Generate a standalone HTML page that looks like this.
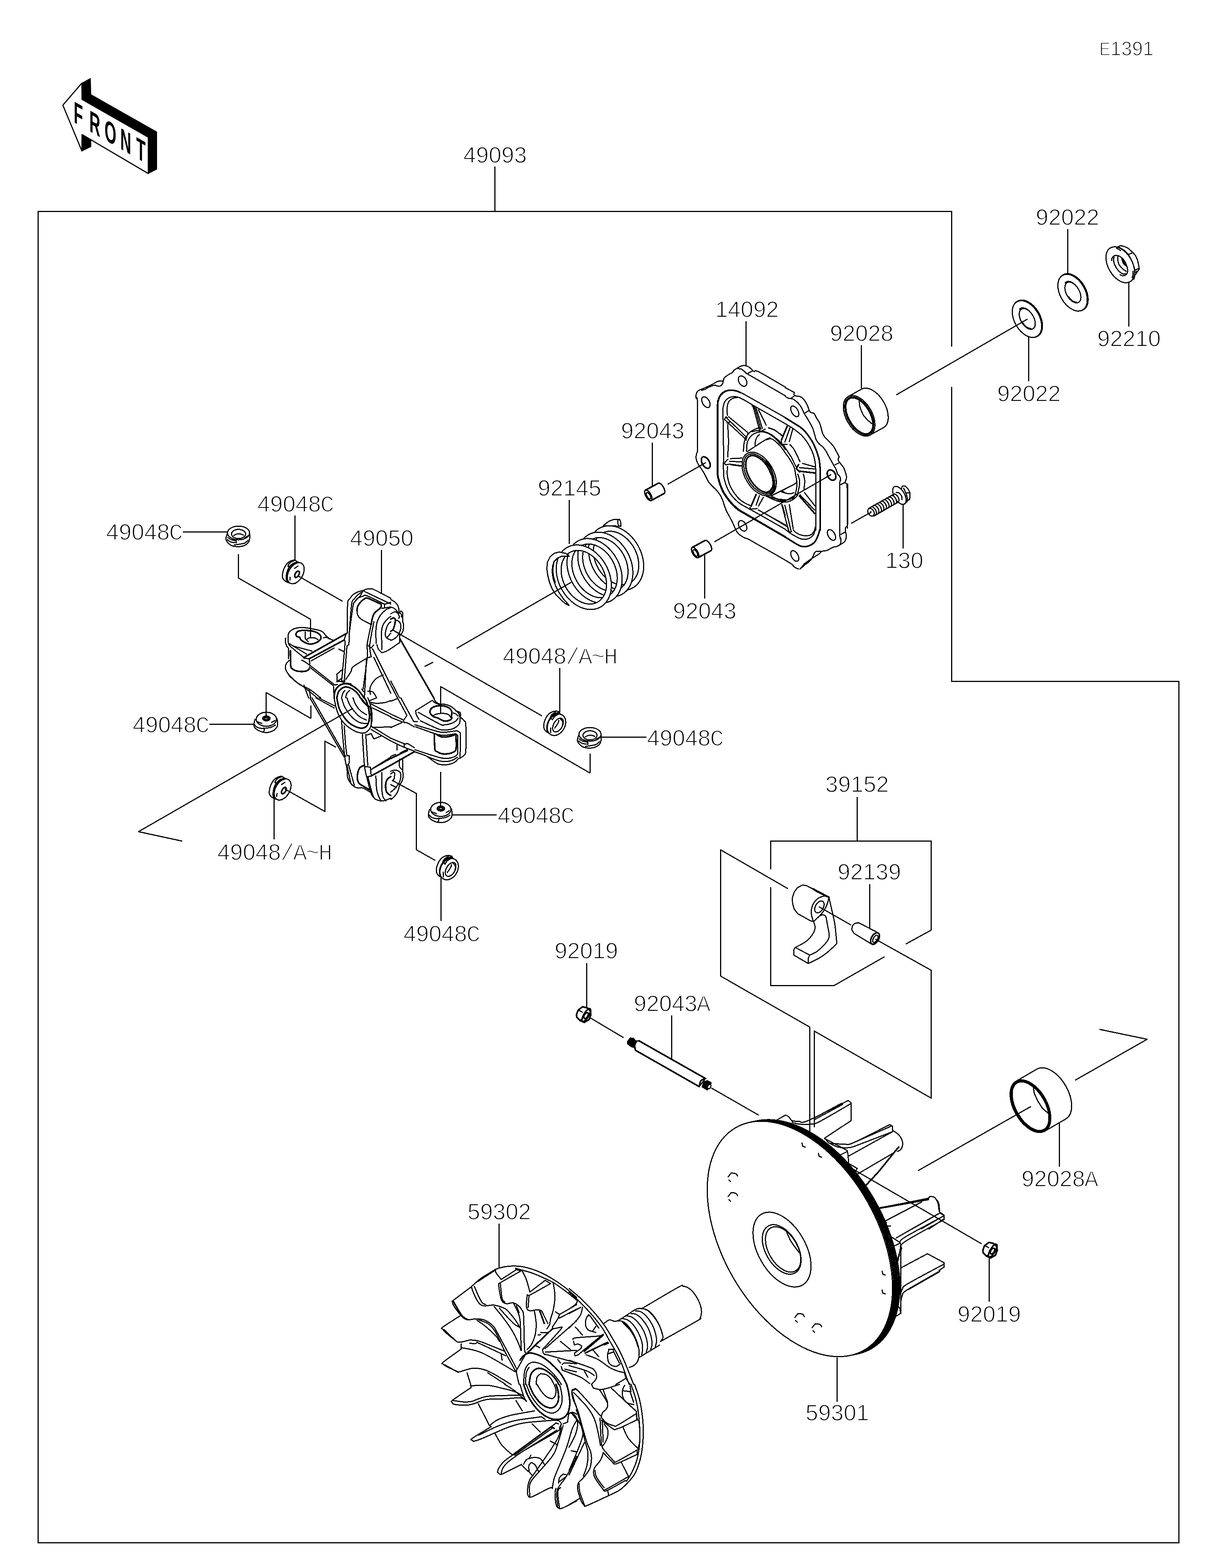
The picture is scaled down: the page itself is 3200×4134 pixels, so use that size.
<!DOCTYPE html>
<html lang="en">
<head>
<meta charset="utf-8">
<title>E1391 Drive Converter</title>
<style>
html,body{margin:0;padding:0;background:#fff;}
body{width:3200px;height:4134px;overflow:hidden;}
svg{display:block;shape-rendering:crispEdges;}
.L{fill:none;stroke:#000;stroke-width:3;stroke-linecap:butt;stroke-linejoin:round;}
.l{fill:none;stroke:#000;stroke-width:3;stroke-linecap:round;stroke-linejoin:round;}
.n{fill:none;stroke:#000;stroke-width:2.2;stroke-linecap:round;stroke-linejoin:round;}
.b{fill:none;stroke:#000;stroke-width:4.2;stroke-linecap:round;stroke-linejoin:round;}
.f{fill:#fff;stroke:#000;stroke-width:3;stroke-linejoin:round;}
.k{fill:#000;stroke:#000;stroke-width:1.5;stroke-linejoin:round;}
.w{fill:#fff;stroke:none;}

.t{font-family:"Liberation Sans",sans-serif;font-size:60px;fill:#000;stroke:#fff;stroke-width:2px;}
.m{font-family:"Liberation Mono",monospace;font-size:62px;stroke-width:2.6px;}
.fr{font-family:"Liberation Sans",sans-serif;font-weight:bold;font-size:80px;fill:#000;text-anchor:middle;}
</style>
</head>
<body>
<svg width="3200" height="4134" viewBox="0 0 3200 4134">
<rect x="0" y="0" width="3200" height="4134" fill="#fff"/>
<g id="frame" class="L">
<path d="M2508.5 914 V557.5 H100.5 V4067.5 H3107.5 V1796.5 H2508.5 V1020"/>
<path d="M1304.5 439 V557"/>
</g>
<g id="front" shape-rendering="geometricPrecision">
<path class="k" d="M215.9 219 L238.5 206.6 L239.7 249.2 L413.2 347.6 L413.2 446.1 L391 457.6 L391 361.8 L216.3 262 Z"/>
<path class="k" d="M216.3 354.7 L239.7 368 L239.7 386.7 L215.9 398.2 Z"/>
<path class="f" style="stroke-width:3" d="M165.7 277.2 L215.9 219 L216.3 262 L391 361.8 L391 457.6 L216.3 354.7 L215.9 398.2 Z"/>
<text class="fr" transform="matrix(0.5 0.2855 0 1 206.5 329)" x="0 87 169 250 330" y="0">FRONT</text>
</g>
<g id="washers">
<ellipse class="f" cx="2828.8" cy="770.7" rx="53.3" ry="33.5" transform="rotate(60 2828.8 770.7)"/>
<ellipse class="f" cx="2827.2" cy="771.6" rx="52.6" ry="32.8" transform="rotate(60 2827.2 771.6)"/>
<ellipse class="f" cx="2828" cy="771.1" rx="30.1" ry="17.1" transform="rotate(60 2828 771.1)"/>
<path class="l" d="M2807.7 745.4 A31.5 18.4 60 0 1 2835.6 752.7"/>
<path class="l" d="M2837.5 796.8 A30.1 17.1 60 0 1 2816.5 782.3"/>
<ellipse class="f" cx="2708.5" cy="840.3" rx="53.3" ry="33.5" transform="rotate(60 2708.5 840.3)"/>
<ellipse class="f" cx="2707" cy="841.2" rx="52.6" ry="32.8" transform="rotate(60 2707 841.2)"/>
<ellipse class="f" cx="2707.8" cy="840.8" rx="30.1" ry="17.1" transform="rotate(60 2707.8 840.8)"/>
<path class="l" d="M2687.5 815.1 A31.5 18.4 60 0 1 2715.3 822.4"/>
<path class="l" d="M2717.3 866.4 A30.1 17.1 60 0 1 2696.3 851.9"/>
<path class="L" d="M2362.4 1041.2 L2708.4 841.2"/>
</g>
<g id="nut">
<path class="f" d="M2947.1 650.7 L2953.7 647.6 L2963.7 649.9 L2973.6 654.4 L2986 665.6 L2992.7 673.1 L2998.5 685.5 L3001.4 698.7 L3002.6 707 L3003.4 708.7 L3000.1 713.6 L2991.8 725.2 L2989.3 735.1 L2981.1 740.5 L2973.6 744.3 L2952.9 698.1 Z"/>
<path class="l" d="M2950.4 652.4 L2964.5 660.6 L2972.8 669.7 L2977.8 676.4 L2981.1 684.6 L2986 694.6 L2989.3 704.5 L2991.4 712.8 L2990.2 721.1 L2987.7 731.8 L2981.1 739.3"/>
<path class="l" d="M2973.6 671.4 L2984.8 666.4"/>
<path class="l" d="M2991.4 712.4 L3000.9 708.2"/>
<path class="l" d="M2993.5 718.2 L2996.8 714.9"/>
<ellipse class="f" cx="2952.9" cy="698.1" rx="51.5" ry="31.7" transform="rotate(60 2952.9 698.1)"/>
<path class="l" d="M2943 654.4 L2948.8 656.9 L2953.7 660.6"/>
<path class="l" d="M2986.5 715.3 L2986.7 723.6 L2984.4 731.8"/>
<path class="l" d="M2930.6 686.7 L2931 681.3 L2933.9 676.4 L2938 673.9 L2943 673.5 L2948 674.3 L2952.9 676.4 L2960.4 683 L2967 692.9 L2971.1 704.5 L2972.8 712.8 L2971.5 719.4 L2968.7 723.6 L2964.5 726.5 L2958.7 727.3 L2952.5 724.4"/>
<path class="l" d="M2936.4 677.2 L2935.4 683 L2935.5 688 L2937.2 696.2 L2943 707 L2948 713.6 L2954.6 719.4 L2960.4 722.7 L2966.2 721.9"/>
<path class="l" d="M2946.3 676.4 L2946.1 683 L2946.7 688 L2949.6 697.9 L2955.4 705.3 L2962 711.1 L2968.7 715.3"/>
<path class="k" d="M2956.2 681.3 L2960.4 683.8 L2964.5 689.6 L2967.8 695.4 L2969.9 703.3 L2964.5 698.7 L2960.4 695.4 L2957.9 688 Z"/>
</g>
<g id="bushing92028">
<ellipse class="f" cx="2299.7" cy="1076.8" rx="58.4" ry="34.2" transform="rotate(60 2299.7 1076.8)"/>
<path class="w" d="M2235.5 1045.7 L2270.5 1026.2 L2328.8 1127.3 L2293.9 1146.8Z"/>
<path class="l" d="M2235.5 1045.7 L2270.5 1026.2"/>
<path class="l" d="M2293.9 1146.8 L2328.8 1127.3"/>
<ellipse class="f" cx="2264.7" cy="1096.3" rx="58.4" ry="34.2" transform="rotate(60 2264.7 1096.3)"/>
<ellipse class="l" cx="2264.9" cy="1096.3" rx="54.9" ry="30.7" transform="rotate(60 2264.9 1096.3)"/>
<ellipse class="f" cx="2265.1" cy="1096.3" rx="52" ry="27.9" transform="rotate(60 2265.1 1096.3)"/>
<path class="l" d="M2264.8 1058.3 L2265.5 1066.3 L2266.9 1073.4 L2270.8 1084 L2275.8 1094.7 L2286.4 1107.1 L2298 1116.8"/>
</g>
<g id="bushing92028A">
<ellipse class="f" cx="2771.2" cy="2884.5" rx="75.9" ry="43.6" transform="rotate(60 2771.2 2884.5)"/>
<path class="w" d="M2678.2 2850.7 L2733.2 2818.7 L2809.1 2950.3 L2754.1 2982.2Z"/>
<path class="l" d="M2678.2 2850.7 L2733.2 2818.7"/>
<path class="l" d="M2754.1 2982.2 L2809.1 2950.3"/>
<ellipse class="f" cx="2716.2" cy="2916.4" rx="75.9" ry="43.6" transform="rotate(60 2716.2 2916.4)"/>
<ellipse class="l" cx="2716.3" cy="2916.4" rx="73" ry="40.7" transform="rotate(60 2716.3 2916.4)"/>
<ellipse class="f" cx="2716.5" cy="2916.4" rx="70.6" ry="38.3" transform="rotate(60 2716.5 2916.4)"/>
<path class="l" d="M2723.8 2866.9 L2726.4 2882.9 L2735.3 2902.4 L2747.7 2921.9 L2761.9 2934.3"/>
</g>
<g class="th"><g id="coverA">
<path class="l" d="M1838.5 1190 C1838.5 1168.8 1839.1 1086.1 1838.5 1062.7 C1837.9 1039.3 1835.4 1053.1 1834.8 1049.4 C1834.2 1045.7 1834.4 1043 1834.8 1040.5 C1835.2 1038.1 1836 1036.4 1837 1034.6 C1838 1032.8 1837.9 1031.6 1840.7 1029.9 C1843.5 1028.2 1849.3 1026.3 1854 1024.3 C1858.7 1022.2 1864.1 1019.8 1868.8 1017.6 C1873.5 1015.4 1878.2 1013 1882.1 1011 C1886 1008.9 1888.4 1006.4 1892.4 1005.3 C1896.5 1004.3 1904.1 1004.9 1906.5 1004.8 C1906.9 1003.4 1907.3 999.1 1908.7 996.9 C1910.1 994.8 1912.2 993.6 1914.6 991.7 C1917.1 989.9 1920.8 987.4 1923.5 985.8 C1926.2 984.2 1929.2 983.6 1930.9 982.1 C1932.6 980.7 1931.9 978.8 1933.8 977 C1935.8 975.1 1939.5 973 1942.7 971 C1945.9 969.1 1950.1 966.4 1953.1 965.1 C1956 963.9 1958.2 963.8 1960.4 963.7 C1962.7 963.5 1964.1 963.8 1966.4 964.4 C1968.6 965 1971.5 966 1973.8 967.4 C1976 968.7 1977.9 970.9 1979.7 972.5 C1981.4 974.1 1982.6 975.7 1984.1 977 C1985.6 978.2 1986 979.4 1988.5 979.9 C1991.1 980.5 1986.1 973.4 1999.6 980.2 C2013.2 987 2058.3 1013.8 2070 1020.6"/>
<path class="l" d="M1849.6 1029.1 C1851 1028.7 1855.2 1027.9 1858.4 1026.5 C1861.6 1025.1 1864.6 1022.4 1868.8 1020.6 C1873 1018.7 1880.1 1015.9 1883.6 1015.4 C1887 1014.9 1887 1017.2 1889.5 1017.6 C1891.9 1018 1895.9 1018.5 1898.4 1017.6 C1900.8 1016.8 1902.9 1014.5 1904.3 1012.4 C1905.6 1010.3 1906.1 1006.3 1906.5 1005.1"/>
<path class="l" d="M1945.7 971.8 C1946.9 972 1950.6 971.8 1953.1 972.8 C1955.5 973.8 1958 975.8 1960.4 977.7 C1962.9 979.6 1965.4 982.5 1967.8 984.4 C1970.3 986.2 1958.2 978.9 1975.2 988.8 C1992.3 998.6 2054.2 1034.4 2070 1043.5"/>
<path class="l" d="M1972.3 983.6 L1982.6 978.7"/>
<ellipse class="l" cx="1957.3" cy="1004.7" rx="14.7" ry="9.9" transform="rotate(60 1957.3 1004.7)"/>
<ellipse class="l" cx="1860.7" cy="1060.3" rx="15.5" ry="9.1" transform="rotate(60 1860.7 1060.3)"/>
<path class="l" d="M1891 1190 C1891 1169.8 1890.8 1090.6 1891 1068.6 C1891.1 1046.7 1891.3 1061.7 1892 1058.3 C1892.7 1054.8 1893.7 1050.9 1895 1047.9 C1896.2 1045 1897.4 1042.9 1899.4 1040.5 C1901.4 1038.1 1903.8 1035.5 1906.8 1033.6 C1909.8 1031.7 1913.6 1030 1917.6 1029.1 C1921.6 1028.3 1926.7 1028.2 1930.9 1028.4 C1935.1 1028.7 1939 1029.5 1942.7 1030.6 C1946.4 1031.7 1948.9 1033 1953.1 1035.1 C1957.2 1037.2 1948.4 1032.2 1967.8 1043.2 C1987.3 1054.2 2053 1091.2 2070 1100.9"/>
<path class="l" d="M1892.4 1190 C1892.4 1169.8 1892.3 1090.5 1892.4 1068.6 C1892.6 1046.7 1892.8 1062 1893.5 1058.7 C1894.1 1055.4 1895.1 1051.5 1896.3 1048.7 C1897.5 1045.8 1898.8 1043.7 1900.7 1041.4 C1902.6 1039.1 1904.9 1036.8 1907.8 1034.9 C1910.7 1033.1 1914.2 1031.2 1918 1030.3 C1921.9 1029.4 1926.8 1029.3 1930.9 1029.6 C1934.9 1029.8 1938.8 1030.7 1942.4 1031.8 C1946 1032.9 1950.9 1035.5 1952.6 1036.2"/>
<path class="l" d="M1907.2 1190 C1907.1 1180.4 1906.7 1150.5 1906.5 1132.2 C1906.2 1113.9 1905.6 1091 1905.7 1080.4 C1905.9 1069.9 1906.5 1072.1 1907.2 1068.6 C1908 1065.2 1908.7 1062.5 1910.2 1059.8 C1911.7 1057 1913.6 1054.5 1916.1 1052.4 C1918.6 1050.3 1921.8 1048.3 1925 1047.2 C1928.2 1046.1 1931.9 1045.7 1935.3 1045.7 C1938.8 1045.7 1942.2 1046.2 1945.7 1047.2 C1949.1 1048.2 1952.3 1049.8 1956 1051.6 C1959.7 1053.5 1963.4 1055.7 1967.8 1058.3 C1972.3 1060.9 1978.7 1064.8 1982.6 1067.1 C1986.6 1069.5 1976.9 1064 1991.5 1072.3 C2006.1 1080.6 2056.9 1109.6 2070 1117.1"/>
<path class="l" d="M1917.6 1095.2 C1917.3 1092.8 1916.1 1084.9 1916.1 1080.4 C1916.1 1076 1916.8 1072.1 1917.6 1068.6 C1918.3 1065.2 1919.1 1062.3 1920.5 1059.8 C1922 1057.2 1924 1054.9 1926.4 1053.1 C1928.9 1051.3 1932.1 1050 1935.3 1049.1 C1938.5 1048.2 1943.9 1048.1 1945.7 1047.9"/>
<path class="l" d="M1918.3 1118.9 C1918.6 1126 1920.1 1149.9 1920.2 1161.8 C1920.4 1173.6 1919.3 1185.3 1919.1 1190"/>
<path class="l" d="M1920.8 1098.9 L1971.5 1140.8"/>
<path class="l" d="M1914.6 1101.1 L1965.6 1150.7"/>
<path class="l" d="M1909.4 1105.6 L1962.7 1155.1"/>
<path class="l" d="M1909.4 1105.6 L1913.9 1098.9 L1917.6 1101.9"/>
<path class="l" d="M1916.8 1115.2 L1923.5 1112.7"/>
<path class="l" d="M1982.6 1070.1 C1983.4 1071.6 1983.7 1067.9 1987.1 1079 C1990.4 1090.1 2000 1127 2002.6 1136.6"/>
<path class="l" d="M1990 1076 L2005.5 1132.2"/>
<path class="l" d="M1993.7 1077.5 L2009.2 1129.2"/>
<path class="l" d="M1999.6 1080.4 L2019.6 1121.1"/>
<path class="k" d="M1982.6 1070.1 L1992.2 1075.3 L1987.8 1078.2Z"/>
<path class="l" d="M2001.1 1131.5 L2004.8 1138.1 L2016.6 1131.5"/>
<path class="l" d="M1959.7 1190 C1959.8 1187.8 1960 1181.3 1960.4 1176.5 C1960.9 1171.8 1961.8 1165.5 1962.7 1161.8 C1963.5 1158.1 1964.5 1156.6 1965.6 1154.4 C1966.7 1152.2 1967.5 1150.9 1969.3 1148.5 C1971.2 1146 1974 1142.1 1976.7 1139.6 C1979.4 1137.1 1982.6 1135.3 1985.6 1133.7 C1988.5 1132.1 1991.7 1131 1994.5 1130 C1997.2 1129 2000.6 1128.1 2001.8 1127.8"/>
<path class="l" d="M2010.7 1136.6 C2013.4 1137.6 2021.8 1139.8 2027 1142.5 C2032.2 1145.3 2037.1 1149.2 2041.8 1152.9 C2046.4 1156.6 2051.4 1160.8 2055.1 1164.7 C2058.8 1168.7 2061.4 1173.1 2063.9 1176.5 C2066.4 1180 2069 1183.9 2070 1185.4"/>
<path class="l" d="M1967.8 1190 C1968.1 1186.5 1968.3 1174.6 1969.3 1169.2 C1970.3 1163.7 1971.5 1161 1973.8 1157.3 C1976 1153.6 1979.4 1149.7 1982.6 1147 C1985.8 1144.3 1989.3 1142.4 1993 1141.1 C1996.7 1139.7 2000.9 1139.1 2004.8 1138.8 C2008.7 1138.6 2012.4 1138.5 2016.6 1139.6 C2020.8 1140.7 2025.7 1143 2029.9 1145.5 C2034.1 1148 2038.1 1151.2 2041.8 1154.4 C2045.5 1157.6 2049.2 1161.5 2052.1 1164.7 C2055.1 1167.9 2058.3 1172.1 2059.5 1173.6"/>
<path class="l" d="M1982.6 1138.1 C1984.1 1137.7 1988.3 1136.4 1991.5 1135.9 C1994.7 1135.4 2000.1 1135.3 2001.8 1135.2"/>
<path class="l" d="M1990 1176.5 C1990.3 1174.1 1990.5 1166 1991.5 1161.8 C1992.5 1157.6 1994.2 1154.1 1995.9 1151.4 C1997.7 1148.7 2000.9 1146.5 2001.8 1145.5"/>
<path class="l" d="M1970.8 1190 C1978.4 1185 2006.8 1166.2 2016.6 1160.3 C2026.5 1154.3 2027.7 1155.4 2029.9 1154.4"/>
<path class="l" d="M2025.5 1127.8 C2028.2 1128.7 2037.1 1131.2 2041.8 1133.7 C2046.4 1136.1 2050.1 1139.8 2053.6 1142.5 C2057 1145.3 2061 1148.7 2062.5 1149.9"/>
<path class="n" d="M1962.7 1155.1 L1966.4 1161.8 L1971.5 1140.8"/>
</g>
<g id="coverB">
<path class="l" d="M2093.9 1034.7 L2092.4 1039.9 C2093.2 1040.5 2094.4 1042.8 2096.9 1043.6 C2099.3 1044.5 2104.3 1044.2 2107.2 1045.1 C2110.2 1046 2112.2 1046.7 2114.6 1048.8 C2117.1 1050.9 2119.8 1054.5 2122 1057.7 C2124.2 1060.9 2126.2 1064.3 2127.9 1068 C2129.6 1071.7 2130.9 1076.6 2132.4 1079.8 C2133.8 1083 2134.6 1085.5 2136.8 1087.2 C2139 1089 2143 1087.5 2145.7 1090.2 C2148.4 1092.9 2150.8 1099.8 2153.1 1103.5 C2155.3 1107.2 2157.2 1108.9 2159 1112.4 C2160.7 1115.8 2162.2 1120.2 2163.4 1124.2 C2164.6 1128.1 2165.4 1132.6 2166.4 1136 C2167.3 1139.5 2167.8 1141.9 2169.3 1144.9 C2170.8 1147.8 2172.3 1150.3 2175.2 1153.8 C2178.2 1157.2 2183.4 1161.6 2187.1 1165.6 C2190.8 1169.5 2194.5 1173.2 2197.4 1177.4 C2200.4 1181.6 2202.3 1186.2 2204.8 1190.7 C2207.3 1195.3 2211 1202.4 2212.2 1204.8 C2211.7 1205.6 2209.6 1208.3 2209.2 1209.9 C2208.9 1211.5 2209 1212.4 2210 1214.4 C2211 1216.3 2212.8 1218.6 2215.2 1221.8 C2217.5 1225 2221.6 1228.9 2224 1233.6 C2226.5 1238.3 2228.9 1247.3 2229.9 1250"/>
<path class="l" d="M2070 1022.2 L2093.9 1034.7"/>
<path class="l" d="M2070 1045.1 C2071.5 1046 2075.9 1049.2 2079.1 1050.3 C2082.4 1051.4 2086.3 1050.5 2089.5 1051.7 C2092.7 1053 2095.4 1055.2 2098.4 1057.7 C2101.3 1060.1 2104.5 1063.1 2107.2 1066.5 C2109.9 1070 2112.6 1074.7 2114.6 1078.4 C2116.6 1082.1 2117.1 1085 2119.1 1088.7 C2121 1092.4 2123.5 1095.6 2126.4 1100.5 C2129.4 1105.5 2134.1 1113.3 2136.8 1118.3 C2139.5 1123.2 2141 1125.7 2142.7 1130.1 C2144.4 1134.5 2145.7 1140 2147.1 1144.9 C2148.6 1149.8 2149.6 1155.5 2151.6 1159.7 C2153.6 1163.9 2156 1166.8 2159 1170 C2161.9 1173.2 2166.1 1175.4 2169.3 1178.9 C2172.5 1182.3 2176 1187.3 2178.2 1190.7 C2180.4 1194.2 2179.4 1193.7 2182.6 1199.6 C2185.8 1205.5 2194 1220 2197.4 1226.2 C2200.9 1232.4 2201.6 1232.6 2203.3 1236.5 C2205 1240.5 2207 1247.8 2207.8 1250"/>
<path class="l" d="M2085.8 1049.5 L2093.9 1044.1"/>
<path class="l" d="M2122 1088.7 L2131.6 1082.8"/>
<path class="l" d="M2201.1 1225.5 L2211.5 1220.3"/>
<ellipse class="l" cx="2095" cy="1084.5" rx="15.7" ry="8.4" transform="rotate(60 2095 1084.5)"/>
<path class="b" d="M2070 1101.4 C2074 1103.9 2087.5 1112.5 2093.9 1116.5 C2100.4 1120.5 2104.3 1122.4 2108.7 1125.7 C2113.1 1128.9 2116.6 1131.8 2120.5 1136 C2124.5 1140.2 2128.7 1145.6 2132.4 1150.8 C2136.1 1156 2139.8 1161.6 2142.7 1167.1 C2145.7 1172.5 2147.9 1177.9 2150.1 1183.3 C2152.3 1188.7 2154.4 1194.4 2156 1199.6 C2157.6 1204.8 2158.7 1208.2 2159.7 1214.4 C2160.7 1220.5 2161.6 1230.6 2161.9 1236.5 C2162.3 1242.5 2161.9 1247.8 2161.9 1250"/>
<path class="l" d="M2070 1117.1 C2071.5 1118 2075.6 1120.5 2079.1 1122.7 C2082.6 1124.9 2087 1127.4 2091 1130.1 C2094.9 1132.8 2098.8 1135.8 2102.8 1139 C2106.7 1142.2 2110.7 1145.1 2114.6 1149.3 C2118.6 1153.5 2122.7 1158.7 2126.4 1164.1 C2130.1 1169.5 2133.8 1175.9 2136.8 1181.8 C2139.8 1187.8 2142.2 1193.4 2144.2 1199.6 C2146.2 1205.7 2147.6 1212.6 2148.6 1218.8 C2149.6 1225 2149.7 1231.3 2150.1 1236.5 C2150.5 1241.7 2150.7 1247.8 2150.8 1250"/>
<path class="b" d="M2074.7 1124.2 L2059.9 1159.7"/>
<path class="l" d="M2082.1 1128.6 L2068.8 1165.6"/>
<path class="l" d="M2089.5 1131.6 L2080.6 1164.1"/>
<path class="l" d="M2059.2 1159.7 L2060.7 1171.5 L2074.7 1171.5"/>
<path class="l" d="M2025.2 1127.9 C2028 1129 2036.1 1131.2 2042.2 1134.5 C2048.2 1137.9 2058.2 1145.6 2061.4 1147.8"/>
<path class="l" d="M2020 1139.7 C2022 1140.6 2027.6 1142.3 2031.8 1144.9 C2036 1147.5 2041.2 1152 2045.1 1155.2 C2049.1 1158.4 2053.8 1162.6 2055.5 1164.1"/>
<path class="l" d="M2020 1159.7 C2021.5 1159.2 2026.2 1157 2028.9 1156.7 C2031.6 1156.5 2032.8 1156.2 2036.3 1158.2 C2039.7 1160.2 2045.4 1164.6 2049.6 1168.5 C2053.8 1172.5 2057.7 1177.2 2061.4 1181.8 C2065.1 1186.5 2068.8 1192.4 2071.7 1196.6 C2074.7 1200.8 2076.7 1203.3 2079.1 1207 C2081.6 1210.7 2084.1 1214.4 2086.5 1218.8 C2089 1223.2 2092.2 1228.4 2093.9 1233.6 C2095.6 1238.8 2096.4 1247.3 2096.9 1250"/>
<path class="l" d="M2065.8 1174.5 C2067.6 1177.2 2073 1185.8 2076.2 1190.7 C2079.4 1195.6 2082.3 1199.3 2085.1 1204 C2087.8 1208.7 2090.2 1214.4 2092.4 1218.8 C2094.7 1223.2 2097.4 1228.7 2098.4 1230.6"/>
<path class="l" d="M2082.1 1172.2 C2083.6 1173.8 2088 1177.5 2091 1181.8 C2093.9 1186.2 2096.9 1192.2 2099.8 1198.1 C2102.8 1204 2107.2 1214.1 2108.7 1217.3"/>
<path class="l" d="M2115.4 1221.8 L2147.1 1230.6"/>
<path class="l" d="M2107.2 1232.9 L2147.1 1236.5"/>
<path class="b" d="M2108.7 1242.5 L2147.1 1246.9"/>
<path class="b" d="M2105 1224.7 L2099.1 1235.1 L2107.2 1243.9"/>
<path class="l" d="M2020 1214.4 C2021.5 1216.6 2025.9 1221.7 2028.9 1227.7 C2031.8 1233.6 2036.3 1246.3 2037.7 1250"/>
<path class="l" d="M2020 1221.8 L2031.8 1250"/>
</g>
<g id="coverC">
<path class="l" d="M1838.5 1190 C1838 1191.5 1836.1 1195.9 1835.5 1198.9 C1834.9 1201.8 1834.5 1204.8 1834.8 1207.7 C1835 1210.7 1835.8 1213.4 1837 1216.6 C1838.2 1219.8 1840.1 1223.5 1842.2 1227 C1844.3 1230.4 1846.9 1233.1 1849.6 1237.3 C1852.3 1241.5 1855.5 1246.7 1858.4 1252.1 C1861.4 1257.5 1864.4 1265.2 1867.3 1269.8 C1870.3 1274.5 1872.5 1276.2 1876.2 1280.2 C1879.9 1284.1 1885.8 1289.3 1889.5 1293.5 C1893.2 1297.7 1895.9 1301.4 1898.4 1305.3 C1900.8 1309.3 1902.5 1313 1904.3 1317.1 C1906 1321.3 1907 1325.5 1908.7 1330.4 C1910.4 1335.4 1912.2 1341.3 1914.6 1346.7 C1917.1 1352.1 1920.5 1357.3 1923.5 1363 C1926.4 1368.6 1929.9 1375.5 1932.4 1380.7 C1934.8 1385.9 1936.5 1390.3 1938.3 1394 C1940 1397.7 1940.7 1400.2 1942.7 1402.9 C1944.7 1405.6 1946.9 1407.8 1950.1 1410.3 C1953.3 1412.7 1958 1415.7 1961.9 1417.7 C1965.9 1419.6 1966.6 1418.4 1973.8 1422.1 C1980.9 1425.8 1999.6 1437 2004.8 1440"/>
<ellipse class="b" cx="1860.4" cy="1219.6" rx="16.7" ry="9.6" transform="rotate(60 1860.4 1219.6)"/>
<ellipse class="l" cx="1957.5" cy="1386.4" rx="15" ry="9.4" transform="rotate(60 1957.5 1386.4)"/>
<path class="b" d="M1891.4 1190 C1891.4 1199.9 1891 1236.8 1891.4 1249.1 C1891.8 1261.5 1892.8 1259 1893.9 1263.9 C1895.1 1268.8 1896.4 1273.3 1898.4 1278.7 C1900.3 1284.1 1902.8 1290.8 1905.7 1296.4 C1908.7 1302.1 1912.2 1307.3 1916.1 1312.7 C1920 1318.1 1924.5 1323.8 1929.4 1329 C1934.3 1334.1 1939.3 1339.1 1945.7 1343.8 C1952.1 1348.4 1947.1 1345 1967.8 1357.1 C1988.6 1369.1 2053 1406.3 2070 1416.2"/>
<path class="l" d="M1892.7 1190 C1892.7 1199.9 1892.3 1236.9 1892.7 1249.1 C1893.2 1261.4 1894.1 1258.8 1895.3 1263.6 C1896.4 1268.5 1897.7 1272.8 1899.7 1278.1 C1901.7 1283.4 1904.1 1290 1907.1 1295.6 C1910 1301.2 1913.5 1306.3 1917.4 1311.7 C1921.3 1317 1925.7 1322.7 1930.6 1327.8 C1935.5 1332.9 1940.4 1337.8 1946.7 1342.4 C1953 1347.1 1948 1343.7 1968.6 1355.7 C1989.1 1367.8 2053.1 1404.8 2070 1414.6"/>
<path class="l" d="M1907.2 1190 C1907.2 1199.9 1906.7 1236.3 1907.2 1249.1 C1907.7 1261.9 1908.7 1261 1910.2 1266.9 C1911.7 1272.8 1913.9 1279.2 1916.1 1284.6 C1918.3 1290 1920.3 1294.5 1923.5 1299.4 C1926.7 1304.3 1930.9 1309.5 1935.3 1314.2 C1939.8 1318.9 1944.7 1323.6 1950.1 1327.5 C1955.5 1331.4 1960 1333.4 1967.8 1337.8 C1975.7 1342.3 1980.4 1344.5 1997.4 1354.1 C2014.4 1363.7 2057.9 1388.6 2070 1395.5"/>
<path class="l" d="M1917.6 1229.9 C1917.5 1233.1 1916.6 1243.5 1916.8 1249.1 C1917.1 1254.8 1917.9 1259 1919.1 1263.9 C1920.2 1268.8 1921.8 1274.3 1923.5 1278.7 C1925.2 1283.1 1926.9 1286.3 1929.4 1290.5 C1931.9 1294.7 1935.1 1299.6 1938.3 1303.8 C1941.5 1308 1944.9 1312.2 1948.6 1315.7 C1952.3 1319.1 1955.8 1321.7 1960.4 1324.5 C1965.1 1327.4 1974 1331.3 1976.7 1332.7"/>
<path class="l" d="M1998.9 1344.5 L2070 1383.7"/>
<path class="l" d="M1918.3 1190 L1918.3 1204.8"/>
<path class="l" d="M1925.7 1209.2 L1956 1207.7"/>
<path class="l" d="M1923.5 1216.6 L1954.5 1217.4"/>
<path class="b" d="M1926.4 1224.7 L1953.1 1228.4"/>
<path class="l" d="M1919.1 1210 L1908.7 1221.8 L1913.1 1225.5 L1925 1223.3"/>
<ellipse class="l" cx="2001.1" cy="1249.5" rx="62.5" ry="37.5" transform="rotate(60 2001.1 1249.5)"/>
<ellipse class="l" cx="2001.1" cy="1249.5" rx="58" ry="32.9" transform="rotate(60 2001.1 1249.5)"/>
<ellipse class="b" cx="2001.8" cy="1249.5" rx="53.5" ry="28.2" transform="rotate(60 2001.8 1249.5)"/>
<path class="b" d="M1993 1303.8 L1979.7 1334.9"/>
<path class="l" d="M2001.8 1306.8 L1993 1331.9"/>
<path class="l" d="M2012.2 1311.2 L1998.9 1334.9"/>
<path class="l" d="M1976.7 1337.8 L1979.7 1342.3 L1995.9 1340.8"/>
<path class="l" d="M2034.4 1306.8 L2070 1289.1"/>
<path class="l" d="M2024 1306.8 C2026.5 1308.5 2033.4 1314.7 2038.8 1317.1 C2044.2 1319.6 2051.3 1320.8 2056.5 1321.6 C2061.7 1322.3 2067.8 1321.6 2070 1321.6"/>
<path class="l" d="M2029.9 1305.3 C2033.1 1307 2042.5 1313.7 2049.2 1315.7 C2055.8 1317.6 2066.5 1316.9 2070 1317.1"/>
<path class="l" d="M2061 1293.5 L2070 1299.4"/>
<path class="l" d="M2062.5 1331.9 L2070 1360"/>
</g>
<g id="coverD">
<path class="l" d="M2229.9 1250 C2230.2 1251.5 2231.7 1255.7 2231.4 1258.9 C2231.2 1262.1 2229.2 1267 2228.5 1269.2 C2227.7 1271.4 2227.2 1271.7 2227 1272.2 L2232.9 1275.9 C2233.1 1293.7 2233.9 1364.5 2233.9 1383.1 C2233.9 1401.7 2233.7 1386.3 2232.9 1387.5 C2232.1 1388.7 2229.9 1388.2 2229.2 1390.4 C2228.5 1392.7 2228.2 1397.6 2228.5 1400.8 C2228.7 1404 2230.4 1406.5 2230.7 1409.7 C2230.9 1412.9 2230.8 1416.8 2229.9 1420 C2229.1 1423.2 2227.7 1426.4 2225.5 1428.9 C2223.3 1431.4 2219.8 1432.8 2216.6 1434.8 C2213.4 1436.8 2209.5 1439.5 2206.3 1440.7 C2203.1 1441.9 2200.4 1441.2 2197.4 1442.2 C2194.5 1443.2 2191.5 1445.2 2188.5 1446.6 C2185.6 1448.1 2183.4 1450 2179.7 1451.1 C2176 1452.2 2170.8 1452.9 2166.4 1453.3 C2161.9 1453.7 2156.3 1452.7 2153.1 1453.3 C2149.9 1453.9 2148.6 1455.1 2147.1 1457 C2145.7 1458.8 2145.7 1461.4 2144.2 1464.4 C2142.7 1467.3 2140.7 1471.5 2138.3 1474.7 C2135.8 1477.9 2132.4 1481.1 2129.4 1483.6 C2126.4 1486.1 2123 1487.5 2120.5 1489.5 C2118.1 1491.5 2116.6 1493.7 2114.6 1495.4 C2112.6 1497.2 2109.7 1499.2 2108.7 1500"/>
<path class="l" d="M2234.4 1276.6 L2234.4 1383.1"/>
<path class="l" d="M2207.8 1250 C2208.5 1250.7 2211 1252.7 2212.2 1254.4 C2213.4 1256.2 2214.5 1258.1 2215.2 1260.3 C2215.8 1262.6 2216.1 1264.5 2215.9 1267.7 C2215.6 1270.9 2214 1256.4 2213.7 1279.6 C2213.3 1302.7 2213.2 1383.3 2213.7 1406.7 C2214.2 1430.1 2216.3 1415.8 2216.6 1420 C2217 1424.2 2216.4 1429.1 2215.9 1431.8 C2215.4 1434.6 2214 1435.5 2213.7 1436.3"/>
<path class="l" d="M2216.6 1277.4 L2227 1272.2"/>
<path class="l" d="M2216.6 1408.9 L2228.5 1402.3"/>
<path class="l" d="M2004.8 1440 C2007.3 1441.3 2006.9 1440.6 2020 1448.1 C2033.1 1455.6 2071.7 1477.7 2083.6 1485.1 C2095.4 1492.5 2088.5 1490.4 2091 1492.5 C2093.4 1494.6 2096.1 1496.4 2098.4 1497.6 C2100.6 1498.9 2103.3 1499.6 2104.3 1500"/>
<path class="l" d="M2110.2 1499.1 C2111.9 1497 2116.8 1490.1 2120.5 1486.5 C2124.2 1483 2128.2 1480.6 2132.4 1477.7 C2136.5 1474.7 2141.5 1471.5 2145.7 1468.8 C2149.9 1466.1 2154.2 1463.9 2157.5 1461.4 C2160.8 1458.9 2164.3 1455.3 2165.6 1454"/>
<ellipse class="b" cx="2191.9" cy="1252.6" rx="14.7" ry="10.2" transform="rotate(60 2191.9 1252.6)"/>
<ellipse class="l" cx="2191.7" cy="1410.4" rx="15.4" ry="8.9" transform="rotate(60 2191.7 1410.4)"/>
<ellipse class="l" cx="2095" cy="1465.8" rx="15.4" ry="8.6" transform="rotate(60 2095 1465.8)"/>
<path class="b" d="M2161.9 1250 C2162 1272.2 2162.5 1358.4 2162.2 1383.1 C2162 1407.7 2161.5 1392.9 2160.4 1397.8 C2159.4 1402.8 2158 1407.7 2156 1412.6 C2154 1417.6 2151.6 1423.5 2148.6 1427.4 C2145.7 1431.4 2142 1434.1 2138.3 1436.3 C2134.6 1438.5 2130.4 1440 2126.4 1440.7 C2122.5 1441.5 2118.6 1441.5 2114.6 1440.7 C2110.7 1440 2110.2 1440.4 2102.8 1436.3 C2095.3 1432.2 2075.4 1419.5 2070 1416.2"/>
<path class="l" d="M2150.1 1250 C2150.2 1272.2 2151.1 1358.4 2150.8 1383.1 C2150.6 1407.7 2149.7 1393.4 2148.6 1397.8 C2147.5 1402.3 2146.2 1406.5 2144.2 1409.7 C2142.2 1412.9 2139.8 1415.1 2136.8 1417.1 C2133.8 1419 2130.1 1420.8 2126.4 1421.5 C2122.7 1422.2 2118.6 1422.2 2114.6 1421.5 C2110.7 1420.8 2108.2 1419.8 2102.8 1417.1 C2097.4 1414.4 2087.6 1408.8 2082.1 1405.2 C2076.6 1401.6 2072 1397.1 2070 1395.5"/>
<path class="l" d="M2091 1397.8 C2092.4 1399.1 2096.9 1403.3 2099.8 1405.2 C2102.8 1407.2 2105.7 1408.6 2108.7 1409.7 C2111.7 1410.8 2114.6 1411.4 2117.6 1411.9 C2120.5 1412.4 2123 1413 2126.4 1412.6 C2129.9 1412.3 2135.1 1411.6 2138.3 1409.7 C2141.5 1407.7 2143.8 1404.2 2145.7 1400.8 C2147.5 1397.3 2148.7 1390.9 2149.4 1389"/>
<path class="l" d="M2020 1355.7 L2073.2 1387.5"/>
<path class="l" d="M2060.7 1330.6 L2079.1 1400.8"/>
<path class="l" d="M2068.8 1332.1 L2085.1 1399.3"/>
<path class="l" d="M2080.6 1330.6 L2091 1394.9"/>
<path class="l" d="M2076.2 1389 L2080.6 1403 L2086.5 1401.5"/>
<path class="b" d="M2107.2 1307.7 L2147.1 1353.5"/>
<path class="l" d="M2108.7 1304.7 L2147.1 1344.6"/>
<path class="l" d="M2120.5 1298.8 L2148.6 1334.3"/>
<path class="l" d="M2020 1307.7 C2022.5 1308.9 2029.9 1312.8 2034.8 1315.1 C2039.7 1317.3 2044.6 1319.5 2049.6 1321 C2054.5 1322.4 2059.4 1323.7 2064.4 1323.9 C2069.3 1324.2 2074.7 1323.7 2079.1 1322.4 C2083.6 1321.2 2087.5 1318.7 2091 1316.5 C2094.4 1314.3 2097.6 1311.8 2099.8 1309.1 C2102.1 1306.4 2103.5 1301.7 2104.3 1300.3"/>
<path class="l" d="M2025.9 1309.1 C2029.9 1310.4 2043.2 1314.8 2049.6 1316.5 C2056 1318.3 2059.4 1319.4 2064.4 1319.5 C2069.3 1319.6 2074.9 1318.5 2079.1 1317.3 C2083.3 1316 2086.3 1314.4 2089.5 1312.1 C2092.7 1309.8 2096.9 1304.7 2098.4 1303.2"/>
<path class="l" d="M2058.4 1295.8 C2060.7 1296.6 2067.6 1299.3 2071.7 1300.3 C2075.9 1301.3 2080.1 1302 2083.6 1301.7 C2087 1301.5 2091 1299.3 2092.4 1298.8"/>
<path class="l" d="M2096.9 1250 C2097.4 1252.5 2099.2 1259.9 2099.8 1264.8 C2100.5 1269.7 2100.8 1274.6 2100.6 1279.6 C2100.3 1284.5 2099.5 1289.4 2098.4 1294.4 C2097.2 1299.3 2095.4 1305.7 2093.9 1309.1 C2092.4 1312.6 2090.2 1314.1 2089.5 1315.1"/>
<path class="l" d="M2102.8 1250 C2103.5 1252.5 2106.5 1259.9 2107.2 1264.8 C2108 1269.7 2107.7 1274.6 2107.2 1279.6 C2106.7 1284.5 2105 1290.9 2104.3 1294.4 C2103.5 1297.8 2103 1299.3 2102.8 1300.3"/>
<path class="l" d="M2117.6 1250 C2118.2 1253 2121 1261.1 2121.3 1267.7 C2121.5 1274.4 2119.4 1286.2 2119.1 1289.9"/>
<path class="l" d="M2034.8 1306.2 C2044.4 1301.4 2081.6 1283.5 2092.4 1277.4 C2103.3 1271.2 2098.6 1270.6 2099.8 1269.2"/>
<path class="b" d="M2020 1298.8 C2021.5 1298 2026.2 1296.8 2028.9 1294.4 C2031.6 1291.9 2034.5 1288.4 2036.3 1284 C2038 1279.6 2039.2 1273.4 2039.2 1267.7 C2039.2 1262.1 2036.8 1253 2036.3 1250"/>
<path class="l" d="M2042.2 1250 C2042.8 1252.5 2045.4 1259.9 2045.9 1264.8 C2046.4 1269.7 2046.2 1274.6 2045.1 1279.6 C2044 1284.5 2041.9 1290.2 2039.2 1294.4 C2036.5 1298.5 2032.1 1302.2 2028.9 1304.7 C2025.7 1307.2 2021.5 1308.4 2020 1309.1"/>
</g></g>
<g id="spring">
<path class="f" d="M1590.3 1386.1 L1597.4 1379.9 L1606.3 1373.7 L1618.7 1369.3 L1633.8 1369.3 L1636.4 1387.9 L1624 1387 L1611.6 1386.1 Z"/>
<ellipse class="f" cx="1632.4" cy="1378.7" rx="9.2" ry="3.9" transform="rotate(80 1632.4 1378.7)"/>
<path class="f" fill-rule="evenodd" d="M1667.7 1550.1 L1662.5 1552.6 L1657.0 1554.5 L1651.2 1555.7 L1645.2 1556.4 L1639.1 1556.3 L1632.8 1555.6 L1626.5 1554.3 L1620.2 1552.3 L1613.9 1549.8 L1607.7 1546.6 L1601.5 1542.8 L1595.6 1538.6 L1589.9 1533.7 L1584.4 1528.5 L1579.3 1522.8 L1574.5 1516.7 L1570.0 1510.2 L1566.0 1503.5 L1562.4 1496.5 L1559.3 1489.3 L1556.7 1482.0 L1554.5 1474.6 L1553.0 1467.1 L1551.9 1459.7 L1551.4 1452.4 L1551.5 1445.3 L1552.1 1438.3 L1553.2 1431.6 L1554.9 1425.2 L1557.2 1419.1 L1559.9 1413.4 L1563.1 1408.2 L1566.8 1403.5 L1570.9 1399.2 L1575.4 1395.6 L1580.3 1392.5 L1585.6 1390.0 L1591.1 1388.1 L1596.8 1386.8 L1602.8 1386.2 L1608.9 1386.2 L1615.2 1386.9 L1621.5 1388.3 L1627.9 1390.2 L1634.2 1392.8 L1640.4 1396.0 L1646.5 1399.7 L1652.4 1404.0 L1658.2 1408.8 L1663.6 1414.1 L1668.8 1419.8 L1673.6 1425.9 L1678.0 1432.4 L1682.1 1439.1 L1685.6 1446.1 L1688.8 1453.3 L1691.4 1460.6 L1693.5 1468.0 L1695.1 1475.4 L1696.1 1482.8 L1696.6 1490.1 L1696.6 1497.3 L1696.0 1504.3 L1694.8 1511.0 L1693.1 1517.4 L1690.9 1523.5 L1688.1 1529.1 L1684.9 1534.4 L1681.2 1539.1 L1677.1 1543.3 L1672.6 1547.0 L1667.7 1550.1Z M1660.4 1536.9 L1656.1 1539.0 L1651.6 1540.5 L1646.9 1541.5 L1642.0 1542.0 L1636.9 1541.9 L1631.8 1541.3 L1626.6 1540.1 L1621.4 1538.5 L1616.2 1536.3 L1611.0 1533.6 L1606.0 1530.5 L1601.1 1526.9 L1596.4 1522.9 L1591.8 1518.5 L1587.6 1513.7 L1583.6 1508.6 L1579.9 1503.2 L1576.5 1497.6 L1573.6 1491.8 L1570.9 1485.8 L1568.7 1479.7 L1567.0 1473.6 L1565.6 1467.4 L1564.7 1461.3 L1564.3 1455.2 L1564.3 1449.3 L1564.7 1443.5 L1565.6 1437.9 L1567.0 1432.6 L1568.8 1427.6 L1571.0 1422.9 L1573.6 1418.6 L1576.6 1414.7 L1579.9 1411.2 L1583.6 1408.2 L1587.6 1405.6 L1591.9 1403.6 L1596.4 1402.1 L1601.2 1401.1 L1606.1 1400.6 L1611.1 1400.7 L1616.3 1401.3 L1621.5 1402.4 L1626.7 1404.1 L1631.9 1406.3 L1637.0 1408.9 L1642.0 1412.1 L1646.9 1415.7 L1651.7 1419.7 L1656.2 1424.1 L1660.5 1428.9 L1664.5 1434.0 L1668.2 1439.3 L1671.5 1445.0 L1674.5 1450.8 L1677.1 1456.8 L1679.3 1462.8 L1681.1 1469.0 L1682.4 1475.2 L1683.3 1481.3 L1683.8 1487.4 L1683.8 1493.3 L1683.3 1499.1 L1682.4 1504.6 L1681.1 1510.0 L1679.3 1515.0 L1677.1 1519.6 L1674.4 1524.0 L1671.5 1527.9 L1668.1 1531.4 L1664.4 1534.4 L1660.4 1536.9Z"/>
<path class="f" fill-rule="evenodd" d="M1639.3 1567.0 L1634.1 1569.5 L1628.6 1571.3 L1622.8 1572.6 L1616.8 1573.2 L1610.7 1573.2 L1604.5 1572.5 L1598.1 1571.2 L1591.8 1569.2 L1585.5 1566.6 L1579.3 1563.4 L1573.2 1559.7 L1567.2 1555.4 L1561.5 1550.6 L1556.0 1545.3 L1550.9 1539.6 L1546.1 1533.5 L1541.6 1527.1 L1537.6 1520.3 L1534.0 1513.3 L1530.9 1506.1 L1528.3 1498.8 L1526.2 1491.4 L1524.6 1484.0 L1523.5 1476.6 L1523.0 1469.3 L1523.1 1462.1 L1523.7 1455.1 L1524.9 1448.4 L1526.6 1442.0 L1528.8 1436.0 L1531.5 1430.3 L1534.7 1425.1 L1538.4 1420.3 L1542.5 1416.1 L1547.1 1412.4 L1551.9 1409.3 L1557.2 1406.8 L1562.7 1404.9 L1568.5 1403.7 L1574.4 1403.1 L1580.6 1403.1 L1586.8 1403.8 L1593.1 1405.1 L1599.5 1407.1 L1605.8 1409.7 L1612.0 1412.8 L1618.1 1416.6 L1624.0 1420.9 L1629.8 1425.7 L1635.2 1430.9 L1640.4 1436.7 L1645.2 1442.8 L1649.6 1449.2 L1653.7 1456.0 L1657.3 1463.0 L1660.4 1470.1 L1663.0 1477.5 L1665.1 1484.9 L1666.7 1492.3 L1667.7 1499.7 L1668.2 1507.0 L1668.2 1514.2 L1667.6 1521.1 L1666.4 1527.8 L1664.7 1534.3 L1662.5 1540.3 L1659.8 1546.0 L1656.5 1551.2 L1652.9 1556.0 L1648.7 1560.2 L1644.2 1563.9 L1639.3 1567.0Z M1632.0 1553.8 L1627.7 1555.8 L1623.2 1557.3 L1618.5 1558.3 L1613.6 1558.8 L1608.5 1558.7 L1603.4 1558.1 L1598.2 1557.0 L1593.0 1555.3 L1587.8 1553.2 L1582.6 1550.5 L1577.6 1547.3 L1572.7 1543.7 L1568.0 1539.7 L1563.5 1535.3 L1559.2 1530.5 L1555.2 1525.5 L1551.5 1520.1 L1548.2 1514.5 L1545.2 1508.6 L1542.6 1502.7 L1540.4 1496.6 L1538.6 1490.4 L1537.2 1484.3 L1536.3 1478.1 L1535.9 1472.0 L1535.9 1466.1 L1536.3 1460.3 L1537.2 1454.8 L1538.6 1449.5 L1540.4 1444.5 L1542.6 1439.8 L1545.2 1435.5 L1548.2 1431.6 L1551.6 1428.1 L1555.3 1425.0 L1559.3 1422.5 L1563.5 1420.5 L1568.1 1418.9 L1572.8 1417.9 L1577.7 1417.5 L1582.7 1417.5 L1587.9 1418.1 L1593.1 1419.3 L1598.3 1420.9 L1603.5 1423.1 L1608.6 1425.8 L1613.7 1428.9 L1618.6 1432.5 L1623.3 1436.5 L1627.8 1441.0 L1632.1 1445.7 L1636.1 1450.8 L1639.8 1456.2 L1643.1 1461.8 L1646.1 1467.6 L1648.7 1473.6 L1650.9 1479.7 L1652.7 1485.9 L1654.0 1492.0 L1654.9 1498.2 L1655.4 1504.2 L1655.4 1510.2 L1654.9 1515.9 L1654.0 1521.5 L1652.7 1526.8 L1650.9 1531.8 L1648.7 1536.5 L1646.1 1540.8 L1643.1 1544.7 L1639.7 1548.2 L1636.0 1551.2 L1632.0 1553.8Z"/>
<path class="f" fill-rule="evenodd" d="M1610.9 1583.8 L1605.7 1586.3 L1600.2 1588.2 L1594.4 1589.5 L1588.5 1590.1 L1582.3 1590.0 L1576.1 1589.3 L1569.8 1588.0 L1563.4 1586.1 L1557.1 1583.5 L1550.9 1580.3 L1544.8 1576.6 L1538.8 1572.3 L1533.1 1567.5 L1527.7 1562.2 L1522.5 1556.5 L1517.7 1550.4 L1513.2 1543.9 L1509.2 1537.2 L1505.6 1530.2 L1502.5 1523.0 L1499.9 1515.7 L1497.8 1508.3 L1496.2 1500.8 L1495.1 1493.4 L1494.7 1486.1 L1494.7 1479.0 L1495.3 1472.0 L1496.5 1465.3 L1498.2 1458.9 L1500.4 1452.8 L1503.1 1447.1 L1506.3 1441.9 L1510.0 1437.2 L1514.1 1433.0 L1518.7 1429.3 L1523.6 1426.2 L1528.8 1423.7 L1534.3 1421.8 L1540.1 1420.5 L1546.0 1419.9 L1552.2 1420.0 L1558.4 1420.6 L1564.7 1422.0 L1571.1 1423.9 L1577.4 1426.5 L1583.6 1429.7 L1589.7 1433.4 L1595.7 1437.7 L1601.4 1442.5 L1606.8 1447.8 L1612.0 1453.5 L1616.8 1459.6 L1621.3 1466.1 L1625.3 1472.8 L1628.9 1479.8 L1632.0 1487.0 L1634.6 1494.3 L1636.7 1501.7 L1638.3 1509.1 L1639.4 1516.5 L1639.8 1523.9 L1639.8 1531.0 L1639.2 1538.0 L1638.0 1544.7 L1636.3 1551.1 L1634.1 1557.2 L1631.4 1562.8 L1628.2 1568.1 L1624.5 1572.8 L1620.4 1577.0 L1615.8 1580.7 L1610.9 1583.8Z M1603.6 1570.6 L1599.4 1572.7 L1594.8 1574.2 L1590.1 1575.2 L1585.2 1575.7 L1580.2 1575.6 L1575.0 1575.0 L1569.8 1573.9 L1564.6 1572.2 L1559.4 1570.0 L1554.3 1567.3 L1549.2 1564.2 L1544.3 1560.6 L1539.6 1556.6 L1535.1 1552.2 L1530.8 1547.4 L1526.8 1542.3 L1523.1 1536.9 L1519.8 1531.3 L1516.8 1525.5 L1514.2 1519.5 L1512.0 1513.4 L1510.2 1507.3 L1508.8 1501.1 L1507.9 1495.0 L1507.5 1488.9 L1507.5 1483.0 L1508.0 1477.2 L1508.9 1471.6 L1510.2 1466.3 L1512.0 1461.3 L1514.2 1456.6 L1516.8 1452.3 L1519.8 1448.4 L1523.2 1444.9 L1526.9 1441.9 L1530.9 1439.4 L1535.1 1437.3 L1539.7 1435.8 L1544.4 1434.8 L1549.3 1434.3 L1554.3 1434.4 L1559.5 1435.0 L1564.7 1436.1 L1569.9 1437.8 L1575.1 1440.0 L1580.2 1442.6 L1585.3 1445.8 L1590.2 1449.4 L1594.9 1453.4 L1599.4 1457.8 L1603.7 1462.6 L1607.7 1467.7 L1611.4 1473.1 L1614.7 1478.7 L1617.7 1484.5 L1620.3 1490.5 L1622.5 1496.6 L1624.3 1502.7 L1625.7 1508.9 L1626.6 1515.0 L1627.0 1521.1 L1627.0 1527.0 L1626.6 1532.8 L1625.6 1538.4 L1624.3 1543.7 L1622.5 1548.7 L1620.3 1553.4 L1617.7 1557.7 L1614.7 1561.6 L1611.3 1565.1 L1607.6 1568.1 L1603.6 1570.6Z"/>
<path class="f" fill-rule="evenodd" d="M1582.6 1600.7 L1577.3 1603.2 L1571.8 1605.1 L1566.0 1606.3 L1560.1 1606.9 L1553.9 1606.9 L1547.7 1606.2 L1541.4 1604.9 L1535.0 1602.9 L1528.7 1600.3 L1522.5 1597.2 L1516.4 1593.4 L1510.5 1589.1 L1504.7 1584.3 L1499.3 1579.0 L1494.1 1573.3 L1489.3 1567.2 L1484.9 1560.8 L1480.8 1554.0 L1477.2 1547.0 L1474.1 1539.8 L1471.5 1532.5 L1469.4 1525.1 L1467.8 1517.7 L1466.8 1510.3 L1466.3 1503.0 L1466.3 1495.8 L1466.9 1488.9 L1468.1 1482.1 L1469.8 1475.7 L1472.0 1469.7 L1474.7 1464.0 L1478.0 1458.8 L1481.6 1454.0 L1485.8 1449.8 L1490.3 1446.1 L1495.2 1443.0 L1500.4 1440.5 L1505.9 1438.6 L1511.7 1437.4 L1517.7 1436.8 L1523.8 1436.8 L1530.0 1437.5 L1536.4 1438.8 L1542.7 1440.8 L1549.0 1443.4 L1555.2 1446.5 L1561.3 1450.3 L1567.3 1454.6 L1573.0 1459.4 L1578.5 1464.7 L1583.6 1470.4 L1588.4 1476.5 L1592.9 1482.9 L1596.9 1489.7 L1600.5 1496.7 L1603.6 1503.9 L1606.2 1511.2 L1608.3 1518.6 L1609.9 1526.0 L1611.0 1533.4 L1611.5 1540.7 L1611.4 1547.9 L1610.8 1554.8 L1609.6 1561.6 L1607.9 1568.0 L1605.7 1574.0 L1603.0 1579.7 L1599.8 1584.9 L1596.1 1589.7 L1592.0 1593.9 L1587.4 1597.6 L1582.6 1600.7Z M1575.2 1587.5 L1571.0 1589.5 L1566.4 1591.1 L1561.7 1592.1 L1556.8 1592.5 L1551.8 1592.5 L1546.6 1591.8 L1541.4 1590.7 L1536.2 1589.0 L1531.0 1586.9 L1525.9 1584.2 L1520.8 1581.1 L1515.9 1577.5 L1511.2 1573.4 L1506.7 1569.0 L1502.4 1564.3 L1498.4 1559.2 L1494.7 1553.8 L1491.4 1548.2 L1488.4 1542.3 L1485.8 1536.4 L1483.6 1530.3 L1481.8 1524.1 L1480.5 1518.0 L1479.6 1511.8 L1479.1 1505.8 L1479.1 1499.8 L1479.6 1494.0 L1480.5 1488.5 L1481.8 1483.2 L1483.6 1478.2 L1485.8 1473.5 L1488.4 1469.2 L1491.4 1465.3 L1494.8 1461.8 L1498.5 1458.8 L1502.5 1456.2 L1506.8 1454.2 L1511.3 1452.6 L1516.0 1451.6 L1520.9 1451.2 L1526.0 1451.2 L1531.1 1451.8 L1536.3 1453.0 L1541.5 1454.6 L1546.7 1456.8 L1551.9 1459.5 L1556.9 1462.6 L1561.8 1466.2 L1566.5 1470.3 L1571.0 1474.7 L1575.3 1479.4 L1579.3 1484.5 L1583.0 1489.9 L1586.3 1495.5 L1589.3 1501.3 L1591.9 1507.3 L1594.1 1513.4 L1595.9 1519.6 L1597.3 1525.7 L1598.2 1531.9 L1598.6 1537.9 L1598.6 1543.9 L1598.2 1549.6 L1597.3 1555.2 L1595.9 1560.5 L1594.1 1565.5 L1591.9 1570.2 L1589.3 1574.5 L1586.3 1578.4 L1582.9 1581.9 L1579.2 1584.9 L1575.2 1587.5Z"/>
<path class="f" d="M1500.7 1466.8 L1491 1458.9 L1473.2 1455.3 L1460.8 1458.9 L1450.2 1467.7 L1443.1 1481.9 L1441.3 1499.7 L1444 1517.4 L1448.4 1535.2 L1455.5 1552.9 L1466.1 1568.9 L1480.3 1583.1 L1491 1591.9 L1499.8 1596.4 L1499.8 1595.5 L1485.6 1579.5 L1473.2 1561.8 L1464.4 1544 L1458.1 1526.3 L1455.5 1508.5 L1456.4 1492.6 L1460.8 1480.2 L1469.7 1471.3 L1480.3 1466.8 L1498.1 1466.8Z"/>
<path class="l" d="M1459.9 1481.9 C1459.5 1484.9 1457.8 1493.8 1457.6 1499.7 C1457.4 1505.6 1457.7 1511.5 1458.7 1517.4 C1459.7 1523.3 1462.7 1532.2 1463.5 1535.2"/>
</g>
<g class="hv"><g id="spS1">
<path class="l" d="M759.3 1690.8 C759.3 1688.4 758.8 1680.4 759.3 1676.6 C759.7 1672.8 760 1670.5 761.9 1667.7 C763.9 1664.9 766.7 1661.9 770.8 1659.8 C774.9 1657.6 781.2 1655.8 786.8 1655 C792.4 1654.2 798 1654.4 804.5 1655 C811 1655.6 819.3 1657.3 825.8 1658.5 C832.3 1659.8 839.1 1660.9 843.5 1662.4 C848 1664 849.8 1665.4 852.4 1667.7 C855.1 1670.1 856.3 1673.6 859.5 1676.6 C862.8 1679.6 868.7 1683.6 871.9 1685.5 C875.2 1687.4 877.8 1687.7 879 1688.1"/>
<path class="l" d="M759.3 1690.8 C759.7 1692.3 759.7 1696.4 761.9 1699.7 C764.2 1702.9 766.1 1704.7 772.6 1710.3 C779.1 1715.9 796.2 1729.5 801 1733.4"/>
<path class="l" d="M772.6 1703.2 L822.3 1716.5"/>
<path class="l" d="M761 1696.1 L808.1 1724.5"/>
<path class="b" d="M801 1733.4 L912.7 1670.4"/>
<path class="b" d="M815.2 1736.9 L907.4 1687.3"/>
<path class="l" d="M820.5 1742.2 L880.8 1708.5"/>
<path class="l" d="M852.4 1681.9 C853.6 1681.6 856.8 1679.7 859.5 1680.2 C862.2 1680.6 866.9 1683.8 868.4 1684.6"/>
<path class="b" d="M779.7 1673.1 C780.3 1671.9 780.9 1667.7 783.2 1666 C785.6 1664.2 789.4 1663 793.9 1662.4 C798.3 1661.8 804.5 1662.1 809.8 1662.4 C815.2 1662.7 821.1 1663 825.8 1664.2 C830.5 1665.4 835 1667.4 838.2 1669.5 C841.5 1671.6 844 1674.2 845.3 1676.6 C846.6 1679 846.1 1682.5 846.2 1683.7 C845.2 1684.9 842.8 1688.7 840 1690.8 C837.2 1692.9 833.5 1694.9 829.3 1696.1 C825.2 1697.3 819.9 1698.5 815.2 1697.9 C810.4 1697.3 804.8 1694.6 801 1692.6 C797.1 1690.5 793.9 1687.5 792.1 1685.5 C790.3 1683.4 790.6 1681 790.3 1680.2 C789.1 1679.9 785 1679.6 783.2 1678.4 C781.4 1677.2 780.3 1673.9 779.7 1673.1"/>
<path class="l" d="M804.5 1666 C804.5 1668.6 803.9 1678.4 804.5 1681.9 C805.1 1685.5 806.7 1685.6 808.1 1687.3 C809.4 1688.9 811.8 1690.9 812.5 1691.7"/>
<path class="l" d="M808.1 1686.4 C809.2 1685.6 811.6 1682.7 815.2 1681.9 C818.7 1681.2 825.5 1681.2 829.3 1681.9 C833.2 1682.7 836.7 1685.6 838.2 1686.4"/>
<path class="l" d="M753.1 1681.9 C752.9 1683.7 751.6 1688.7 752.2 1692.6 C752.8 1696.4 755.3 1702 756.6 1705 C757.9 1707.9 759.6 1705 760.2 1710.3 C760.8 1715.6 760.2 1732.5 760.2 1736.9"/>
<path class="b" d="M765.5 1715.6 C765.6 1722.1 765.5 1746.7 766.4 1754.7 C767.3 1762.6 768.3 1761.2 770.8 1763.5 C773.3 1765.9 777.3 1767.7 781.4 1768.9 C785.6 1770 791.2 1770.6 795.6 1770.6 C800.1 1770.6 804.8 1770 808.1 1768.9 C811.3 1767.7 814 1764.4 815.2 1763.5"/>
<path class="l" d="M763.7 1740.5 C762.2 1742 756.8 1746.1 754.8 1749.3 C752.9 1752.6 752.2 1756.7 752.2 1760 C752.2 1763.2 753.2 1765.6 754.8 1768.9 C756.5 1772.1 758.7 1775.7 761.9 1779.5 C765.2 1783.3 769.3 1787.5 774.4 1791.9 C779.4 1796.4 785.3 1802 792.1 1806.1 C798.9 1810.3 806.3 1811.1 815.2 1816.8 C824 1822.4 840.3 1836.1 845.3 1840"/>
<path class="l" d="M761.9 1781.3 C764.9 1783.9 773.2 1792.2 779.7 1797.2 C786.2 1802.3 791.5 1804.3 801 1811.4 C810.4 1818.6 830.5 1835.2 836.4 1840"/>
<path class="l" d="M795.6 1740.5 C798.9 1742.5 800.7 1742 815.2 1752.9 C829.6 1763.8 871.3 1797.2 882.6 1806.1"/>
<path class="l" d="M801 1735.2 L815.2 1736.9 L816.9 1752.9"/>
<path class="l" d="M815.2 1758.2 L879 1807.9"/>
<path class="l" d="M801 1806.1 L813.4 1840"/>
<path class="l" d="M815.2 1816.8 L818.7 1840"/>
<path class="l" d="M915.4 1669.5 C915.5 1656.8 915.2 1608.3 916.3 1593.2 C917.3 1578.1 918.9 1583.5 921.6 1579 C924.3 1574.6 928.1 1569.9 932.2 1566.6 C936.4 1563.4 942.3 1561.1 946.4 1559.5 C950.6 1557.9 953.8 1557.9 957.1 1556.9 C960.3 1555.8 962.4 1554 966 1553.3 C969.5 1552.6 974.8 1552.1 978.4 1552.4 C981.9 1552.7 978.6 1550.9 987.2 1555.1 C995.8 1559.2 1022.9 1573.6 1030 1577.3"/>
<path class="l" d="M920.7 1669.5 C921.8 1656.8 924.7 1608.3 926.9 1593.2 C929.1 1578.1 931.4 1583.2 934 1579 C936.7 1574.9 939.3 1571.5 942.9 1568.4 C946.4 1565.3 953.2 1561.7 955.3 1560.4"/>
<path class="l" d="M957.1 1557.7 L1030 1592.3"/>
<path class="l" d="M935.8 1586.1 C937 1584.6 939.3 1579.6 942.9 1577.3 C946.4 1574.9 952.9 1573 957.1 1571.9 C961.2 1570.9 958.3 1567.5 967.7 1571 C977.2 1574.6 1006.2 1589.5 1013.9 1593.2 L1013.9 1600.3"/>
<path class="l" d="M955.3 1560.4 C954.4 1562 953.2 1565.9 950 1570.2 C946.7 1574.4 939 1581.4 935.8 1586.1 C932.5 1590.9 933 1584.6 930.5 1598.5 C928 1612.4 922.3 1657.7 920.7 1669.5"/>
<path class="b" d="M941.1 1611 C941.4 1608.9 941.1 1602.7 942.9 1598.5 C944.7 1594.4 948.8 1589.4 951.8 1586.1 C954.7 1582.9 957.7 1580.5 960.6 1579 C963.6 1577.6 962.1 1574.9 969.5 1577.3 C976.9 1579.6 999.1 1590.6 1005 1593.2 C1004.7 1594.7 1006.2 1598.2 1003.2 1602.1 C1000.3 1605.9 990.8 1611.9 987.2 1616.3 C983.7 1620.7 983.4 1623.7 981.9 1628.7 C980.4 1633.7 979 1643.5 978.4 1646.4"/>
<path class="l" d="M941.1 1611 C941.4 1612.7 941.1 1618.1 942.9 1621.6 C944.7 1625.2 945.8 1628.1 951.8 1632.3 C957.7 1636.4 973.9 1644.1 978.4 1646.4"/>
<path class="l" d="M1013.9 1593.2 L1030 1587.9"/>
<path class="l" d="M1006.8 1603.9 L1030 1600.3"/>
<path class="l" d="M1030 1602.1 C1027.9 1603 1021.9 1604.2 1017.4 1607.4 C1012.9 1610.7 1007.1 1616.3 1003.2 1621.6 C999.4 1626.9 996.4 1632.3 994.3 1639.3 C992.3 1646.4 991.2 1654.7 990.8 1664.2 C990.3 1673.6 991.5 1690.8 991.7 1696.1"/>
<path class="l" d="M1030 1625.2 C1028.5 1626.3 1024.2 1628.7 1021 1632.3 C1017.7 1635.8 1012.8 1641.1 1010.3 1646.4 C1007.8 1651.8 1006.5 1653.2 1005.9 1664.2 C1005.3 1675.1 1006.6 1704.1 1006.8 1712.1"/>
<path class="l" d="M1030 1639.3 C1028.8 1640.5 1024.8 1642.9 1022.7 1646.4 C1020.6 1650 1018.6 1656.2 1017.4 1660.6 C1016.2 1665.1 1015.3 1669.5 1015.6 1673.1 C1015.9 1676.6 1016.8 1679.6 1019.2 1681.9 C1021.6 1684.3 1028.2 1686.4 1030 1687.3"/>
<path class="l" d="M993.5 1699.7 C994.2 1701.7 995.7 1708.5 997.9 1712.1 C1000.1 1715.6 1005.3 1719.5 1006.8 1721 C1008.5 1720.4 1013.5 1719.2 1017.4 1717.4 C1021.3 1715.6 1027.9 1711.5 1030 1710.3"/>
<path class="l" d="M1019.2 1681.9 L1030 1669.5"/>
<path class="l" d="M912.7 1670.4 C911.8 1673.2 908 1682.4 907.4 1687.3 C906.8 1692.1 910.4 1681.3 909.2 1699.7 C908 1718 901.8 1781 900.3 1797.2"/>
<path class="l" d="M920.7 1669.5 L919.8 1699.7 L914.5 1703.2 L907.4 1797.2"/>
<path class="l" d="M978.4 1646.4 C976.6 1655.3 969.4 1686.1 967.7 1699.7 C966.1 1713.3 970.4 1708.5 968.6 1728.1 C966.8 1747.6 959 1802 957.1 1816.8"/>
<path class="l" d="M985.5 1639.3 C983.7 1649.4 976 1684.3 974.8 1699.7 C973.6 1715 977.8 1726.3 978.4 1731.6 L966 1735.2 L960.6 1840"/>
<path class="l" d="M969.5 1701.4 L978.4 1708.5 L984.6 1700.6"/>
<path class="l" d="M893.2 1711.2 L905.6 1717.4"/>
<path class="l" d="M981.9 1710.3 L1030 1806.1"/>
<path class="l" d="M985.5 1733.4 L1030 1827.4"/>
<path class="l" d="M964.2 1736.9 C958.6 1740.5 937 1752.6 930.5 1758.2 C924 1763.8 928.4 1765 925.2 1770.6 C921.9 1776.3 913.3 1788.4 911 1791.9"/>
<path class="l" d="M902.1 1765.3 L887.9 1777.7 L888.8 1797.2 L900.3 1788.4"/>
<path class="l" d="M887.9 1797.2 L909.2 1795.5"/>
<path class="l" d="M900.3 1797.2 C901.8 1797.8 905 1799.9 909.2 1800.8 C913.3 1801.7 922.5 1802.3 925.2 1802.6"/>
<path class="l" d="M1010.3 1779.5 C1007.4 1781 997.9 1783.9 992.6 1788.4 C987.2 1792.8 981.3 1800.8 978.4 1806.1 C975.4 1811.4 975.1 1816.2 974.8 1820.3 C974.5 1824.4 976.3 1829.2 976.6 1831"/>
<path class="l" d="M953.5 1816.8 L958.9 1823.9"/>
<path class="l" d="M969.5 1822.1 C971.6 1822.4 978.7 1822.1 981.9 1823.9 C985.2 1825.6 987.2 1830 989 1832.7 C990.8 1835.4 992 1838.8 992.6 1840"/>
<path class="b" d="M880.8 1840 C881.1 1837.3 881.1 1828.6 882.6 1823.9 C884.1 1819.1 886.7 1814.7 889.7 1811.4 C892.6 1808.2 896.2 1805.8 900.3 1804.3 C904.5 1802.9 909.8 1802 914.5 1802.6 C919.2 1803.2 924 1805.2 928.7 1807.9 C933.4 1810.5 938.8 1814.7 942.9 1818.5 C947 1822.4 950.9 1827.4 953.5 1831 C956.2 1834.5 958 1838.5 958.9 1840"/>
<path class="b" d="M887.9 1840 C888.5 1837.6 889.7 1829.5 891.4 1825.6 C893.2 1821.8 895.6 1819.1 898.5 1816.8 C901.5 1814.4 905.3 1812 909.2 1811.4 C913 1810.8 917.5 1811.7 921.6 1813.2 C925.7 1814.7 930.2 1817.4 934 1820.3 C937.9 1823.3 942 1827.7 944.7 1831 C947.3 1834.2 949.1 1838.5 950 1840"/>
<path class="l" d="M900.3 1840 C900.9 1837.9 902.4 1830.7 903.9 1827.4 C905.3 1824.1 908.3 1821.5 909.2 1820.3"/>
<path class="l" d="M911 1840 C911.5 1837.9 912.7 1830.7 914.5 1827.4 C916.3 1824.1 920.4 1821.5 921.6 1820.3"/>
<path class="l" d="M879 1809.7 L880.8 1840"/>
<path class="l" d="M884.3 1806.1 L889.7 1804.3"/>
</g>
<g id="spS2">
<path class="l" d="M1030 1580.8 C1031.8 1581.8 1037.7 1584.6 1040.6 1587 C1043.6 1589.4 1046 1591.9 1047.7 1595 C1049.5 1598.1 1050.5 1602.1 1051.3 1605.6 C1052 1609.2 1052 1614.5 1052.2 1616.3 L1056.6 1611 C1057.4 1611.9 1060.7 1611.6 1061.6 1616.3 C1062.5 1621 1061.6 1634.3 1061.9 1639.3 C1062.3 1644.4 1063.7 1642.3 1063.7 1646.4 C1063.7 1650.6 1063.4 1659.5 1061.9 1664.2 C1060.5 1668.9 1056 1673.1 1054.8 1674.8"/>
<path class="l" d="M1030 1600.3 C1031.5 1600.9 1036.2 1602.1 1038.9 1603.9 C1041.5 1605.6 1043.9 1608.6 1046 1611 C1048 1613.3 1050.4 1616.9 1051.3 1618.1"/>
<path class="l" d="M1030 1618.1 L1040.6 1612.7 C1041.8 1613.3 1045.7 1614.2 1047.7 1616.3 C1049.8 1618.4 1052.2 1623.7 1053.1 1625.2 L1051.3 1630.5"/>
<path class="l" d="M1054 1614.5 C1054.7 1615.7 1057.6 1619.5 1058.4 1621.6 C1059.1 1623.7 1058.4 1626 1058.4 1626.9"/>
<path class="b" d="M1030 1632.3 L1037.1 1628.7 L1042.4 1632.3 C1042.1 1634.6 1041.8 1641.7 1040.6 1646.4 C1039.5 1651.2 1037.1 1657.7 1035.3 1660.6 C1033.5 1663.6 1030.9 1663.6 1030 1664.2"/>
<path class="l" d="M1042.4 1635.8 C1043.6 1635.9 1047.3 1635.2 1049.5 1636.7 C1051.7 1638.2 1054.5 1641.6 1055.7 1644.7 C1056.9 1647.8 1057.1 1651.5 1056.6 1655.3 C1056.2 1659.2 1054.8 1663.9 1053.1 1667.7 C1051.3 1671.6 1048.6 1675.4 1046 1678.4 C1043.3 1681.3 1039.8 1683.8 1037.1 1685.5 C1034.4 1687.1 1031.2 1687.7 1030 1688.1"/>
<path class="l" d="M1035.3 1660.6 L1053.1 1671.3"/>
<path class="l" d="M1053.1 1674.8 L1053.1 1694.3 L1030 1710.3"/>
<path class="b" d="M1054.8 1685.5 L1143.5 1840"/>
<path class="l" d="M1030 1795.5 L1053.1 1840"/>
<path class="l" d="M1030 1806.1 L1047.7 1840"/>
</g>
<g id="spS3">
<path class="l" d="M816.9 1840 L907.4 1996.1"/>
<path class="l" d="M822.3 1840 L911 1994.3"/>
<path class="l" d="M832.9 1840 L880.8 1866.6"/>
<path class="l" d="M840 1840 L882.6 1861.3"/>
<path class="l" d="M900.3 1900.3 C900.9 1908 902.4 1929.9 903.9 1946.4 C905.3 1963 907.4 1986.4 909.2 1999.7 C911 2013 913.3 2018 914.5 2026.3 C915.7 2034.6 914.8 2043.1 916.3 2049.3 C917.8 2055.6 920.4 2059.4 923.4 2063.5 C926.3 2067.7 930.5 2071.8 934 2074.2 C937.6 2076.5 940.8 2077.1 944.7 2077.7 C948.5 2078.3 950.9 2075.4 957.1 2077.7 C963.3 2080.1 977.8 2089.6 981.9 2091.9"/>
<path class="l" d="M907.4 1914.5 C908 1922.8 909.8 1951.2 911 1964.2 C912.1 1977.2 913.9 1987.8 914.5 1992.6 L920.7 1992.6 C920.7 1995.5 921.5 2006.2 920.7 2010.3 C920 2014.5 917 2016.2 916.3 2017.4"/>
<path class="l" d="M914.5 2017.4 L925.2 2067.1"/>
<path class="l" d="M918.1 2013.9 L934 2070.6"/>
<path class="l" d="M880.8 1840 C881.7 1844.4 883.8 1858.3 886.1 1866.6 C888.5 1874.9 891.4 1882.9 895 1889.7 C898.5 1896.5 902.4 1902.1 907.4 1907.4 C912.4 1912.7 919.2 1917.8 925.2 1921.6 C931.1 1925.5 937 1928.7 942.9 1930.5 C948.8 1932.3 955.6 1933.4 960.6 1932.3 C965.7 1931.1 970.1 1926.9 973.1 1923.4 C976 1919.8 977 1916 978.4 1911 C979.7 1905.9 981 1900.6 981 1893.2 C981 1885.8 979.7 1874 978.4 1866.6 C977 1859.2 974.5 1853.3 973.1 1848.9 C971.6 1844.4 970.1 1841.5 969.5 1840"/>
<path class="b" d="M887.9 1840 C888.8 1844.1 890.6 1857.1 893.2 1864.8 C895.9 1872.5 899.7 1879.6 903.9 1886.1 C908 1892.6 913 1899.1 918.1 1903.9 C923.1 1908.6 928.4 1911.9 934 1914.5 C939.6 1917.2 946.7 1919.5 951.8 1919.8 C956.8 1920.1 960.9 1918.7 964.2 1916.3 C967.4 1913.9 969.7 1910.1 971.3 1905.6 C972.9 1901.2 973.9 1896.2 973.9 1889.7 C973.9 1883.2 972.6 1873.4 971.3 1866.6 C969.9 1859.8 967.7 1853.3 966 1848.9 C964.2 1844.4 961.5 1841.5 960.6 1840"/>
<path class="l" d="M900.3 1840 C901.5 1843.5 904.5 1854.8 907.4 1861.3 C910.4 1867.8 913.9 1873.4 918.1 1879 C922.2 1884.6 926.9 1890.6 932.2 1895 C937.6 1899.4 944.1 1903.6 950 1905.6 C955.9 1907.7 964.8 1907.1 967.7 1907.4"/>
<path class="l" d="M914.5 1840 C915.7 1843 918.4 1851.8 921.6 1857.7 C924.9 1863.7 929.6 1870.2 934 1875.5 C938.5 1880.8 942.9 1885.8 948.2 1889.7 C953.5 1893.5 963 1897.1 966 1898.5"/>
<path class="l" d="M930.5 1840 C931.7 1843 934.3 1852.1 937.6 1857.7 C940.8 1863.4 945.3 1869.3 950 1873.7 C954.7 1878.1 963.3 1882.6 966 1884.4"/>
<path class="l" d="M950 1840 C951.2 1841.8 953.8 1846.8 957.1 1850.6 C960.3 1854.5 967.4 1861 969.5 1863.1"/>
<path class="l" d="M955.3 1935.8 C956.2 1949.4 958.6 1997.9 960.6 2017.4 C962.7 2036.9 964.8 2040.5 967.7 2052.9 C970.7 2065.3 975.4 2083.6 978.4 2091.9 C981.3 2100.2 984.3 2100.8 985.5 2102.6"/>
<path class="l" d="M964.2 1935.8 L969.5 2017.4"/>
<path class="b" d="M960.6 2017.4 C958.6 2018.6 951.2 2021 948.2 2024.5 C945.3 2028.1 943.9 2034 942.9 2038.7 C941.9 2043.4 941.4 2048.5 942 2052.9 C942.6 2057.3 943.9 2062.1 946.4 2065.3 C949 2068.6 951.8 2069.2 957.1 2072.4 C962.4 2075.7 974.8 2082.8 978.4 2084.8"/>
<path class="l" d="M962.4 2021 L976.6 2022.7 L978.4 2045.8 L969.5 2047.6"/>
<path class="l" d="M976.6 2029.8 L1030 1999.7"/>
<path class="l" d="M981.9 2026.3 L1030 1996.1"/>
<path class="b" d="M978.4 2045.8 L1030 2017.4"/>
<path class="l" d="M969.5 2047.6 C971.9 2056.1 979.3 2088.7 983.7 2099 C988.1 2109.4 991.7 2107.6 996.1 2109.7 C1000.5 2111.7 1004.7 2112.3 1010.3 2111.4 C1016 2110.5 1026.7 2105.5 1030 2104.3"/>
<path class="l" d="M990.8 2045.8 C991.1 2051.4 991.4 2070.6 992.6 2079.5 C993.7 2088.4 996.1 2094 997.9 2099 C999.7 2104 1002.3 2107.9 1003.2 2109.7"/>
<path class="l" d="M1006.8 2036.9 C1006.8 2044.9 1006.2 2073.9 1006.8 2084.8 C1007.4 2095.8 1008.5 2098.1 1010.3 2102.6 C1012.1 2107 1016.2 2110 1017.4 2111.4"/>
<path class="b" d="M1030 2047.6 C1028.5 2048.8 1023.2 2051.1 1021 2054.7 C1018.7 2058.2 1016.8 2063.2 1016.5 2068.9 C1016.2 2074.5 1016.9 2083.6 1019.2 2088.4 C1021.4 2093.1 1028.2 2095.8 1030 2097.2"/>
<path class="l" d="M978.4 1856 L1030 1882.6"/>
<path class="l" d="M981.9 1866.6 L1030 1889.7"/>
<path class="l" d="M978.4 1914.5 L1030 1946.4"/>
<path class="l" d="M978.4 1923.4 L1030 1953.5"/>
<path class="l" d="M981.9 1918.1 L1030 1916.3"/>
<path class="l" d="M967.7 1937.6 L978.4 1934 L985.5 1948.2 L1003.2 1941.1"/>
<path class="l" d="M973.1 1850.6 C976 1851.2 984 1853.9 990.8 1854.2 C997.6 1854.5 1007.3 1853.6 1013.9 1852.4 C1020.4 1851.2 1027.3 1848 1030 1847.1"/>
<path class="l" d="M974.8 1847.1 L992.6 1840"/>
<path class="l" d="M951.8 1840 C954.1 1843 961.8 1853 966 1857.7 C970.1 1862.5 974.5 1858.9 976.6 1868.4 C978.7 1877.8 978.1 1906.8 978.4 1914.5"/>
</g>
<g id="spS4">
<path class="l" d="M1104.5 1896.8 C1103.3 1894.7 1098.9 1888.2 1097.4 1884.4 C1095.9 1880.5 1095.9 1875.5 1095.6 1873.7 L1140 1846.2 C1140.6 1846.9 1141.2 1849 1143.5 1850.6 C1145.9 1852.3 1149.5 1854.9 1154.2 1856 C1158.9 1857 1166.6 1856 1171.9 1856.9 C1177.3 1857.7 1181.7 1859.1 1186.1 1861.3 C1190.6 1863.5 1194.7 1866.9 1198.5 1870.2 C1202.4 1873.4 1206.8 1877.6 1209.2 1880.8 C1211.5 1884.1 1210.4 1886.4 1212.7 1889.7 C1215.1 1892.9 1220.9 1896.8 1223.4 1900.3 C1225.9 1903.9 1227.1 1898 1227.8 1911 C1228.6 1924 1228.6 1965.1 1227.8 1978.4 C1227.1 1991.7 1225.6 1987.5 1223.4 1990.8 C1221.2 1994.1 1217.2 1996.3 1214.5 1997.9 C1211.8 1999.5 1208.6 2000.1 1207.4 2000.6"/>
<path class="l" d="M1102.7 1878.1 C1112.2 1883.3 1148 1903.7 1159.5 1909.2 C1171 1914.7 1166.9 1911.3 1171.9 1911 C1177 1910.7 1184.6 1909.2 1189.7 1907.4 C1194.7 1905.6 1199.1 1902.7 1202.1 1900.3 C1205 1898 1206.5 1894.4 1207.4 1893.2"/>
<path class="l" d="M1108.1 1900.3 C1115.7 1903.9 1144.1 1917.6 1154.2 1921.6 C1164.2 1925.6 1163.1 1924 1168.4 1924.3 C1173.7 1924.6 1180.8 1924.4 1186.1 1923.4 C1191.4 1922.3 1196.2 1920.7 1200.3 1918.1 C1204.5 1915.4 1208.9 1911.6 1211 1907.4 C1213 1903.3 1212.4 1895.6 1212.7 1893.2"/>
<path class="b" d="M1132.9 1877.3 C1133.5 1875.8 1134.1 1870.9 1136.4 1868.4 C1138.8 1865.9 1142.7 1863.5 1147.1 1862.2 C1151.5 1860.8 1157.7 1860.1 1163.1 1860.4 C1168.4 1860.7 1174.9 1862.3 1179 1864 C1183.2 1865.6 1185.8 1867.6 1187.9 1870.2 C1190 1872.7 1191.1 1876.1 1191.4 1879 C1191.7 1882 1189.7 1885.5 1189.7 1887.9 C1189.7 1890.3 1191.1 1892.3 1191.4 1893.2 C1190.6 1894.1 1189.4 1897.2 1186.1 1898.5 C1182.9 1899.9 1176.1 1901.5 1171.9 1901.2 C1167.8 1900.9 1164.2 1898.1 1161.3 1896.8 C1158.3 1895.4 1157.1 1894.4 1154.2 1893.2 C1151.2 1892 1146.5 1891.2 1143.5 1889.7 C1140.6 1888.2 1138.2 1886.4 1136.4 1884.4 C1134.7 1882.3 1133.5 1878.4 1132.9 1877.3"/>
<path class="l" d="M1140 1887.9 C1141.8 1887 1145.9 1883.8 1150.6 1882.6 C1155.4 1881.4 1163.1 1880.5 1168.4 1880.8 C1173.7 1881.1 1179.3 1882.6 1182.6 1884.4 C1185.8 1886.1 1187 1890.3 1187.9 1891.4"/>
<path class="l" d="M1195 1879.9 C1196.2 1880.4 1200 1881.2 1202.1 1882.6 C1204.2 1883.9 1206.5 1887 1207.4 1887.9"/>
<path class="l" d="M1200.3 1873.7 L1212.7 1878.1 L1214.5 1886.1 L1211 1889.7"/>
<path class="l" d="M1093.9 1911 C1103.9 1913.9 1141.2 1925.5 1154.2 1928.7 C1167.2 1932 1166 1930.5 1171.9 1930.5 C1177.8 1930.5 1184.3 1929.3 1189.7 1928.7 C1195 1928.1 1200.3 1926.6 1203.9 1926.9 C1207.4 1927.2 1209.3 1928.4 1211 1930.5 C1212.6 1932.5 1213.3 1928.4 1213.6 1939.3 C1213.9 1950.3 1212.9 1986.7 1212.7 1996.1"/>
<path class="l" d="M1095.6 1916.3 C1103.9 1919.2 1133.8 1930.3 1145.3 1934 C1156.8 1937.7 1158.6 1937.9 1164.8 1938.5 C1171 1939.1 1176.7 1938.2 1182.6 1937.6 C1188.5 1937 1196.3 1934.6 1200.3 1934.9 C1204.3 1935.2 1205.5 1938.6 1206.5 1939.3 C1206.5 1946.4 1207 1973.4 1206.5 1981.9 C1206.1 1990.5 1205.8 1988.4 1203.9 1990.8 C1201.9 1993.2 1199.1 1994.6 1195 1996.1 C1190.9 1997.6 1184.6 1999.4 1179 1999.7 C1173.4 2000 1170.2 2000 1161.3 1997.9 C1152.4 1995.8 1137 1990.8 1125.8 1987.3 C1114.6 1983.7 1099.2 1978.4 1093.9 1976.6"/>
<path class="b" d="M1145.3 1935.8 C1145.5 1942.3 1145 1967.1 1146.2 1974.8 C1147.4 1982.5 1149.3 1979.9 1152.4 1981.9 C1155.5 1984 1160.1 1986.4 1164.8 1987.3 C1169.6 1988.1 1176.1 1987.8 1180.8 1987.3 C1185.5 1986.7 1189.7 1985.8 1193.2 1983.7 C1196.8 1981.6 1200.6 1982.2 1202.1 1974.8 C1203.6 1967.4 1202.1 1945.3 1202.1 1939.3"/>
<path class="b" d="M1152.4 1937.6 C1154.5 1938.5 1159.8 1942.2 1164.8 1942.9 C1169.9 1943.6 1177 1942.9 1182.6 1942 C1188.2 1941.1 1195.9 1938.3 1198.5 1937.6"/>
<path class="l" d="M1092.1 1981.9 C1097.1 1983.7 1114.3 1988.7 1122.3 1992.6 C1130.2 1996.4 1134.7 2001.4 1140 2005 C1145.3 2008.5 1149.5 2011.9 1154.2 2013.9 C1158.9 2015.8 1163.1 2016.4 1168.4 2016.5 C1173.7 2016.7 1180.8 2016.1 1186.1 2014.7 C1191.4 2013.4 1196.8 2010.9 1200.3 2008.5 C1203.9 2006.2 1206.2 2001.9 1207.4 2000.6"/>
<path class="l" d="M1125.8 1994.3 C1128.8 1995.5 1137.6 1999.4 1143.5 2001.4 C1149.5 2003.5 1155.4 2005.7 1161.3 2006.8 C1167.2 2007.8 1173.4 2008.2 1179 2007.7 C1184.6 2007.1 1190.6 2005.1 1195 2003.2 C1199.4 2001.3 1203.9 1997.3 1205.6 1996.1"/>
<path class="l" d="M1030 1882.6 L1063.7 1898.5 L1065.5 1905.6 C1066.7 1905.6 1068.1 1903.9 1072.6 1905.6 C1077 1907.4 1088.8 1914.5 1092.1 1916.3"/>
<path class="l" d="M1030 1891.4 L1061.9 1903.9"/>
<path class="l" d="M1047.7 1840 L1072.6 1886.1 L1065.5 1896.8"/>
<path class="l" d="M1056.6 1840 L1090.3 1902.1 L1101 1902.1"/>
<path class="l" d="M1030 1848.9 L1047.7 1841.8"/>
<path class="l" d="M1030 1918.1 L1058.4 1905.6"/>
<path class="l" d="M1030 1946.4 C1035.9 1948.8 1058.1 1958.3 1065.5 1960.6 C1072.9 1963 1069.9 1958.9 1074.4 1960.6 C1078.8 1962.4 1089.1 1969.5 1092.1 1971.3"/>
<path class="l" d="M1030 1953.5 C1035.6 1956.2 1053.4 1965.1 1063.7 1969.5 C1074.1 1973.9 1087.4 1978.4 1092.1 1980.2"/>
<path class="l" d="M1065.5 1960.6 L1065.5 1969.5"/>
<path class="l" d="M1046 1964.2 L1046 1977.5"/>
<path class="b" d="M1030 1999.7 L1074.4 1978.4"/>
<path class="b" d="M1030 2017.4 L1092.1 1981.9"/>
<path class="l" d="M1054.8 1985.5 L1072.6 1976.6"/>
<path class="l" d="M1030 1994.3 L1042.4 1989"/>
<path class="l" d="M1053.1 2001.4 C1053.1 2004.7 1052.2 2016.5 1053.1 2021 C1054 2025.4 1057.5 2026.9 1058.4 2028.1"/>
<path class="l" d="M1061 2001.4 C1061.2 2007.1 1061.6 2027.8 1061.9 2035.2 C1062.2 2042.5 1063.1 2042 1062.8 2045.8 C1062.5 2049.6 1061.8 2054.1 1060.2 2058.2 C1058.5 2062.4 1054.2 2068.6 1053.1 2070.6"/>
<path class="l" d="M1030 2033.4 C1031.5 2032.9 1035.9 2031 1038.9 2030.7 C1041.8 2030.4 1045.1 2030.6 1047.7 2031.6 C1050.4 2032.6 1053.4 2034.3 1054.8 2036.9 C1056.3 2039.6 1056.9 2043.4 1056.6 2047.6 C1056.3 2051.7 1054.5 2057.9 1053.1 2061.8 C1051.6 2065.6 1049.8 2067.7 1047.7 2070.6 C1045.7 2073.6 1043.6 2076.5 1040.6 2079.5 C1037.7 2082.5 1031.8 2086.9 1030 2088.4"/>
<path class="l" d="M1030 2040.5 L1037.1 2035.2 L1040.6 2038.7 C1040.3 2041.1 1039.8 2049.6 1038.9 2052.9 C1038 2056.1 1035.9 2057.3 1035.3 2058.2"/>
<path class="l" d="M1030 2068.9 L1044.2 2076"/>
<path class="l" d="M1053.1 2070.6 C1052.2 2073.6 1050.4 2083.1 1047.7 2088.4 C1045.1 2093.7 1040.1 2099.3 1037.1 2102.6 C1034.1 2105.8 1031.2 2107 1030 2107.9"/>
<path class="l" d="M1143.5 1840 C1144.1 1841.5 1145.3 1846.5 1147.1 1848.9 C1148.9 1851.2 1151.8 1852.9 1154.2 1854.2 C1156.6 1855.5 1160.1 1856.4 1161.3 1856.9"/>
</g></g>
<g id="R1">
<path class="f" d="M599.2 1406.6 C598.7 1408.1 596.8 1412.5 596.3 1415.5 C595.8 1418.4 594.6 1420.9 596.3 1424.3 C598 1427.8 602.9 1433.5 606.6 1436.2 C610.3 1438.9 613.5 1439.9 618.5 1440.6 C623.4 1441.4 631.3 1441.4 636.2 1440.6 C641.1 1439.9 644.8 1438.1 648 1436.2 C651.2 1434.2 653.7 1431.7 655.4 1428.8 C657.1 1425.8 657.9 1422.1 658.4 1418.4 C658.9 1414.7 658.4 1408.6 658.4 1406.6"/>
<ellipse class="f" cx="628.8" cy="1405.1" rx="29.1" ry="18" transform="rotate(0 628.8 1405.1)"/>
<ellipse class="l" cx="628.8" cy="1407.8" rx="18.5" ry="12.1" transform="rotate(0 628.8 1407.8)"/>
<path class="l" d="M616.2 1411.8 C617.3 1411.2 620.8 1409.1 622.9 1408.4 C625 1407.6 626.7 1407.4 628.8 1407.3 C630.9 1407.3 633.4 1407.5 635.5 1408.1 C637.5 1408.7 640.4 1410.3 641.4 1410.7"/>
<path class="l" d="M600 1417 C601.6 1417.9 605.8 1421.4 609.6 1422.9 C613.4 1424.3 620.7 1425.3 622.9 1425.8 L622.9 1431.7"/>
<path class="l" d="M599.2 1422.9 C600.7 1423.9 604.7 1427.4 608.1 1428.8 C611.6 1430.1 618 1430.6 619.9 1431"/>
<path class="l" d="M617 1436.9 C619.4 1436.5 627.1 1435.6 631.8 1434.7 C636.4 1433.8 641.4 1433.5 645.1 1431.7 C648.8 1430 652.5 1425.6 653.9 1424.3"/>
<path class="l" d="M645.1 1418.4 L653.9 1412.5"/>
</g>
<g id="R6">
<path class="f" d="M1525.6 1937.6 C1525.1 1939.1 1523.2 1943.5 1522.7 1946.5 C1522.2 1949.4 1521 1951.9 1522.7 1955.3 C1524.4 1958.8 1529.3 1964.5 1533 1967.2 C1536.7 1969.9 1539.9 1970.9 1544.9 1971.6 C1549.8 1972.4 1557.7 1972.4 1562.6 1971.6 C1567.5 1970.9 1571.2 1969.1 1574.4 1967.2 C1577.6 1965.2 1580.1 1962.7 1581.8 1959.8 C1583.5 1956.8 1584.3 1953.1 1584.8 1949.4 C1585.3 1945.7 1584.8 1939.6 1584.8 1937.6"/>
<ellipse class="f" cx="1555.2" cy="1936.1" rx="29.1" ry="18" transform="rotate(0 1555.2 1936.1)"/>
<ellipse class="l" cx="1555.2" cy="1938.8" rx="18.5" ry="12.1" transform="rotate(0 1555.2 1938.8)"/>
<path class="l" d="M1542.6 1942.8 C1543.7 1942.2 1547.2 1940.1 1549.3 1939.4 C1551.4 1938.6 1553.1 1938.4 1555.2 1938.3 C1557.3 1938.3 1559.8 1938.5 1561.9 1939.1 C1563.9 1939.7 1566.8 1941.3 1567.8 1941.7"/>
<path class="l" d="M1526.4 1948 C1528 1948.9 1532.2 1952.4 1536 1953.9 C1539.8 1955.3 1547.1 1956.3 1549.3 1956.8 L1549.3 1962.7"/>
<path class="l" d="M1525.6 1953.9 C1527.1 1954.9 1531.1 1958.4 1534.5 1959.8 C1538 1961.1 1544.4 1961.6 1546.3 1962"/>
<path class="l" d="M1543.4 1967.9 C1545.8 1967.5 1553.5 1966.6 1558.2 1965.7 C1562.8 1964.8 1567.8 1964.5 1571.5 1962.7 C1575.2 1961 1578.9 1956.6 1580.3 1955.3"/>
<path class="l" d="M1571.5 1949.4 L1580.3 1943.5"/>
</g>
<g id="R3">
<path class="f" d="M672.5 1895.5 C672 1897.7 669.8 1905.1 669.6 1908.8 C669.3 1912.5 669.3 1915 671 1917.7 C672.8 1920.4 676.2 1923 679.9 1925.1 C683.6 1927.2 688.8 1929.3 693.2 1930.3 C697.6 1931.3 702.1 1931.6 706.5 1931 C710.9 1930.4 716.1 1928.5 719.8 1926.6 C723.5 1924.6 726.7 1921.6 728.7 1919.2 C730.7 1916.7 731.3 1915.2 731.6 1911.8 C732 1908.3 731.4 1901.6 730.9 1898.5 C730.4 1895.4 729.1 1894.2 728.7 1893.3"/>
<ellipse class="f" cx="702.1" cy="1896.3" rx="26.6" ry="18.5" transform="rotate(0 702.1 1896.3)"/>
<ellipse class="b" cx="702.1" cy="1894.1" rx="9.2" ry="5.9" transform="rotate(0 702.1 1894.1)"/>
<ellipse class="l" cx="702.1" cy="1894.6" rx="5.3" ry="2.5" transform="rotate(0 702.1 1894.6)"/>
<path class="l" d="M670.3 1910.3 C671.6 1911.5 674.9 1916 678.4 1917.7 C682 1919.4 688.8 1920.4 691.7 1920.7 C694.7 1920.9 695.4 1919.4 696.2 1919.2 C696.2 1920.4 696.7 1924.9 696.2 1926.6 C695.7 1928.3 693.7 1929 693.2 1929.5"/>
<path class="l" d="M678.4 1902.9 L690.3 1907.4"/>
<path class="l" d="M716.1 1904.4 L724.3 1900"/>
<path class="l" d="M699.1 1919.9 C701.6 1919.6 709.5 1919.1 713.9 1917.7 C718.3 1916.4 723.8 1912.8 725.7 1911.8"/>
</g>
<g id="R7">
<path class="f" d="M1132.4 2133.2 C1131.9 2135.4 1129.7 2142.8 1129.5 2146.5 C1129.2 2150.2 1129.2 2152.7 1130.9 2155.4 C1132.7 2158.1 1136.1 2160.7 1139.8 2162.8 C1143.5 2164.9 1148.7 2167 1153.1 2168 C1157.5 2169 1162 2169.3 1166.4 2168.7 C1170.8 2168.1 1176 2166.2 1179.7 2164.3 C1183.4 2162.3 1186.6 2159.3 1188.6 2156.9 C1190.6 2154.4 1191.2 2152.9 1191.5 2149.5 C1191.9 2146 1191.3 2139.3 1190.8 2136.2 C1190.3 2133.1 1189 2131.9 1188.6 2131"/>
<ellipse class="f" cx="1162" cy="2134" rx="26.6" ry="18.5" transform="rotate(0 1162 2134)"/>
<ellipse class="b" cx="1162" cy="2131.8" rx="9.2" ry="5.9" transform="rotate(0 1162 2131.8)"/>
<ellipse class="l" cx="1162" cy="2132.3" rx="5.3" ry="2.5" transform="rotate(0 1162 2132.3)"/>
<path class="l" d="M1130.2 2148 C1131.5 2149.2 1134.8 2153.7 1138.3 2155.4 C1141.9 2157.1 1148.7 2158.1 1151.6 2158.4 C1154.6 2158.6 1155.3 2157.1 1156.1 2156.9 C1156.1 2158.1 1156.6 2162.6 1156.1 2164.3 C1155.6 2166 1153.6 2166.7 1153.1 2167.2"/>
<path class="l" d="M1138.3 2140.6 L1150.2 2145.1"/>
<path class="l" d="M1176 2142.1 L1184.2 2137.7"/>
<path class="l" d="M1159 2157.6 C1161.5 2157.3 1169.4 2156.8 1173.8 2155.4 C1178.2 2154.1 1183.7 2150.5 1185.6 2149.5"/>
</g>
<g id="R2">
<path class="f" d="M785.5 1482 L776.7 1476.1 C774.4 1476.8 767.3 1478 763.4 1480.5 C759.4 1483 755.8 1486.7 753 1490.9 C750.2 1495 747.7 1500.2 746.3 1505.6 C745 1511.1 743.5 1518.7 744.9 1523.4 C746.2 1528.1 750.9 1531.4 754.5 1533.7 C758.1 1536.1 762.1 1536.7 766.3 1537.4 C770.5 1538.2 777.4 1538 779.6 1538.2"/>
<ellipse class="f" cx="779.6" cy="1511.3" rx="30.2" ry="18.8" transform="rotate(120 779.6 1511.3)"/>
<path class="b" d="M785.5 1482 C783.3 1482.7 776.2 1484 772.2 1486.4 C768.3 1488.9 764.6 1492.3 761.9 1496.8 C759.2 1501.2 757.1 1507.9 756 1513 C754.9 1518.2 754.7 1524.1 755.2 1527.8 C755.7 1531.5 758.3 1534 758.9 1535.2"/>
<path class="l" d="M776.7 1477.6 C774.7 1478.5 767.8 1481 764.8 1483.5 C761.9 1485.9 759.9 1490.9 758.9 1492.3 L763.4 1495.3 C764.8 1494.1 768.5 1489.9 772.2 1487.9 C775.9 1485.9 783.3 1484.2 785.5 1483.5"/>
<ellipse class="b" cx="782.9" cy="1514.2" rx="9.2" ry="4.9" transform="rotate(120 782.9 1514.2)"/>
<path class="l" d="M776.7 1498.3 L785.5 1492.3"/>
<path class="l" d="M764.8 1521.9 L764.1 1529.3"/>
</g>
<g id="R4">
<path class="f" d="M750.9 2052.2 L742.1 2046.3 C739.8 2047 732.7 2048.2 728.8 2050.7 C724.8 2053.2 721.2 2056.9 718.4 2061.1 C715.6 2065.2 713.1 2070.4 711.7 2075.8 C710.4 2081.3 708.9 2088.9 710.3 2093.6 C711.6 2098.3 716.3 2101.6 719.9 2103.9 C723.5 2106.3 727.5 2106.9 731.7 2107.6 C735.9 2108.4 742.8 2108.2 745 2108.4"/>
<ellipse class="f" cx="745" cy="2081.5" rx="30.2" ry="18.8" transform="rotate(120 745 2081.5)"/>
<path class="b" d="M750.9 2052.2 C748.7 2052.9 741.6 2054.2 737.6 2056.6 C733.7 2059.1 730 2062.5 727.3 2067 C724.6 2071.4 722.5 2078.1 721.4 2083.2 C720.3 2088.4 720.1 2094.3 720.6 2098 C721.1 2101.7 723.7 2104.2 724.3 2105.4"/>
<path class="l" d="M742.1 2047.8 C740.1 2048.7 733.2 2051.2 730.2 2053.7 C727.3 2056.1 725.3 2061.1 724.3 2062.5 L728.8 2065.5 C730.2 2064.3 733.9 2060.1 737.6 2058.1 C741.3 2056.1 748.7 2054.4 750.9 2053.7"/>
<ellipse class="b" cx="748.3" cy="2084.4" rx="9.2" ry="4.9" transform="rotate(120 748.3 2084.4)"/>
<path class="l" d="M742.1 2068.5 L750.9 2062.5"/>
<path class="l" d="M730.2 2092.1 L729.5 2099.5"/>
</g>
<g id="R5">
<path class="f" d="M1476.8 1882.8 L1473.9 1876.9 C1472.4 1876.6 1468.8 1874.3 1465 1874.7 C1461.2 1875.1 1454.9 1876.8 1451 1879.1 C1447 1881.5 1444.1 1884.7 1441.4 1888.8 C1438.7 1892.8 1436.1 1898.9 1434.7 1903.5 C1433.4 1908.2 1432.9 1913.2 1433.2 1916.8 C1433.6 1920.5 1435.1 1923.3 1436.9 1925.7 C1438.8 1928.2 1441.1 1929.7 1444.3 1931.6 C1447.5 1933.6 1452.1 1936.4 1456.1 1937.5 C1460.2 1938.7 1466.6 1938.2 1468.7 1938.3"/>
<ellipse class="f" cx="1466.8" cy="1910.9" rx="30" ry="22.2" transform="rotate(120 1466.8 1910.9)"/>
<path class="b" d="M1473.9 1878.4 C1471.4 1879.4 1463.3 1881.4 1459.1 1884.3 C1454.9 1887.3 1451.5 1891.7 1448.8 1896.2 C1446 1900.6 1444 1906.5 1442.8 1910.9 C1441.7 1915.4 1441.9 1919.6 1442.1 1922.8 C1442.3 1926 1444 1928.9 1444.3 1930.2"/>
<path class="l" d="M1465 1876.9 C1463.3 1878.2 1457.1 1881.9 1454.7 1884.3 C1452.2 1886.8 1451 1890.5 1450.2 1891.7 L1456.1 1897.6 C1457.1 1896.2 1458.9 1891.5 1462.1 1888.8 C1465.3 1886 1473.1 1882.6 1475.4 1881.4"/>
<ellipse class="l" cx="1470.9" cy="1911.7" rx="20" ry="11.5" transform="rotate(120 1470.9 1911.7)"/>
<path class="l" d="M1476.8 1894.7 C1477.8 1895.9 1481.8 1899.1 1482.8 1902.1 C1483.7 1905 1482.8 1910.7 1482.8 1912.4"/>
<path class="l" d="M1473.1 1899.1 C1472.8 1900.3 1472.8 1903.1 1470.9 1906.5 C1469.1 1909.9 1463.5 1917.6 1462.1 1919.8"/>
<path class="l" d="M1451 1919.1 L1451.7 1931.6"/>
</g>
<g id="R8">
<path class="f" d="M1193.8 2263.3 L1190.9 2257.4 C1189.4 2257.1 1185.8 2254.8 1182 2255.2 C1178.2 2255.6 1171.9 2257.3 1168 2259.6 C1164 2262 1161.1 2265.2 1158.4 2269.3 C1155.7 2273.3 1153.1 2279.4 1151.7 2284 C1150.4 2288.7 1149.9 2293.7 1150.2 2297.3 C1150.6 2301 1152.1 2303.8 1153.9 2306.2 C1155.8 2308.7 1158.1 2310.2 1161.3 2312.1 C1164.5 2314.1 1169.1 2316.9 1173.1 2318 C1177.2 2319.2 1183.6 2318.7 1185.7 2318.8"/>
<ellipse class="f" cx="1183.8" cy="2291.4" rx="30" ry="22.2" transform="rotate(120 1183.8 2291.4)"/>
<path class="b" d="M1190.9 2258.9 C1188.4 2259.9 1180.3 2261.9 1176.1 2264.8 C1171.9 2267.8 1168.5 2272.2 1165.8 2276.7 C1163 2281.1 1161 2287 1159.8 2291.4 C1158.7 2295.9 1158.9 2300.1 1159.1 2303.3 C1159.3 2306.5 1161 2309.4 1161.3 2310.7"/>
<path class="l" d="M1182 2257.4 C1180.3 2258.7 1174.1 2262.4 1171.7 2264.8 C1169.2 2267.3 1168 2271 1167.2 2272.2 L1173.1 2278.1 C1174.1 2276.7 1175.9 2272 1179.1 2269.3 C1182.3 2266.5 1190.1 2263.1 1192.4 2261.9"/>
<ellipse class="l" cx="1187.9" cy="2292.2" rx="20" ry="11.5" transform="rotate(120 1187.9 2292.2)"/>
<path class="l" d="M1193.8 2275.2 C1194.8 2276.4 1198.8 2279.6 1199.8 2282.6 C1200.7 2285.5 1199.8 2291.2 1199.8 2292.9"/>
<path class="l" d="M1190.1 2279.6 C1189.8 2280.8 1189.8 2283.6 1187.9 2287 C1186.1 2290.4 1180.5 2298.1 1179.1 2300.3"/>
<path class="l" d="M1168 2299.6 L1168.7 2312.1"/>
</g>
<g id="pinU">
<ellipse class="f" style="stroke-width:3.6" cx="1742.7" cy="1287.6" rx="15.6" ry="6.8" transform="rotate(60 1742.7 1287.6)"/>
<path class="w" d="M1701.2 1292.5 L1734.9 1274.1 L1750.5 1301.1 L1716.8 1319.4Z"/>
<path class="b" d="M1701.2 1292.5 L1734.9 1274.1"/>
<path class="b" d="M1716.8 1319.4 L1750.5 1301.1"/>
<ellipse class="f" style="stroke-width:3.6" cx="1709" cy="1305.9" rx="15.6" ry="6.8" transform="rotate(60 1709 1305.9)"/>
<ellipse class="l" cx="1709.4" cy="1307" rx="9.7" ry="4.2" transform="rotate(60 1709.4 1307)"/>
</g>
<g id="pinL">
<ellipse class="f" style="stroke-width:3.6" cx="1866.1" cy="1438.4" rx="15.6" ry="6.8" transform="rotate(60 1866.1 1438.4)"/>
<path class="w" d="M1824.6 1443.3 L1858.4 1424.9 L1873.9 1451.9 L1840.2 1470.2Z"/>
<path class="b" d="M1824.6 1443.3 L1858.4 1424.9"/>
<path class="b" d="M1840.2 1470.2 L1873.9 1451.9"/>
<ellipse class="f" style="stroke-width:3.6" cx="1832.4" cy="1456.7" rx="15.6" ry="6.8" transform="rotate(60 1832.4 1456.7)"/>
<ellipse class="l" cx="1832.9" cy="1457.8" rx="9.7" ry="4.2" transform="rotate(60 1832.9 1457.8)"/>
</g>
<g id="bolt130">
<path class="f" d="M2378.4 1281.9 L2385.5 1281.3 L2393.8 1289.6 L2398.5 1299 L2397.9 1316.8 L2391.4 1320.3 L2390.2 1323.9 L2381.9 1329.2 L2370.1 1306.1Z"/>
<path class="l" d="M2381.9 1287.2 C2382.9 1289.4 2386.4 1296.5 2387.8 1300.2 C2389.3 1304 2390.2 1306.3 2390.8 1309.7 C2391.4 1313 2391.3 1318.5 2391.4 1320.3"/>
<path class="l" d="M2387.8 1300.2 L2398.2 1299"/>
<ellipse class="f" cx="2370.7" cy="1306.1" rx="26.4" ry="13.7" transform="rotate(60 2370.7 1306.1)"/>
<path class="w" d="M2289.7 1340.4 L2353.5 1304.4 L2366.6 1324.5 L2303.9 1360.5Z"/>
<path class="l" d="M2289.7 1340.4 L2353.5 1304.4"/>
<path class="l" d="M2303.9 1360.5 L2366.6 1324.5"/>
<ellipse class="f" cx="2295.9" cy="1350.6" rx="10.9" ry="7.7" transform="rotate(60 2295.9 1350.6)"/>
<path class="l" d="M2296.7 1336.7 C2296.8 1336.7 2297.4 1336.4 2297.8 1336.3 C2298.2 1336.3 2298.6 1336.3 2299.1 1336.3 C2299.5 1336.4 2300 1336.6 2300.5 1336.8 C2301 1337 2301.5 1337.2 2302 1337.6 C2302.5 1337.9 2303 1338.3 2303.5 1338.7 C2304 1339.2 2304.5 1339.7 2305 1340.2 C2305.4 1340.7 2305.9 1341.3 2306.3 1341.9 C2306.8 1342.5 2307.2 1343.1 2307.6 1343.8 C2307.9 1344.4 2308.3 1345.1 2308.6 1345.8 C2308.9 1346.5 2309.2 1347.2 2309.4 1347.9 C2309.6 1348.5 2309.8 1349.2 2309.9 1349.9 C2310.1 1350.5 2310.1 1351.2 2310.2 1351.8 C2310.2 1352.4 2310.2 1352.9 2310.1 1353.5 C2310 1354 2309.9 1354.5 2309.8 1354.9 C2309.6 1355.3 2309.4 1355.7 2309.1 1356 C2308.9 1356.3 2308.4 1356.7 2308.2 1356.8"/>
<path class="l" d="M2303.3 1333 C2303.5 1332.9 2304 1332.7 2304.4 1332.6 C2304.8 1332.5 2305.2 1332.6 2305.7 1332.6 C2306.1 1332.7 2306.6 1332.8 2307.1 1333 C2307.6 1333.2 2308.1 1333.5 2308.6 1333.8 C2309.1 1334.2 2309.6 1334.6 2310.1 1335 C2310.6 1335.4 2311.1 1335.9 2311.6 1336.5 C2312.1 1337 2312.5 1337.6 2313 1338.2 C2313.4 1338.8 2313.8 1339.4 2314.2 1340.1 C2314.6 1340.7 2314.9 1341.4 2315.2 1342.1 C2315.5 1342.8 2315.8 1343.5 2316 1344.1 C2316.2 1344.8 2316.4 1345.5 2316.5 1346.1 C2316.7 1346.8 2316.8 1347.4 2316.8 1348 C2316.8 1348.6 2316.8 1349.2 2316.7 1349.7 C2316.7 1350.3 2316.5 1350.7 2316.4 1351.2 C2316.2 1351.6 2316 1352 2315.8 1352.3 C2315.5 1352.6 2315 1352.9 2314.9 1353.1"/>
<path class="l" d="M2309.9 1329.3 C2310.1 1329.2 2310.6 1328.9 2311 1328.9 C2311.4 1328.8 2311.8 1328.8 2312.3 1328.9 C2312.8 1329 2313.2 1329.1 2313.7 1329.3 C2314.2 1329.5 2314.7 1329.8 2315.2 1330.1 C2315.7 1330.4 2316.2 1330.8 2316.7 1331.3 C2317.2 1331.7 2317.7 1332.2 2318.2 1332.7 C2318.7 1333.3 2319.2 1333.8 2319.6 1334.4 C2320 1335 2320.4 1335.7 2320.8 1336.3 C2321.2 1337 2321.5 1337.7 2321.8 1338.4 C2322.2 1339 2322.4 1339.7 2322.6 1340.4 C2322.9 1341.1 2323 1341.8 2323.2 1342.4 C2323.3 1343.1 2323.4 1343.7 2323.4 1344.3 C2323.4 1344.9 2323.4 1345.5 2323.4 1346 C2323.3 1346.5 2323.2 1347 2323 1347.4 C2322.8 1347.9 2322.6 1348.3 2322.4 1348.6 C2322.1 1348.9 2321.6 1349.2 2321.5 1349.3"/>
<path class="l" d="M2316.5 1325.5 C2316.7 1325.5 2317.2 1325.2 2317.6 1325.2 C2318 1325.1 2318.5 1325.1 2318.9 1325.2 C2319.4 1325.2 2319.9 1325.4 2320.3 1325.6 C2320.8 1325.8 2321.3 1326.1 2321.8 1326.4 C2322.3 1326.7 2322.9 1327.1 2323.4 1327.5 C2323.9 1328 2324.4 1328.5 2324.8 1329 C2325.3 1329.5 2325.8 1330.1 2326.2 1330.7 C2326.6 1331.3 2327.1 1332 2327.4 1332.6 C2327.8 1333.3 2328.2 1334 2328.5 1334.6 C2328.8 1335.3 2329 1336 2329.3 1336.7 C2329.5 1337.4 2329.7 1338 2329.8 1338.7 C2329.9 1339.3 2330 1340 2330 1340.6 C2330.1 1341.2 2330 1341.8 2330 1342.3 C2329.9 1342.8 2329.8 1343.3 2329.6 1343.7 C2329.5 1344.1 2329.3 1344.5 2329 1344.8 C2328.7 1345.2 2328.3 1345.5 2328.1 1345.6"/>
<path class="l" d="M2323.1 1321.8 C2323.3 1321.7 2323.9 1321.5 2324.3 1321.4 C2324.7 1321.4 2325.1 1321.4 2325.5 1321.4 C2326 1321.5 2326.5 1321.7 2327 1321.9 C2327.5 1322.1 2328 1322.3 2328.5 1322.7 C2329 1323 2329.5 1323.4 2330 1323.8 C2330.5 1324.3 2331 1324.7 2331.5 1325.3 C2331.9 1325.8 2332.4 1326.4 2332.8 1327 C2333.3 1327.6 2333.7 1328.2 2334.1 1328.9 C2334.4 1329.5 2334.8 1330.2 2335.1 1330.9 C2335.4 1331.6 2335.7 1332.3 2335.9 1333 C2336.1 1333.6 2336.3 1334.3 2336.4 1335 C2336.5 1335.6 2336.6 1336.3 2336.7 1336.9 C2336.7 1337.5 2336.7 1338 2336.6 1338.6 C2336.5 1339.1 2336.4 1339.6 2336.3 1340 C2336.1 1340.4 2335.9 1340.8 2335.6 1341.1 C2335.4 1341.4 2334.9 1341.8 2334.7 1341.9"/>
<path class="l" d="M2329.8 1318.1 C2330 1318 2330.5 1317.8 2330.9 1317.7 C2331.3 1317.6 2331.7 1317.6 2332.2 1317.7 C2332.6 1317.8 2333.1 1317.9 2333.6 1318.1 C2334.1 1318.3 2334.6 1318.6 2335.1 1318.9 C2335.6 1319.3 2336.1 1319.7 2336.6 1320.1 C2337.1 1320.5 2337.6 1321 2338.1 1321.6 C2338.6 1322.1 2339 1322.7 2339.5 1323.3 C2339.9 1323.9 2340.3 1324.5 2340.7 1325.2 C2341.1 1325.8 2341.4 1326.5 2341.7 1327.2 C2342 1327.9 2342.3 1328.6 2342.5 1329.2 C2342.7 1329.9 2342.9 1330.6 2343 1331.2 C2343.2 1331.9 2343.3 1332.5 2343.3 1333.1 C2343.3 1333.7 2343.3 1334.3 2343.2 1334.8 C2343.2 1335.4 2343 1335.8 2342.9 1336.3 C2342.7 1336.7 2342.5 1337.1 2342.2 1337.4 C2342 1337.7 2341.5 1338 2341.4 1338.2"/>
<path class="l" d="M2336.4 1314.4 C2336.6 1314.3 2337.1 1314 2337.5 1314 C2337.9 1313.9 2338.3 1313.9 2338.8 1314 C2339.2 1314.1 2339.7 1314.2 2340.2 1314.4 C2340.7 1314.6 2341.2 1314.9 2341.7 1315.2 C2342.2 1315.5 2342.7 1315.9 2343.2 1316.4 C2343.7 1316.8 2344.2 1317.3 2344.7 1317.8 C2345.2 1318.4 2345.6 1318.9 2346.1 1319.5 C2346.5 1320.1 2346.9 1320.8 2347.3 1321.4 C2347.7 1322.1 2348 1322.8 2348.3 1323.5 C2348.6 1324.1 2348.9 1324.8 2349.1 1325.5 C2349.4 1326.2 2349.5 1326.9 2349.7 1327.5 C2349.8 1328.2 2349.9 1328.8 2349.9 1329.4 C2349.9 1330 2349.9 1330.6 2349.9 1331.1 C2349.8 1331.6 2349.7 1332.1 2349.5 1332.5 C2349.3 1333 2349.1 1333.4 2348.9 1333.7 C2348.6 1334 2348.1 1334.3 2348 1334.4"/>
<path class="l" d="M2343 1310.6 C2343.2 1310.6 2343.7 1310.3 2344.1 1310.3 C2344.5 1310.2 2345 1310.2 2345.4 1310.3 C2345.9 1310.3 2346.4 1310.5 2346.8 1310.7 C2347.3 1310.9 2347.8 1311.2 2348.3 1311.5 C2348.8 1311.8 2349.4 1312.2 2349.8 1312.6 C2350.3 1313.1 2350.8 1313.6 2351.3 1314.1 C2351.8 1314.6 2352.3 1315.2 2352.7 1315.8 C2353.1 1316.4 2353.6 1317.1 2353.9 1317.7 C2354.3 1318.4 2354.7 1319.1 2355 1319.7 C2355.3 1320.4 2355.5 1321.1 2355.8 1321.8 C2356 1322.5 2356.2 1323.1 2356.3 1323.8 C2356.4 1324.4 2356.5 1325.1 2356.5 1325.7 C2356.6 1326.3 2356.5 1326.9 2356.5 1327.4 C2356.4 1327.9 2356.3 1328.4 2356.1 1328.8 C2356 1329.2 2355.7 1329.6 2355.5 1329.9 C2355.2 1330.3 2354.8 1330.6 2354.6 1330.7"/>
<path class="l" d="M2349.6 1306.9 C2349.8 1306.8 2350.3 1306.6 2350.7 1306.5 C2351.1 1306.5 2351.6 1306.5 2352 1306.5 C2352.5 1306.6 2353 1306.8 2353.5 1307 C2353.9 1307.2 2354.5 1307.4 2355 1307.8 C2355.5 1308.1 2356 1308.5 2356.5 1308.9 C2357 1309.3 2357.5 1309.8 2357.9 1310.4 C2358.4 1310.9 2358.9 1311.5 2359.3 1312.1 C2359.8 1312.7 2360.2 1313.3 2360.6 1314 C2360.9 1314.6 2361.3 1315.3 2361.6 1316 C2361.9 1316.7 2362.2 1317.4 2362.4 1318.1 C2362.6 1318.7 2362.8 1319.4 2362.9 1320.1 C2363 1320.7 2363.1 1321.4 2363.2 1322 C2363.2 1322.6 2363.2 1323.1 2363.1 1323.7 C2363 1324.2 2362.9 1324.7 2362.7 1325.1 C2362.6 1325.5 2362.4 1325.9 2362.1 1326.2 C2361.9 1326.5 2361.4 1326.9 2361.2 1327"/>
<path class="l" d="M2356.3 1303.2 C2356.4 1303.1 2357 1302.9 2357.4 1302.8 C2357.8 1302.7 2358.2 1302.7 2358.7 1302.8 C2359.1 1302.9 2359.6 1303 2360.1 1303.2 C2360.6 1303.4 2361.1 1303.7 2361.6 1304 C2362.1 1304.4 2362.6 1304.8 2363.1 1305.2 C2363.6 1305.6 2364.1 1306.1 2364.6 1306.6 C2365 1307.2 2365.5 1307.8 2366 1308.4 C2366.4 1309 2366.8 1309.6 2367.2 1310.3 C2367.6 1310.9 2367.9 1311.6 2368.2 1312.3 C2368.5 1313 2368.8 1313.7 2369 1314.3 C2369.2 1315 2369.4 1315.7 2369.5 1316.3 C2369.7 1317 2369.7 1317.6 2369.8 1318.2 C2369.8 1318.8 2369.8 1319.4 2369.7 1319.9 C2369.7 1320.4 2369.5 1320.9 2369.4 1321.4 C2369.2 1321.8 2369 1322.2 2368.7 1322.5 C2368.5 1322.8 2368 1323.1 2367.9 1323.3"/>
<path class="l" d="M2362.7 1298.9 A12.4 7.3 60 0 1 2377.5 1317.2"/>
<path class="l" d="M2292 1353.4 L2295.6 1351.1 L2295 1348.1"/>
</g>
<g id="lever">
<path class="f" d="M2184.8 2365.3 L2124.4 2334.2 L2114.4 2333.8 L2102.3 2340.2 L2093.3 2352.3 L2088.3 2368.4 L2089.3 2382.4 L2093.3 2396.5 L2102.3 2408.6 L2136.5 2427.7 L2144.6 2429.7 L2160.6 2414.6 L2170.7 2402.5 L2178.7 2388.5 L2182.8 2376.4Z"/>
<path class="b" d="M2142.5 2343.2 L2184.8 2365.3"/>
<path class="b" d="M2146.6 2346.6 L2180.7 2364.3"/>
<path class="l" d="M2184.8 2365.3 C2183.8 2364.8 2181.4 2362.7 2178.7 2362.3 C2176.1 2362 2172.4 2362.3 2168.7 2363.3 C2165 2364.3 2160.3 2365.8 2156.6 2368.4 C2152.9 2370.9 2149.2 2374.7 2146.6 2378.4 C2143.9 2382.1 2141.9 2386.1 2140.5 2390.5 C2139.2 2394.8 2138.5 2399.9 2138.5 2404.6 C2138.5 2409.2 2139.5 2414.4 2140.5 2418.6 C2141.5 2422.8 2143.9 2427.8 2144.6 2429.7"/>
<ellipse class="l" cx="2159.9" cy="2391" rx="17" ry="10.4" transform="rotate(120 2159.9 2391)"/>
<path class="l" d="M2144.6 2429.7 C2145.2 2432.2 2148.6 2439.9 2148.6 2444.8 C2148.6 2449.6 2146.9 2454.1 2144.6 2458.8 C2142.2 2463.5 2138.5 2468.6 2134.5 2472.9 C2130.5 2477.3 2126.8 2480.8 2120.4 2485 C2114.1 2489.2 2100.3 2495.9 2096.3 2498"/>
<path class="l" d="M2160.6 2414.6 L2168.7 2411.6 C2170 2412.4 2174.7 2412.4 2176.7 2416.6 C2178.7 2420.8 2179.2 2428.3 2180.7 2436.7 C2182.3 2445.1 2185.8 2459.5 2185.8 2466.9 C2185.8 2474.3 2183.6 2476.3 2180.7 2481 C2177.9 2485.6 2173.4 2490.3 2168.7 2495 C2164 2499.7 2158.3 2505.3 2152.6 2509.1 C2146.9 2513 2137.5 2516.6 2134.5 2518.2"/>
<path class="l" d="M2184.8 2365.3 C2186.4 2372.6 2192.1 2396.3 2194.8 2408.6 C2197.5 2420.8 2199 2425.5 2200.9 2438.7 C2202.7 2452 2205 2479.8 2205.9 2488 C2201.7 2491.8 2188.3 2504.9 2180.7 2511.1 C2173.2 2517.3 2169 2520.3 2160.6 2525.2 C2152.3 2530.1 2135.5 2537.8 2130.5 2540.3"/>
<path class="l" d="M2096.3 2498 C2095.6 2499.2 2092.9 2501.7 2092.3 2505.1 C2091.7 2508.4 2092.6 2516 2092.7 2518.2 L2130.5 2540.3 C2130.5 2538.1 2129.8 2530.9 2130.5 2527.2 C2131.1 2523.5 2133.8 2519.7 2134.5 2518.2 L2096.3 2498"/>
<path class="f" d="M2267.2 2434.7 L2315.5 2459.8 L2297.4 2489 L2251.1 2460.9 L2245.1 2450.8 L2247.1 2440.7 L2253.1 2434.7 L2263.2 2432.7Z"/>
<ellipse class="f" cx="2306.4" cy="2474.4" rx="17.1" ry="9.8" transform="rotate(120 2306.4 2474.4)"/>
<ellipse class="b" cx="2306.4" cy="2474.4" rx="16.7" ry="9.4" transform="rotate(120 2306.4 2474.4)"/>
<ellipse class="l" cx="2307.4" cy="2475.4" rx="10.6" ry="5.4" transform="rotate(120 2307.4 2475.4)"/>
</g>
<g id="nutU">
<path class="f" d="M1518.9 2675.6 L1523.7 2662.6 L1535.5 2653.8 L1547.3 2656.7 L1556.8 2664.9 L1558 2675.6 L1553.2 2688.6 L1540.2 2696.2 L1528.4 2691 L1520.1 2682.7Z"/>
<path class="b" d="M1519.4 2675.6 L1523.9 2663.1 L1535.5 2654.5 L1547.3 2657.1 L1556.3 2665.2 L1557.5 2675.6 L1552.7 2688.1 L1540.2 2695.5 L1528.6 2690.5 L1520.6 2682.4Z"/>
<ellipse class="b" cx="1545.5" cy="2676.2" rx="19.4" ry="6.5" transform="rotate(120 1545.5 2676.2)"/>
<ellipse class="b" cx="1544.9" cy="2677.4" rx="8.4" ry="4.8" transform="rotate(120 1544.9 2677.4)"/>
<path class="l" d="M1523.7 2662.6 L1535 2668.5"/>
<path class="l" d="M1528.4 2691 L1535.5 2685.1"/>
</g>
<g id="nutL">
<path class="f" d="M2590.1 3296.7 L2594.9 3283.7 L2606.7 3274.9 L2618.5 3277.8 L2628 3286 L2629.2 3296.7 L2624.4 3309.7 L2611.4 3317.3 L2599.6 3312.1 L2591.3 3303.8Z"/>
<path class="b" d="M2590.6 3296.7 L2595.1 3284.2 L2606.7 3275.6 L2618.5 3278.2 L2627.5 3286.3 L2628.7 3296.7 L2623.9 3309.2 L2611.4 3316.6 L2599.8 3311.6 L2591.8 3303.5Z"/>
<ellipse class="b" cx="2616.7" cy="3297.3" rx="19.4" ry="6.5" transform="rotate(120 2616.7 3297.3)"/>
<ellipse class="b" cx="2616.1" cy="3298.5" rx="8.4" ry="4.8" transform="rotate(120 2616.1 3298.5)"/>
<path class="l" d="M2594.9 3283.7 L2606.2 3289.6"/>
<path class="l" d="M2599.6 3312.1 L2606.7 3306.2"/>
</g>
<g id="stud">
<path class="f" d="M1684.5 2744.2 L1859.6 2843.5 L1843 2864.8 L1675 2769 L1670.3 2757.2 L1676.2 2744.2Z"/>
<path class="b" d="M1684.5 2744.2 L1859.6 2843.5"/>
<path class="b" d="M1675 2769 L1843 2864.8"/>
<path class="k" d="M1653.8 2745.4 L1660.9 2735.9 L1670.3 2737.1 L1676.2 2744.2 L1670.3 2752.5 L1669.1 2761.9 L1663.2 2759.6 L1653.8 2752.5Z"/>
<path class="l" d="M1679.8 2744.2 C1678.8 2746 1674.7 2750.9 1673.9 2754.8 C1673.1 2758.8 1674.8 2765.7 1675 2767.8"/>
<path class="b" d="M1843 2864.8 C1843.8 2862.3 1845 2853 1847.7 2849.5 C1850.5 2845.9 1857.6 2844.5 1859.6 2843.5"/>
<path class="k" d="M1850.1 2866 L1854.8 2851.8 L1864.3 2848.3 L1874.9 2854.2 L1873.7 2866 L1864.3 2874.3Z"/>
<ellipse class="f" cx="1869.5" cy="2864.8" rx="6.2" ry="4" transform="rotate(120 1869.5 2864.8)"/>
</g>
<g class="th"><g id="shT1">
<path class="l" d="M2020 2959.1 C2023 2958.9 2029.4 2960.9 2037.7 2957.7 C2046.1 2954.5 2064.8 2942.9 2070.3 2939.9 C2071.7 2940.7 2076.2 2941.9 2079.1 2944.4 C2082.1 2946.8 2083.6 2952.7 2088 2954.7 C2092.4 2956.7 2098.8 2956.2 2105.7 2956.2 C2112.6 2956.2 2107.7 2963.8 2129.4 2954.7 C2151.1 2945.6 2218.1 2910.3 2235.8 2901.5 L2243.2 2907.4 L2243.2 2954.7 L2173.8 3000.5"/>
<path class="l" d="M2089.5 2954.7 L2088 2959.1 C2091 2959.9 2097.4 2962.8 2105.7 2963.6 C2114.1 2964.3 2128.9 2964.8 2138.3 2963.6 C2147.6 2962.3 2144.7 2965.1 2161.9 2956.2 C2179.2 2947.3 2228.5 2918 2241.8 2910.3"/>
<path class="l" d="M2144.2 2948.8 L2218.1 2908.9"/>
<path class="l" d="M2147.1 2951.7 L2221.1 2911.8"/>
<path class="l" d="M2111.7 3019.8 L2123.5 3016.8"/>
<path class="l" d="M2156 3044.9 L2164.9 3046.4"/>
<path class="l" d="M2176.7 3003.5 C2178.2 3005.2 2181.1 3011.9 2185.6 3013.8 C2190 3015.8 2196.4 3014.8 2203.3 3015.3 C2210.2 3015.8 2219.1 3017.3 2227 3016.8 C2234.9 3016.3 2230.9 3021 2250.6 3012.4 C2270.3 3003.7 2329.5 2972.9 2345.3 2965.1 L2352.6 2969.5 L2352.6 2979.8 C2355.4 2981.8 2364.7 2987.2 2368.9 2991.7 C2373.1 2996.1 2376.1 3002 2377.8 3006.4 C2379.5 3010.9 2379.7 3014.3 2379.3 3018.3 C2378.8 3022.2 2377 3027.1 2374.8 3030.1 C2372.6 3033.1 2367.4 3035 2365.9 3036"/>
<path class="l" d="M2185.6 3013.8 C2189.5 3015.6 2200.4 3022.2 2209.2 3024.2 C2218.1 3026.2 2229.9 3026.7 2238.8 3025.7 C2247.7 3024.7 2243.7 3025.2 2262.5 3018.3 C2281.2 3011.4 2336.4 2989.9 2351.2 2984.3"/>
<path class="l" d="M2250.6 3012.4 L2348.2 2969.5"/>
<path class="l" d="M2173.8 3002 C2182.6 3006.7 2216.9 3023.9 2227 3030.1 C2237.1 3036.3 2232.6 3031.6 2234.4 3039 C2236.1 3046.4 2236.8 3068.5 2237.3 3074.5"/>
<path class="l" d="M2203.3 3050.8 L2232.9 3036"/>
<path class="l" d="M2237.3 3047.8 L2354.1 2982.8"/>
<path class="l" d="M2212.2 3056.7 L2221.1 3053.8 L2225.5 3061.1 L2224 3068.5 L2215.2 3061.1Z"/>
<path class="l" d="M2238.8 3068.5 L2259.5 3080.4 L2250.6 3095.2"/>
<path class="l" d="M2250.6 3101.1 L2354.1 3040.4"/>
<path class="b" d="M2368.9 3024.2 C2366.4 3027.1 2363 3031.1 2354.1 3041.9 C2345.3 3052.8 2327.5 3075.4 2315.7 3089.2 C2303.9 3103 2289.3 3116.8 2283.2 3124.7 C2277 3132.6 2279.2 3132.1 2278.7 3136.5 C2278.2 3141 2280 3148.9 2280.2 3151.3"/>
<path class="b" d="M2295 3175 C2296.5 3176.2 2300.4 3180.7 2303.9 3182.4 C2307.3 3184.1 2292 3189 2315.7 3185.3 C2339.3 3181.6 2424.1 3164.4 2445.8 3160.2"/>
<path class="l" d="M2445.8 3160.2 L2451.7 3154.3 C2453.7 3154.8 2460.1 3154.3 2463.5 3157.2 C2467 3160.2 2470.2 3165.6 2472.4 3172 C2474.6 3178.4 2474.1 3190.3 2476.8 3195.7 C2479.5 3201.1 2486.7 3203.1 2488.7 3204.6 L2488.7 3213.4 L2448.7 3240"/>
<path class="l" d="M2321.6 3225.3 L2429.5 3169.1"/>
<path class="l" d="M2404.4 3240 L2476.8 3198.6"/>
<path class="l" d="M2428 3240 L2484.2 3207.5"/>
<path class="l" d="M2321.6 3223.8 L2336.4 3223.8"/>
<path class="l" d="M2324.6 3234.1 L2345.3 3232.6"/>
</g>
<g id="shT2">
<path class="b" d="M2295.7 3171.8 C2298.1 3173.8 2305.6 3181.5 2309.9 3183.7 C2314.2 3185.8 2298.8 3188.4 2321.7 3184.8 C2344.6 3181.3 2426.2 3166.1 2447.1 3162.4"/>
<path class="l" d="M2466 3160 C2467.4 3162 2472.5 3165.9 2474.3 3171.8 C2476.1 3177.7 2476.3 3191.5 2476.7 3195.5 L2488.5 3203.8 L2488.5 3215.6 C2471.3 3225.2 2404.3 3260.7 2385.6 3273.5 C2366.9 3286.4 2378.1 3286.2 2376.1 3292.5 C2374.1 3298.8 2374.1 3308.2 2373.8 3311.4"/>
<path class="l" d="M2321.7 3225.1 L2428.2 3169.5"/>
<path class="l" d="M2321.7 3223.9 L2335.9 3222.7"/>
<path class="l" d="M2324.1 3233.3 L2347.7 3232.1"/>
<path class="l" d="M2361.9 3264.1 L2473.1 3200.2"/>
<path class="l" d="M2371.4 3278.3 C2373.8 3275.5 2366.3 3273.7 2385.6 3261.7 C2404.9 3249.7 2470.3 3215.4 2487.3 3206.1"/>
<path class="l" d="M2333.5 3251.1 C2335.1 3252.1 2336.7 3252.8 2343 3257 C2349.3 3261.1 2366.3 3271.2 2371.4 3275.9 C2376.5 3280.6 2373.8 3281 2373.8 3285.4 C2373.8 3289.7 2372.6 3295.2 2371.4 3301.9 C2370.2 3308.6 2367.4 3321.6 2366.7 3325.6"/>
<path class="l" d="M2340.6 3292.5 L2371.4 3278.3"/>
<path class="l" d="M2335.9 3271.2 L2345.4 3268.8 L2350.1 3275.9 L2345.4 3280.6 L2338.3 3278.3Z"/>
<path class="l" d="M2373.8 3343.3 L2444.7 3305.5 L2488.5 3329.1 L2488.5 3341 C2486.3 3342.3 2478.4 3346.7 2475.5 3349.2 C2472.5 3351.8 2484.9 3347.7 2470.7 3356.3 C2456.5 3365 2405.7 3391.4 2390.3 3401.3 C2374.9 3411.1 2381 3410.7 2378.5 3415.5 C2375.9 3420.2 2375.5 3427.3 2374.9 3429.7"/>
<path class="l" d="M2488.5 3332.7 C2472.5 3341.4 2411 3373.7 2392.7 3384.7 C2374.3 3395.8 2381.6 3394.6 2378.5 3398.9 C2375.3 3403.2 2374.5 3408.8 2373.8 3410.7"/>
<path class="b" d="M2395 3398.9 L2473.1 3354"/>
<path class="l" d="M2371.4 3301.9 C2370.2 3306.5 2364.9 3322.8 2364.3 3329.1 C2363.7 3335.4 2366.7 3332.5 2367.8 3339.8 C2369 3347.1 2371.2 3359.5 2371.4 3372.9 C2371.6 3386.3 2370.2 3408.8 2369 3420.2 C2367.8 3431.6 2365.1 3437.9 2364.3 3441.5 C2365.5 3442.7 2369.8 3445 2371.4 3448.6 C2373 3452.1 2373.4 3460.4 2373.8 3462.8 L2343 3481.7"/>
<path class="l" d="M2374.9 3299.6 L2374.9 3462.8"/>
</g>
<g id="sheave">
<ellipse class="f" style="stroke-width:3.2" cx="2127.4" cy="3262.4" rx="338.6" ry="203.3" transform="rotate(60 2127.4 3262.4)"/>
<ellipse class="f" style="stroke-width:3.2" cx="2124.3" cy="3263" rx="338.6" ry="203.3" transform="rotate(60 2124.3 3263)"/>
<ellipse class="f" style="stroke-width:3.2" cx="2121.1" cy="3263.7" rx="338.6" ry="203.3" transform="rotate(60 2121.1 3263.7)"/>
<ellipse class="f" style="stroke-width:3.2" cx="2118" cy="3264.4" rx="338.6" ry="203.3" transform="rotate(60 2118 3264.4)"/>
<ellipse class="f" style="stroke-width:3.2" cx="2114.8" cy="3265" rx="338.6" ry="203.3" transform="rotate(60 2114.8 3265)"/>
<ellipse class="f" style="stroke-width:3.2" cx="2111.7" cy="3265.7" rx="338.6" ry="203.3" transform="rotate(60 2111.7 3265.7)"/>
<ellipse class="f" cx="2108.5" cy="3266.4" rx="338.6" ry="203.3" transform="rotate(60 2108.5 3266.4)"/>
<ellipse class="l" cx="2061.3" cy="3294.5" rx="108" ry="62.5" transform="rotate(60 2061.3 3294.5)"/>
<ellipse class="l" cx="2060.5" cy="3294.1" rx="71.2" ry="42.2" transform="rotate(60 2060.5 3294.1)"/>
<ellipse class="l" cx="2064.2" cy="3294.1" rx="65.4" ry="38.1" transform="rotate(60 2064.2 3294.1)"/>
<path class="l" d="M2072.5 3245.7 C2074.6 3250.1 2079.4 3263.2 2084.9 3272.6 C2090.5 3281.9 2102.2 3296.7 2105.6 3301.5"/>
<path class="l" d="M1919.3 3102.8 L1927.6 3092.5 C1929.7 3092.8 1937.3 3093.2 1940 3094.6 C1942.8 3095.9 1943.5 3099.7 1944.2 3100.8"/>
<path class="l" d="M1921.4 3111.1 L1925.6 3115.3"/>
<path class="l" d="M1919.3 3154.6 L1927.6 3144.2 C1929.7 3144.6 1937.3 3144.9 1940 3146.3 C1942.8 3147.7 1943.5 3151.5 1944.2 3152.5"/>
<path class="l" d="M1921.4 3162.9 L1925.6 3167"/>
<path class="l" d="M2095.3 3473.3 L2103.6 3463 C2105.6 3463.3 2113.2 3463.7 2116 3465.1 C2118.7 3466.4 2119.4 3470.2 2120.1 3471.3"/>
<path class="l" d="M2097.4 3481.6 L2101.5 3485.7"/>
<path class="l" d="M2140.8 3500.2 L2149.1 3489.9 C2151.2 3490.2 2158.8 3490.6 2161.5 3492 C2164.3 3493.3 2165 3497.1 2165.7 3498.2"/>
<path class="l" d="M2142.9 3508.5 L2147 3512.7"/>
<path class="l" d="M2325 3351.2 L2327.1 3359.5 L2333.3 3361.6"/>
<path class="l" d="M2325 3400.9 L2327.1 3409.2 L2333.3 3411.2"/>
<path class="l" d="M2113.9 3013.8 L2116 3022.1 L2122.2 3024.2"/>
<path class="l" d="M2157.4 3040.7 L2159.4 3049 L2165.7 3051.1"/>
</g></g>
<g class="hv2"><g id="fanF1">
<path class="l" d="M1306.9 3346.1 C1310.4 3345.1 1320.7 3341.6 1328.2 3340.2 C1335.7 3338.8 1343.1 3337.8 1351.8 3337.8 C1360.5 3337.8 1369.6 3338 1380.2 3340.2 C1390.8 3342.4 1403.9 3346.1 1415.7 3350.9 C1427.5 3355.6 1439.3 3361.7 1451.2 3368.6 C1463 3375.5 1475.2 3383.6 1486.6 3392.3 C1498.1 3400.9 1514.4 3415.9 1520 3420.6"/>
<path class="l" d="M1358.9 3343.8 C1361.7 3344.5 1368 3346.3 1375.5 3348.5 C1383 3350.7 1393.6 3353 1403.9 3356.8 C1414.1 3360.5 1427.5 3366.6 1437 3371 C1446.4 3375.3 1451.2 3376.9 1460.6 3382.8 C1470.1 3388.7 1483.8 3399 1493.7 3406.4 C1503.6 3413.9 1515.6 3424.2 1520 3427.7"/>
<path class="l" d="M1306.9 3346.1 C1303.3 3348.3 1292.3 3355 1285.6 3359.1 C1278.9 3363.3 1273 3366.2 1266.7 3371 C1260.4 3375.7 1251.7 3384.2 1247.7 3387.5 C1243.8 3390.9 1243.8 3390.5 1243 3391.1 C1243.4 3392.8 1243 3395.6 1245.4 3401.7 C1247.7 3407.8 1253.6 3421.4 1257.2 3427.7 C1260.7 3434 1263.1 3437 1266.7 3439.6 C1270.2 3442.1 1273 3442.9 1278.5 3443.1 C1284 3443.3 1293.5 3440.5 1299.8 3440.7 C1306.1 3440.9 1310.8 3442.5 1316.3 3444.3 C1321.9 3446.1 1327.8 3447.8 1332.9 3451.4 C1338 3454.9 1342.4 3460.1 1347.1 3465.6 C1351.8 3471.1 1357.3 3478.6 1361.3 3484.5 C1365.2 3490.4 1369.2 3498.3 1370.7 3501.1"/>
<path class="l" d="M1250.1 3391.1 C1252.1 3395.6 1258.4 3411 1261.9 3418.3 C1265.5 3425.6 1268.2 3431.3 1271.4 3434.8 C1274.5 3438.4 1279.3 3438.8 1280.9 3439.6"/>
<path class="l" d="M1306.9 3346.1 C1306.9 3347.5 1304.5 3349.9 1306.9 3354.4 C1309.2 3358.9 1318.7 3370.2 1321.1 3373.3"/>
<path class="b" d="M1259.6 3378.1 L1304.5 3348.5"/>
<path class="l" d="M1321.1 3373.3 L1361.3 3347.3 L1373.1 3350.9 C1364.4 3355.8 1330.9 3374.7 1321.1 3380.4 C1311.2 3386.1 1315.2 3384.4 1314 3385.2 C1314.4 3387.9 1315.2 3395 1316.3 3401.7 C1317.5 3408.4 1319.1 3419.9 1321.1 3425.4 C1323 3430.9 1325.4 3432.9 1328.2 3434.8 C1330.9 3436.8 1333.7 3437.2 1337.6 3437.2 C1341.6 3437.2 1347.1 3434 1351.8 3434.8 C1356.5 3435.6 1362.1 3438.8 1366 3441.9 C1370 3445.1 1373.1 3449 1375.5 3453.8 C1377.8 3458.5 1379 3453.4 1380.2 3470.3 C1381.4 3487.3 1381.4 3539.3 1382.6 3555.5 C1383.7 3571.6 1386.5 3565.3 1387.3 3567.3"/>
<path class="l" d="M1318.7 3381.6 C1319.5 3388.5 1321.5 3414.5 1323.4 3423 C1325.4 3431.5 1329.3 3430.9 1330.5 3432.5"/>
<path class="l" d="M1361.3 3347.3 L1358.9 3343.8"/>
<path class="l" d="M1376.7 3350.9 C1378.4 3354.6 1383.9 3364.1 1387.3 3373.3 C1390.6 3382.6 1395.2 3400.9 1396.8 3406.4"/>
<path class="l" d="M1354.2 3437.2 C1355.8 3440.4 1360.9 3449 1363.6 3456.1 C1366.4 3463.2 1369.2 3466.4 1370.7 3479.8 C1372.3 3493.2 1372.5 3523.1 1373.1 3536.5 C1373.7 3550 1374.1 3556.3 1374.3 3560.2"/>
<path class="l" d="M1361.3 3441.9 L1368.4 3460.9"/>
<path class="l" d="M1396.8 3406.4 L1437 3375.7 L1451.2 3384 L1394.4 3415.9 L1389.7 3413.5 C1389.3 3418.3 1387.1 3435.2 1387.3 3441.9 C1387.5 3448.6 1390.3 3451.8 1390.8 3453.8 C1392.2 3454.1 1395.8 3456.1 1399.1 3456.1 C1402.5 3456.1 1407.4 3454.1 1411 3453.8 C1414.5 3453.4 1417.7 3453.4 1420.4 3453.8 C1423.2 3454.1 1425.1 3453.4 1427.5 3456.1 C1429.9 3458.9 1431.8 3464.8 1434.6 3470.3 C1437.4 3475.8 1442.5 3486.1 1444.1 3489.2"/>
<path class="l" d="M1394.4 3415.9 L1392 3446.7"/>
<path class="l" d="M1458.3 3382.8 C1459 3388.7 1463 3406.4 1463 3418.3 C1463 3430.1 1460.2 3443.9 1458.3 3453.8 C1456.3 3463.6 1452.7 3471.1 1451.2 3477.4 C1449.6 3483.7 1450.4 3487.3 1448.8 3491.6 C1447.2 3495.9 1442.9 3501.5 1441.7 3503.4"/>
<path class="b" d="M1422.8 3456.1 L1434.6 3489.2"/>
<path class="l" d="M1408.6 3456.1 C1409.4 3461.6 1412.9 3479 1413.3 3489.2 C1413.7 3499.5 1412.9 3508.6 1411 3517.6 C1409 3526.7 1405 3536.9 1401.5 3543.6 C1397.9 3550.3 1391.6 3555.5 1389.7 3557.8"/>
<path class="l" d="M1520 3439.6 L1474.8 3465.6 L1464.2 3458.5"/>
<path class="l" d="M1474.8 3475 L1520 3451.4"/>
<path class="l" d="M1474.8 3465.6 C1474 3467.6 1473.2 3471.9 1470.1 3477.4 C1466.9 3482.9 1458.3 3495.2 1455.9 3498.7 L1458.3 3503.4 L1480.7 3498.7 C1480.1 3499.9 1484.5 3497.1 1477.2 3505.8 C1469.9 3514.5 1444.9 3542.1 1437 3550.7 C1429.1 3559.4 1431.1 3556.7 1429.9 3557.8 C1430.3 3559.4 1431.1 3564.9 1432.2 3567.3 C1433.4 3569.7 1436.2 3571.2 1437 3572"/>
<path class="l" d="M1520 3482.1 L1437 3555.5"/>
<path class="l" d="M1418 3520 L1425.1 3518.8"/>
<path class="l" d="M1425.1 3512.9 L1444.1 3514.1"/>
<path class="l" d="M1413.3 3548.4 L1422.8 3553.1"/>
<path class="b" d="M1455.9 3503.4 L1392 3564.9"/>
<path class="l" d="M1477.2 3536.5 L1503.2 3557.8"/>
<path class="l" d="M1437 3564.9 C1443.3 3564.5 1461 3563.4 1474.8 3562.6 C1488.7 3561.8 1512.5 3560.6 1520 3560.2"/>
<path class="l" d="M1434.6 3569.7 L1520 3593.3"/>
<path class="l" d="M1470.1 3583.9 L1477.2 3593.3"/>
<path class="l" d="M1243 3392.3 C1235.1 3398.2 1204 3421 1195.7 3427.7 C1187.4 3434.4 1193.3 3430.1 1193.3 3432.5 C1193.3 3434.8 1192.1 3436 1195.7 3441.9 C1199.2 3447.8 1209.9 3462.2 1214.6 3467.9 C1219.3 3473.7 1220.9 3474.3 1224.1 3476.2 C1227.2 3478.2 1228.8 3479.6 1233.5 3479.8 C1238.3 3480 1246.2 3477.6 1252.5 3477.4 C1258.8 3477.2 1265.9 3477.4 1271.4 3478.6 C1276.9 3479.8 1280.9 3481.5 1285.6 3484.5 C1290.3 3487.5 1295.8 3492 1299.8 3496.3 C1303.7 3500.7 1299 3492 1309.2 3510.5 C1319.5 3529.1 1352.6 3591.3 1361.3 3607.5"/>
<path class="b" d="M1195.7 3432.5 C1199.2 3438.4 1211.1 3460.3 1217 3467.9 C1222.9 3475.6 1228.8 3476.8 1231.2 3478.6"/>
<path class="l" d="M1257.2 3481 C1260.4 3483.1 1269.8 3489 1276.1 3494 C1282.4 3498.9 1289.5 3505.4 1295 3510.5 C1300.6 3515.7 1305.7 3520.4 1309.2 3524.7 C1312.8 3529.1 1315.2 3534.6 1316.3 3536.5"/>
<path class="l" d="M1261.9 3479.8 C1265.9 3481.4 1278.9 3484.9 1285.6 3489.2 C1292.3 3493.6 1297.4 3499.5 1302.1 3505.8 C1306.9 3512.1 1308.8 3516.8 1314 3527.1 C1319.1 3537.3 1325.4 3552.7 1332.9 3567.3 C1340.4 3581.9 1354.6 3606.7 1358.9 3614.6"/>
<path class="l" d="M1302.1 3444.3 C1305.7 3448.6 1316.7 3461.6 1323.4 3470.3 C1330.1 3479 1336.8 3488.1 1342.4 3496.3 C1347.9 3504.6 1352.2 3511.7 1356.5 3520 C1360.9 3528.3 1365.6 3539.3 1368.4 3546 C1371.1 3552.7 1372.3 3557.8 1373.1 3560.2"/>
<path class="l" d="M1316.3 3449 C1319.9 3453 1330.9 3465.6 1337.6 3472.7 C1344.3 3479.8 1351.4 3487.3 1356.5 3491.6 C1361.7 3495.9 1366.4 3497.5 1368.4 3498.7"/>
<path class="l" d="M1214.6 3467.9 C1206.7 3473.1 1175.4 3492.8 1167.3 3498.7 C1159.2 3504.6 1166.3 3502.6 1166.1 3503.4 C1167.5 3505 1168.7 3507.8 1174.4 3512.9 C1180.1 3518 1194.5 3529.8 1200.4 3534.2 C1206.3 3538.5 1205.9 3538.5 1209.9 3538.9 C1213.8 3539.3 1219.3 3537.5 1224.1 3536.5 C1228.8 3535.6 1233.1 3533.4 1238.3 3533 C1243.4 3532.6 1249.3 3533.2 1254.8 3534.2 C1260.4 3535.2 1258.8 3534.2 1271.4 3538.9 C1284 3543.6 1320.7 3558.6 1330.5 3562.6"/>
<path class="l" d="M1170.9 3505.8 L1202.8 3536.5"/>
<path class="l" d="M1238.3 3541.3 C1240.6 3541.5 1249.3 3542.9 1252.5 3542.5 C1255.6 3542.1 1256.4 3539.5 1257.2 3538.9"/>
<path class="l" d="M1257.2 3538.9 L1332.9 3574.4"/>
<path class="l" d="M1321.1 3569.7 L1323.4 3586.2"/>
<path class="l" d="M1215.8 3543.6 L1215.8 3556.7 C1207.9 3562.4 1176.6 3584.4 1168.5 3591 C1160.4 3597.5 1167.5 3594.9 1167.3 3595.7 C1168.9 3596.9 1170.9 3599.6 1176.8 3602.8 C1182.7 3605.9 1197.3 3612.2 1202.8 3614.6 C1208.3 3617 1205.9 3617.4 1209.9 3617 C1213.8 3616.6 1220.5 3613.8 1226.4 3612.2 C1232.4 3610.7 1238.7 3608.1 1245.4 3607.5 C1252.1 3606.9 1260 3607.5 1266.7 3608.7 C1273.4 3609.9 1279.3 3612 1285.6 3614.6 C1291.9 3617.2 1294.3 3618.2 1304.5 3624.1 C1314.8 3630 1340 3645.8 1347.1 3650.1"/>
<path class="l" d="M1217 3553.1 C1226.1 3555.5 1247.7 3556.7 1271.4 3567.3 C1295 3577.9 1344.3 3608.7 1358.9 3617"/>
<path class="l" d="M1172 3598 L1207.5 3618.2"/>
<path class="l" d="M1231.2 3619.3 L1240.6 3650.1"/>
<path class="l" d="M1285.6 3619.3 L1332.9 3650.1"/>
<path class="b" d="M1370.7 3586.2 C1372.3 3584.2 1376.3 3577.5 1380.2 3574.4 C1384.1 3571.2 1389.3 3568.1 1394.4 3567.3 C1399.5 3566.5 1404.6 3567.7 1411 3569.7 C1417.3 3571.6 1424.8 3574.4 1432.2 3579.1 C1439.7 3583.9 1448 3590.6 1455.9 3598 C1463.8 3605.5 1473.2 3615.4 1479.6 3624.1 C1485.9 3632.7 1491.4 3645.8 1493.7 3650.1"/>
<path class="l" d="M1387.3 3567.3 C1383.7 3573.6 1370.3 3596.9 1366 3605.1 C1361.7 3613.4 1360.9 3609.5 1361.3 3617 C1361.7 3624.5 1367.2 3644.6 1368.4 3650.1"/>
<path class="l" d="M1380.2 3650.1 C1380.6 3644.6 1381 3625.3 1382.6 3617 C1384.1 3608.7 1386.5 3604.6 1389.7 3600.4 C1392.8 3596.3 1396.8 3593.3 1401.5 3592.1 C1406.2 3591 1412.1 3591.5 1418 3593.3 C1424 3595.1 1430.7 3598.4 1437 3602.8 C1443.3 3607.1 1450.4 3613.8 1455.9 3619.3 C1461.4 3624.9 1466.1 3630.8 1470.1 3635.9 C1474 3641 1478 3647.7 1479.6 3650.1"/>
<path class="l" d="M1384.9 3650.1 C1385.3 3645 1385.7 3626.8 1387.3 3619.3 C1388.9 3611.8 1393.2 3607.5 1394.4 3605.1"/>
<path class="b" d="M1394.4 3650.1 C1395.2 3645.8 1396.8 3630.4 1399.1 3624.1 C1401.5 3617.8 1405 3615 1408.6 3612.2 C1412.1 3609.5 1415.7 3607.5 1420.4 3607.5 C1425.1 3607.5 1431.1 3609.1 1437 3612.2 C1442.9 3615.4 1450.8 3621.7 1455.9 3626.4 C1461 3631.2 1465 3636.7 1467.7 3640.6 C1470.5 3644.6 1471.7 3648.5 1472.5 3650.1"/>
<path class="l" d="M1413.3 3650.1 C1413.7 3646.9 1413.7 3635.9 1415.7 3631.2 C1417.7 3626.4 1423.6 3623.3 1425.1 3621.7 C1427.5 3622.1 1435 3622.1 1439.3 3624.1 C1443.7 3626 1447.6 3629.2 1451.2 3633.5 C1454.7 3637.9 1459 3647.3 1460.6 3650.1"/>
<path class="l" d="M1481.9 3598 C1483.1 3597.3 1482.7 3593.7 1489 3593.3 C1495.4 3592.9 1514.8 3595.3 1520 3595.7"/>
<path class="l" d="M1479.6 3602.8 L1481.9 3612.2 L1520 3626.4"/>
<path class="l" d="M1489 3609.9 L1520 3617"/>
</g>
<g id="fanF2">
<path class="l" d="M1691.6 3450.2 C1707.8 3440.7 1770.5 3403.3 1788.6 3393.4 C1806.7 3383.6 1796.1 3390.7 1800.4 3391.1 C1804.8 3391.5 1809.9 3392.8 1814.6 3395.8 C1819.3 3398.8 1824.5 3403.5 1828.8 3408.8 C1833.1 3414.1 1837.5 3421.4 1840.6 3427.7 C1843.8 3434 1846.3 3440.7 1847.7 3446.7 C1849.1 3452.6 1849.3 3458.5 1848.9 3463.2 C1848.5 3467.9 1847.1 3471.9 1845.4 3475 C1843.6 3478.2 1855.6 3471.9 1838.3 3482.1 C1820.9 3492.4 1757.4 3527.5 1741.3 3536.5"/>
<path class="l" d="M1592.3 3489.2 C1594.6 3487.7 1600.5 3481 1606.4 3479.8 C1612.4 3478.6 1616.3 3486.7 1627.7 3482.1 C1639.2 3477.6 1664.4 3457.9 1675 3452.6 C1685.7 3447.3 1688.8 3450.6 1691.6 3450.2"/>
<path class="l" d="M1627.7 3482.1 C1630.1 3482.5 1637.2 3482.1 1641.9 3484.5 C1646.7 3486.9 1651.4 3490.8 1656.1 3496.3 C1660.9 3501.9 1666.4 3510.1 1670.3 3517.6 C1674.3 3525.1 1677.4 3534.2 1679.8 3541.3 C1682.1 3548.4 1683.7 3554.3 1684.5 3560.2 C1685.3 3566.1 1684.5 3574 1684.5 3576.8"/>
<path class="l" d="M1639.6 3476.2 C1641.9 3476.8 1649 3477.2 1653.8 3479.8 C1658.5 3482.3 1663.2 3486.1 1667.9 3491.6 C1672.7 3497.1 1678.2 3505.4 1682.1 3512.9 C1686.1 3520.4 1689.6 3529.5 1691.6 3536.5 C1693.6 3543.6 1694 3549.6 1694 3555.5 C1694 3561.4 1692 3569.3 1691.6 3572"/>
<path class="l" d="M1651.4 3469.1 C1653.8 3469.7 1660.5 3469.7 1665.6 3472.7 C1670.7 3475.6 1677 3481 1682.1 3486.9 C1687.3 3492.8 1692.6 3500.7 1696.3 3508.2 C1700.1 3515.7 1702.8 3524.7 1704.6 3531.8 C1706.4 3538.9 1707.2 3545.2 1707 3550.7 C1706.8 3556.3 1704 3562.6 1703.4 3564.9"/>
<path class="l" d="M1663.2 3463.2 C1665.6 3463.6 1672.3 3462.8 1677.4 3465.6 C1682.5 3468.3 1688.8 3473.9 1694 3479.8 C1699.1 3485.7 1704.4 3493.6 1708.2 3501.1 C1711.9 3508.6 1714.7 3517.6 1716.4 3524.7 C1718.2 3531.8 1719 3538.1 1718.8 3543.6 C1718.6 3549.2 1715.8 3555.5 1715.3 3557.8"/>
<path class="l" d="M1675 3456.1 C1677.4 3456.5 1684.1 3455.7 1689.2 3458.5 C1694.4 3461.2 1700.7 3466.8 1705.8 3472.7 C1710.9 3478.6 1716.2 3486.5 1720 3494 C1723.7 3501.5 1726.5 3510.5 1728.3 3517.6 C1730 3524.7 1730.8 3531 1730.6 3536.5 C1730.4 3542.1 1727.7 3548.4 1727.1 3550.7"/>
<path class="l" d="M1691.6 3450.2 C1694 3450.8 1700.7 3450.4 1705.8 3453.8 C1710.9 3457.1 1717.2 3464 1722.4 3470.3 C1727.5 3476.6 1732.8 3484.5 1736.5 3491.6 C1740.3 3498.7 1743.1 3507 1744.8 3512.9 C1746.6 3518.8 1747.8 3523.1 1747.2 3527.1 C1746.6 3531 1742.3 3535 1741.3 3536.5"/>
<path class="l" d="M1698.7 3451.4 C1701.1 3452.6 1708.2 3454.5 1712.9 3458.5 C1717.6 3462.4 1722.7 3468.7 1727.1 3475 C1731.4 3481.4 1735.8 3489.2 1738.9 3496.3 C1742.1 3503.4 1744.8 3514.1 1746 3517.6"/>
<path class="b" d="M1641.9 3486.9 C1645.1 3490 1655.3 3498.7 1660.9 3505.8 C1666.4 3512.9 1671.5 3522 1675 3529.5 C1678.6 3536.9 1681 3547.2 1682.1 3550.7"/>
<path class="l" d="M1684.5 3579.1 L1738.9 3546"/>
<path class="l" d="M1684.5 3576.8 C1683.7 3579.1 1682.1 3587 1679.8 3591 C1677.4 3594.9 1673.9 3598 1670.3 3600.4 C1666.8 3602.8 1660.5 3604.4 1658.5 3605.1"/>
<path class="l" d="M1500 3397 C1505.9 3402.1 1523.7 3416.3 1535.5 3427.7 C1547.3 3439.2 1561.1 3454.1 1571 3465.6 C1580.8 3477 1587.5 3486.1 1594.6 3496.3 C1601.7 3506.6 1607.2 3516.4 1613.5 3527.1 C1619.9 3537.7 1626.9 3549.6 1632.5 3560.2 C1638 3570.8 1641.9 3579.9 1646.7 3591 C1651.4 3602 1656.9 3616.6 1660.9 3626.4 C1664.8 3636.3 1668.7 3646.1 1670.3 3650.1"/>
<path class="l" d="M1500 3406.4 C1504.7 3410.8 1518.1 3422.2 1528.4 3432.5 C1538.6 3442.7 1551.6 3456.5 1561.5 3467.9 C1571.4 3479.4 1580 3490 1587.5 3501.1 C1595 3512.1 1600.1 3523.1 1606.4 3534.2 C1612.8 3545.2 1619.9 3556.7 1625.4 3567.3 C1630.9 3577.9 1635.2 3587.4 1639.6 3598 C1643.9 3608.7 1648.2 3622.5 1651.4 3631.2 C1654.5 3639.8 1657.3 3646.9 1658.5 3650.1"/>
<path class="l" d="M1521.3 3427.7 C1520.9 3429.3 1522.5 3433.3 1518.9 3437.2 C1515.4 3441.1 1503.2 3449 1500 3451.4"/>
<path class="l" d="M1535.5 3446.7 C1534.7 3449.8 1533.5 3459.7 1530.8 3465.6 C1528 3471.5 1524 3476.2 1518.9 3482.1 C1513.8 3488.1 1503.2 3497.9 1500 3501.1"/>
<path class="l" d="M1500 3463.2 L1530.8 3446.7"/>
<path class="l" d="M1552 3465.6 C1550.9 3467.6 1546.3 3472.7 1544.9 3477.4 C1543.6 3482.1 1543 3489.2 1543.8 3494 C1544.5 3498.7 1546.7 3503 1549.7 3505.8 C1552.6 3508.6 1558 3509.3 1561.5 3510.5 C1565.1 3511.7 1569.4 3512.5 1571 3512.9"/>
<path class="l" d="M1547.3 3470.3 L1554.4 3467.9 L1578.1 3501.1"/>
<path class="l" d="M1561.5 3510.5 L1571 3496.3"/>
<path class="l" d="M1516.6 3498.7 L1535.5 3520"/>
<path class="l" d="M1510.6 3531.8 C1511.8 3531 1506.5 3528.7 1517.7 3527.1 C1529 3525.5 1566 3523.9 1578.1 3522.4 C1590.1 3520.8 1587.9 3518.4 1589.9 3517.6 C1581.2 3524.7 1548.9 3551.1 1537.8 3560.2 C1526.8 3569.3 1527.4 3569.7 1523.7 3572 C1519.9 3574.4 1516.8 3574 1515.4 3574.4 L1514.2 3567.3 C1517 3565.3 1527.6 3558.6 1530.8 3555.5 C1533.9 3552.3 1532.7 3549.6 1533.1 3548.4 C1531.5 3547.6 1526.8 3544 1523.7 3543.6 C1520.5 3543.2 1515.8 3545.6 1514.2 3546 L1511.8 3536.5"/>
<path class="b" d="M1589.9 3520 L1540.2 3562.6"/>
<path class="b" d="M1542.6 3567.3 L1601.7 3538.9"/>
<path class="l" d="M1592.3 3546 L1604.1 3541.3"/>
<path class="l" d="M1605.3 3557.8 C1604.7 3560.2 1601.9 3566.5 1601.7 3572 C1601.5 3577.5 1602.1 3586.2 1604.1 3591 C1606.1 3595.7 1610 3598.4 1613.5 3600.4 C1617.1 3602.4 1623.4 3602.4 1625.4 3602.8 L1634.8 3595.7"/>
<path class="l" d="M1604.1 3557.8 L1617.1 3557.8 C1617.3 3559 1615.7 3559 1618.3 3564.9 C1620.8 3570.8 1630.1 3588.6 1632.5 3593.3"/>
<path class="l" d="M1601.7 3569.7 L1615.9 3564.9"/>
<path class="l" d="M1563.9 3560.2 L1578.1 3576.8"/>
<path class="l" d="M1544.9 3572 C1550.1 3574 1565.4 3578.3 1575.7 3583.9 C1585.9 3589.4 1597.8 3600 1606.4 3605.1 C1615.1 3610.3 1621 3612.2 1627.7 3614.6 C1634.4 3617 1643.5 3618.5 1646.7 3619.3"/>
<path class="l" d="M1500 3586.2 C1509.1 3589.4 1543.4 3600.8 1554.4 3605.1 C1565.4 3609.5 1563.3 3609.1 1566.2 3612.2 C1569.2 3615.4 1571.4 3620.1 1572.1 3624.1 C1572.9 3628 1573.1 3631.6 1571 3635.9 C1568.8 3640.2 1561.1 3647.7 1559.1 3650.1"/>
<path class="l" d="M1500 3600.4 C1507.9 3602.8 1536.3 3610.3 1547.3 3614.6 C1558.3 3618.9 1563.1 3624.5 1566.2 3626.4"/>
<path class="l" d="M1540.2 3614.6 L1549.7 3631.2"/>
<path class="l" d="M1500 3619.3 C1505.1 3621.3 1521.7 3626.4 1530.8 3631.2 C1539.8 3635.9 1550.5 3645 1554.4 3647.7"/>
<path class="l" d="M1623 3650.1 C1626.9 3647.7 1641.9 3639 1646.7 3635.9 C1651.4 3632.7 1650.6 3632 1651.4 3631.2"/>
<path class="l" d="M1646.7 3621.7 C1647.4 3624.1 1649 3631.2 1651.4 3635.9 C1653.8 3640.6 1659.3 3647.7 1660.9 3650.1"/>
</g>
<g id="fanF3">
<path class="l" d="M1240.6 3650 L1241.8 3658.3 C1233.7 3663.8 1201.6 3684.9 1193.3 3691.4 C1185.1 3697.9 1192.3 3696.3 1192.1 3697.3 C1192.7 3698.1 1191.9 3700.9 1195.7 3702 C1199.4 3703.2 1208.3 3704 1214.6 3704.4 C1220.9 3704.8 1227.2 3705.2 1233.5 3704.4 C1239.9 3703.6 1246.2 3701.6 1252.5 3699.7 C1258.8 3697.7 1265.1 3694.4 1271.4 3692.6 C1277.7 3690.8 1280.1 3689.8 1290.3 3689 C1300.6 3688.2 1319.5 3688.4 1332.9 3687.8 C1346.3 3687.3 1361.7 3684.7 1370.7 3685.5 C1379.8 3686.3 1384.5 3691.4 1387.3 3692.6"/>
<path class="l" d="M1240.6 3653.5 C1248.1 3653.4 1272.2 3651.4 1285.6 3652.4 C1299 3653.4 1309.2 3656.7 1321.1 3659.5 C1332.9 3662.2 1346.7 3665.4 1356.5 3668.9 C1366.4 3672.5 1376.3 3678.8 1380.2 3680.8"/>
<path class="l" d="M1195.7 3692.6 C1200 3693.2 1213.8 3695.7 1221.7 3696.1 C1229.6 3696.5 1236.3 3696.3 1243 3694.9 C1249.7 3693.6 1254 3690.2 1261.9 3687.8 C1269.8 3685.5 1272.6 3682.3 1290.3 3680.8 C1308.1 3679.2 1355.4 3678.8 1368.4 3678.4"/>
<path class="l" d="M1260.7 3700.9 L1290.3 3758.8"/>
<path class="l" d="M1360.1 3692.6 L1376.7 3719.8"/>
<path class="l" d="M1290.3 3758.8 L1295 3761.2 C1286.8 3766.3 1253.8 3786 1245.4 3791.9 C1236.9 3797.8 1244.4 3795.9 1244.2 3796.7 L1247.7 3800.2 C1250.9 3799.2 1257.2 3798 1266.7 3794.3 C1276.1 3790.5 1291.5 3783.3 1304.5 3777.7 C1317.5 3772.2 1332.1 3765.5 1344.7 3761.2 C1357.3 3756.8 1366.4 3754.1 1380.2 3751.7 C1394 3749.3 1413.7 3748.2 1427.5 3747 C1441.3 3745.8 1455.1 3744.6 1463 3744.6 C1470.9 3744.6 1472.1 3745.4 1474.8 3747 C1477.6 3748.6 1478.8 3752.9 1479.6 3754.1 L1474.8 3763.5"/>
<path class="l" d="M1290.3 3758.8 C1293.5 3756.4 1302.1 3748.6 1309.2 3744.6 C1316.3 3740.7 1325 3737.7 1332.9 3735.2 C1340.8 3732.6 1343.9 3731.8 1356.5 3729.2 C1369.2 3726.7 1399.9 3721.4 1408.6 3719.8"/>
<path class="l" d="M1261.9 3783.6 C1269.8 3779.9 1295.8 3766.9 1309.2 3761.2 C1322.6 3755.5 1332.5 3752.3 1342.4 3749.3 C1352.2 3746.4 1354.2 3745.8 1368.4 3743.4 C1382.6 3741.1 1417.7 3736.5 1427.5 3735.2"/>
<path class="l" d="M1427.5 3735.2 L1437 3742.3"/>
<path class="l" d="M1304.5 3778.9 C1307.7 3784.2 1315.5 3801.2 1323.4 3810.9 C1331.3 3820.5 1347.1 3832.5 1351.8 3836.9"/>
<path class="l" d="M1402.7 3754.1 L1424 3775.4"/>
<path class="b" d="M1351.8 3835.7 L1453.5 3761.2 L1460.6 3765.9"/>
<path class="l" d="M1356.5 3836.9 L1458.3 3763.5"/>
<path class="l" d="M1351.8 3835.7 C1347.9 3838.6 1334.5 3847.3 1328.2 3853.4 C1321.9 3859.5 1316.7 3867.6 1314 3872.4 C1311.2 3877.1 1312 3880.2 1311.6 3881.8 L1318.7 3887.7 C1320.3 3887.1 1319.5 3888.3 1328.2 3884.2 C1336.8 3880 1362.9 3866.4 1370.7 3862.9 C1378.6 3859.3 1371.9 3860.1 1375.5 3862.9 C1379 3865.7 1389.3 3876.7 1392 3879.5"/>
<path class="l" d="M1321.1 3884.2 C1321.9 3881.8 1323 3874.7 1325.8 3870 C1328.6 3865.3 1332.5 3860.5 1337.6 3855.8 C1342.7 3851.1 1349.5 3846.7 1356.5 3841.6 C1363.6 3836.5 1361.7 3836.9 1380.2 3825 C1398.7 3813.2 1453.1 3779.7 1467.7 3770.6"/>
<path class="l" d="M1380.2 3825 C1395.2 3816.4 1454.3 3782.9 1470.1 3773 C1485.9 3763.1 1474 3767.1 1474.8 3765.9"/>
<path class="l" d="M1453.5 3761.2 L1465.4 3751.7 L1472.5 3754.1"/>
<path class="l" d="M1450 3799 L1467.7 3808.5"/>
<path class="l" d="M1399.1 3836.9 L1394.4 3846.3"/>
<path class="l" d="M1380.2 3860.5 C1381.4 3858.6 1384.1 3851.5 1387.3 3848.7 C1390.5 3845.9 1394.8 3845 1399.1 3844 C1403.5 3843 1409 3842.4 1413.3 3842.8 C1417.7 3843.2 1421.6 3843.4 1425.1 3846.3 C1428.7 3849.3 1433 3858.2 1434.6 3860.5"/>
<path class="l" d="M1394.4 3879.5 C1394.4 3876.7 1393.2 3866.8 1394.4 3862.9 C1395.6 3858.9 1400.3 3857 1401.5 3855.8 C1403.1 3857 1408 3858.9 1411 3862.9 C1413.9 3866.8 1417.9 3876.7 1419.2 3879.5"/>
<path class="l" d="M1392 3877.1 L1403.9 3891.3"/>
<path class="l" d="M1403.9 3891.3 C1414.5 3875.5 1455.1 3819.5 1467.7 3796.7 C1480.3 3773.8 1477.6 3761.2 1479.6 3754.1"/>
<path class="l" d="M1403.9 3891.3 C1402.7 3892.9 1398.7 3896.8 1396.8 3900.7 C1394.8 3904.7 1393 3908.6 1392 3914.9 C1391 3921.2 1390.5 3933.3 1390.8 3938.6 C1391.2 3943.9 1393.8 3945.5 1394.4 3946.9 C1396 3946.7 1394.8 3949.6 1403.9 3945.7 C1412.9 3941.7 1440.1 3926.8 1448.8 3923.2 C1457.5 3919.7 1454.7 3924.2 1455.9 3924.4"/>
<path class="l" d="M1396.8 3945.7 C1396.6 3941 1394.8 3924.4 1395.6 3917.3 C1396.4 3910.2 1398.9 3907.4 1401.5 3903.1 C1404.1 3898.8 1401.9 3901.9 1411 3891.3 C1420 3880.6 1446 3853.4 1455.9 3839.2 C1465.8 3825 1465.4 3819.5 1470.1 3806.1 C1474.8 3792.7 1481.9 3766.7 1484.3 3758.8"/>
<path class="l" d="M1455.9 3924.4 C1456.7 3920.1 1457.5 3908.6 1460.6 3898.4 C1463.8 3888.1 1469.3 3876.7 1474.8 3862.9 C1480.3 3849.1 1488.2 3831.4 1493.7 3815.6 C1499.3 3799.8 1503.6 3780.1 1507.9 3768.3 C1512.3 3756.4 1518 3748.6 1520 3744.6"/>
<path class="l" d="M1472.5 3910.2 C1472.8 3907.8 1472.8 3900 1474.8 3896 C1476.8 3892.1 1482.7 3888.1 1484.3 3886.5 L1491.4 3887.7"/>
<path class="l" d="M1472.5 3907.8 L1491.4 3893.6"/>
<path class="l" d="M1505.6 3825 L1520 3827.4"/>
<path class="l" d="M1465.4 3924.4 C1465 3926 1463.2 3928.3 1463 3933.9 C1462.8 3939.4 1463.4 3951.2 1464.2 3957.5 C1465 3963.8 1465.9 3968.4 1467.7 3971.7 C1469.5 3975.1 1473.6 3976.6 1474.8 3977.6 C1476.4 3977.2 1476.8 3978.6 1484.3 3975.3 C1491.8 3971.9 1514 3960.5 1520 3957.5"/>
<path class="l" d="M1470.1 3974.1 C1469.7 3967.4 1466.9 3943.3 1467.7 3933.9 C1468.5 3924.4 1471.3 3923.2 1474.8 3917.3 C1478.4 3911.4 1484.3 3905.5 1489 3898.4 C1493.7 3891.3 1498 3884.6 1503.2 3874.7 C1508.4 3864.9 1517.2 3845.2 1520 3839.2"/>
<path class="l" d="M1474.8 3976.4 C1474 3969.3 1469.7 3942.9 1470.1 3933.9 C1470.5 3924.8 1476 3924 1477.2 3922"/>
<path class="b" d="M1380.2 3650 C1382.2 3655.1 1387.3 3671.3 1392 3680.8 C1396.8 3690.2 1402.3 3698.9 1408.6 3706.8 C1414.9 3714.7 1422.8 3722.5 1429.9 3728.1 C1437 3733.6 1444.1 3737.5 1451.2 3739.9 C1458.3 3742.3 1466.1 3743 1472.5 3742.3 C1478.8 3741.5 1484.7 3738.7 1489 3735.2 C1493.3 3731.6 1496.3 3727.3 1498.5 3721 C1500.6 3714.7 1502 3706 1502 3697.3 C1502 3688.6 1499.9 3676.8 1498.5 3668.9 C1497.1 3661 1494.5 3653.2 1493.7 3650"/>
<path class="l" d="M1387.3 3650 C1389.3 3654.7 1394.4 3669.7 1399.1 3678.4 C1403.9 3687.1 1409.8 3695.3 1415.7 3702 C1421.6 3708.7 1428.3 3714.7 1434.6 3718.6 C1440.9 3722.5 1448 3725.3 1453.5 3725.7 C1459 3726.1 1463.8 3723.7 1467.7 3721 C1471.7 3718.2 1474.8 3714.3 1477.2 3709.1 C1479.6 3704 1481.5 3696.9 1481.9 3690.2 C1482.3 3683.5 1480.7 3675.6 1479.6 3668.9 C1478.4 3662.2 1475.6 3653.2 1474.8 3650"/>
<path class="b" d="M1394.4 3650 C1396.4 3654.3 1401.5 3668.1 1406.2 3676 C1411 3683.9 1417.3 3691.8 1422.8 3697.3 C1428.3 3702.8 1433.8 3706.8 1439.3 3709.1 C1444.9 3711.5 1451.2 3712.7 1455.9 3711.5 C1460.6 3710.3 1465 3706.4 1467.7 3702 C1470.5 3697.7 1472.1 3691.8 1472.5 3685.5 C1472.8 3679.2 1471.3 3670.1 1470.1 3664.2 C1468.9 3658.3 1466.1 3652.4 1465.4 3650"/>
<path class="l" d="M1415.7 3650 C1417.7 3653.2 1423.2 3663.4 1427.5 3668.9 C1431.8 3674.4 1437 3680 1441.7 3683.1 C1446.4 3686.3 1453.5 3687.1 1455.9 3687.8 C1457.1 3686.7 1461.4 3684.7 1463 3680.8 C1464.6 3676.8 1465.8 3669.3 1465.4 3664.2 C1465 3659.1 1461.4 3652.4 1460.6 3650"/>
<path class="l" d="M1370.7 3650 C1372.3 3655.1 1377.4 3673.3 1380.2 3680.8 C1383 3688.2 1386.1 3692.6 1387.3 3694.9"/>
<path class="l" d="M1330.5 3650 C1334.9 3652.8 1347.9 3659.9 1356.5 3666.6 C1365.2 3673.3 1378.2 3686.3 1382.6 3690.2"/>
<path class="l" d="M1507.9 3664.2 L1517.4 3661.8 L1520 3664.2"/>
<path class="l" d="M1507.9 3671.3 C1509.1 3675.6 1513 3691 1515 3697.3 C1517 3703.6 1519.2 3707.2 1520 3709.1"/>
<path class="l" d="M1498.5 3728.1 C1500.1 3727.3 1504.3 3723.3 1507.9 3723.3 C1511.5 3723.3 1518 3727.3 1520 3728.1"/>
<path class="l" d="M1498.5 3730.4 L1496.1 3749.3 L1484.3 3754.1"/>
<path class="l" d="M1510.3 3730.4 L1520 3742.3"/>
</g>
<g id="fanF4">
<path class="l" d="M1672.7 3650 C1674.7 3655.9 1681.4 3673.7 1684.5 3685.5 C1687.7 3697.3 1689.8 3709.1 1691.6 3721 C1693.4 3732.8 1694.6 3744.6 1695.2 3756.4 C1695.7 3768.3 1695.7 3780.1 1695.2 3791.9 C1694.6 3803.8 1693.4 3816.4 1691.6 3827.4 C1689.8 3838.4 1687.7 3848.3 1684.5 3858.2 C1681.4 3868 1677.8 3877.9 1672.7 3886.5 C1667.6 3895.2 1660.5 3903.1 1653.8 3910.2 C1647.1 3917.3 1640.7 3923.6 1632.5 3929.1 C1624.2 3934.6 1618.3 3936.6 1604.1 3943.3 C1589.9 3950 1558 3965 1547.3 3969.3 C1536.7 3973.7 1541.4 3969.3 1540.2 3969.3 C1539 3967.8 1535.1 3963.4 1533.1 3959.9 C1531.1 3956.3 1529.2 3950 1528.4 3948"/>
<path class="l" d="M1663.2 3650 C1665.2 3655.9 1671.9 3673.7 1675 3685.5 C1678.2 3697.3 1680.4 3709.1 1682.1 3721 C1683.9 3732.8 1684.9 3744.6 1685.7 3756.4 C1686.5 3768.3 1687.3 3780.1 1686.9 3791.9 C1686.5 3803.8 1684.9 3817.2 1683.3 3827.4 C1681.7 3837.7 1680.4 3844.4 1677.4 3853.4 C1674.5 3862.5 1669.9 3873.1 1665.6 3881.8 C1661.2 3890.5 1653.8 3901.5 1651.4 3905.5"/>
<path class="l" d="M1559.1 3650 L1563.9 3659.5 C1566.2 3660.1 1572.9 3662.6 1578.1 3663 C1583.2 3663.4 1585.6 3664 1594.6 3661.8 C1603.7 3659.7 1626.2 3652 1632.5 3650"/>
<path class="l" d="M1580.4 3664.2 C1583.6 3669.3 1595.8 3687.8 1599.3 3694.9 C1602.9 3702 1602.1 3703.2 1601.7 3706.8 C1601.3 3710.3 1599.3 3713.1 1597 3716.2 C1594.6 3719.4 1589.5 3722.1 1587.5 3725.7 C1585.6 3729.2 1585.6 3735.6 1585.2 3737.5"/>
<path class="l" d="M1589.9 3664.2 L1601.7 3697.3"/>
<path class="l" d="M1611.2 3659.5 C1617.9 3665.8 1640.4 3687.1 1651.4 3697.3 C1662.4 3707.6 1673.1 3717 1677.4 3721"/>
<path class="l" d="M1646.7 3652.4 C1645.9 3653.9 1642.9 3657.5 1641.9 3661.8 C1640.9 3666.2 1640 3673.3 1640.7 3678.4 C1641.5 3683.5 1644.1 3689 1646.7 3692.6 C1649.2 3696.1 1652.2 3697.9 1656.1 3699.7 C1660.1 3701.4 1667.9 3702.6 1670.3 3703.2"/>
<path class="l" d="M1641.9 3666.6 L1660.9 3668.9 L1670.3 3697.3"/>
<path class="l" d="M1660.9 3654.7 L1663.2 3668.9"/>
<path class="l" d="M1656.1 3702 L1675 3718.6"/>
<path class="l" d="M1585.2 3737.5 C1587.5 3739.9 1593.8 3748.2 1599.3 3751.7 C1604.9 3755.3 1613.5 3757.8 1618.3 3758.8 C1623 3759.8 1617.9 3763 1627.7 3757.6 C1637.6 3752.3 1669.1 3732 1677.4 3726.9 L1678.6 3743.4 C1672.5 3746.4 1651.2 3757 1641.9 3761.2 C1632.7 3765.3 1627.3 3767.3 1623 3768.3 C1618.7 3769.3 1622.2 3771 1615.9 3767.1 C1609.6 3763.1 1590.3 3748.4 1585.2 3744.6"/>
<path class="l" d="M1581.6 3738.7 C1582.2 3749.5 1583.8 3790.2 1585.2 3803.8 C1586.5 3817.4 1589.1 3817.6 1589.9 3820.3"/>
<path class="l" d="M1677.4 3723.3 C1677.8 3726.5 1678.6 3737.9 1679.8 3742.3 C1681 3746.6 1683.3 3741.1 1684.5 3749.3 C1685.7 3757.6 1687.3 3780.1 1686.9 3791.9 C1686.5 3803.8 1682.9 3815.6 1682.1 3820.3"/>
<path class="l" d="M1641.9 3762.4 C1644.3 3767.3 1649.4 3782.5 1656.1 3791.9 C1662.8 3801.4 1677.8 3814.6 1682.1 3819.1"/>
<path class="l" d="M1592.3 3754.1 C1593.8 3756.4 1600.1 3762.8 1601.7 3768.3 C1603.3 3773.8 1602.9 3781.3 1601.7 3787.2 C1600.5 3793.1 1597 3799.4 1594.6 3803.8 C1592.3 3808.1 1588.7 3811.6 1587.5 3813.2"/>
<path class="l" d="M1587.5 3744.6 L1589.9 3801.4"/>
<path class="l" d="M1589.9 3820.3 C1592.3 3823.1 1599.3 3831.5 1604.1 3836.9 C1608.8 3842.2 1614.7 3849.5 1618.3 3852.2 C1621.8 3855 1615.1 3858.4 1625.4 3853.4 C1635.6 3848.5 1670.7 3827.8 1679.8 3822.7 L1679.8 3834.5 C1671.1 3838.4 1638 3854 1627.7 3858.2 C1617.5 3862.3 1619.9 3859.1 1618.3 3859.3 L1589.9 3829.8 C1589.5 3831.4 1589.1 3835.3 1587.5 3839.2 C1585.9 3843.2 1583.6 3848.7 1580.4 3853.4 C1577.3 3858.2 1571.2 3863.7 1568.6 3867.6 C1566 3871.6 1565.4 3873.1 1565.1 3877.1 C1564.7 3881 1564.5 3886.2 1566.2 3891.3 C1568 3896.4 1571.8 3901.9 1575.7 3907.8 C1579.6 3913.7 1587.5 3923.6 1589.9 3926.8 C1591.1 3926.8 1586.7 3931.9 1597 3926.8 C1607.2 3921.6 1641.1 3901.9 1651.4 3896 C1661.6 3890.1 1657.3 3892.1 1658.5 3891.3"/>
<path class="l" d="M1568.6 3877.1 C1569 3879.5 1568.6 3885.8 1571 3891.3 C1573.3 3896.8 1579.2 3905.1 1582.8 3910.2 C1586.3 3915.3 1590.7 3920.1 1592.3 3922"/>
<path class="l" d="M1637.2 3854.6 L1656.1 3891.3"/>
<path class="l" d="M1592.3 3930.3 C1593.8 3930.1 1592.3 3933.7 1601.7 3929.1 C1611.2 3924.6 1641.1 3907.4 1649 3903.1"/>
<path class="l" d="M1601.7 3929.1 L1604.1 3941"/>
<path class="l" d="M1507.1 3667.7 C1508.3 3667.1 1511.4 3664.4 1514.2 3664.2 C1517 3664 1512.2 3655.1 1523.7 3666.6 C1535.1 3678 1572.9 3721.8 1582.8 3732.8"/>
<path class="l" d="M1511.8 3671.3 C1517.7 3677.6 1538.2 3697.7 1547.3 3709.1 C1556.4 3720.6 1561.5 3729.2 1566.2 3739.9 C1571 3750.5 1572.9 3761.2 1575.7 3773 C1578.5 3784.8 1581.6 3804.5 1582.8 3810.9"/>
<path class="l" d="M1507.1 3667.7 C1507.5 3670.7 1506.7 3676.6 1509.5 3685.5 C1512.2 3694.4 1519.3 3708 1523.7 3721 C1528 3734 1531.5 3749.7 1535.5 3763.5 C1539.4 3777.3 1543.8 3793.1 1547.3 3803.8 C1550.9 3814.4 1554.8 3820.3 1556.8 3827.4 C1558.7 3834.5 1559.5 3838.8 1559.1 3846.3 C1558.7 3853.8 1558 3864.1 1554.4 3872.4 C1550.9 3880.6 1542.6 3890.1 1537.8 3896 C1533.1 3901.9 1528.6 3904.3 1526 3907.8 C1523.5 3911.4 1522.9 3913.4 1522.5 3917.3 C1522.1 3921.2 1521.9 3924.4 1523.7 3931.5 C1525.4 3938.6 1531.5 3955.1 1533.1 3959.9"/>
<path class="l" d="M1518.9 3716.2 C1520.5 3721 1524.4 3730.4 1528.4 3744.6 C1532.3 3758.8 1539 3787.2 1542.6 3801.4 C1546.1 3815.6 1548.9 3819.5 1549.7 3829.8 C1550.5 3840 1549.3 3852.6 1547.3 3862.9 C1545.3 3873.1 1539.4 3886.5 1537.8 3891.3"/>
<path class="l" d="M1500 3725.7 L1509.5 3725.7 C1511 3727.7 1516.8 3732.4 1518.9 3737.5 C1521.1 3742.6 1522.9 3749 1522.5 3756.4 C1522.1 3763.9 1520.3 3772.6 1516.6 3782.5 C1512.8 3792.3 1502.8 3810.1 1500 3815.6"/>
<path class="l" d="M1507.1 3726.9 C1510.3 3730.6 1521.3 3739.3 1526 3749.3 C1530.8 3759.4 1539.8 3765.9 1535.5 3787.2 C1531.1 3808.5 1505.9 3862.1 1500 3877.1"/>
<path class="l" d="M1540.2 3803.8 L1500 3888.9"/>
<path class="l" d="M1507.1 3825 L1516.6 3827.4"/>
<path class="l" d="M1500 3967 L1528.4 3950.4"/>
<path class="l" d="M1526 3910.2 C1526.4 3914.1 1526 3924.4 1528.4 3933.9 C1530.8 3943.3 1538.2 3961.5 1540.2 3967"/>
</g></g>
<g id="leaders" class="L">
<path d="M2814.4 604.4 V721.2"/>
<path d="M2711.8 888.0 V1005.0"/>
<path d="M2975.5 745.4 V861.3"/>
<path d="M1966.2 846.9 V962.9"/>
<path d="M2270.6 909.7 V1024.0"/>
<path d="M1719.6 1166.7 V1284.0"/>
<path d="M1857.4 1461.8 V1577.6"/>
<path d="M2380.4 1330.0 V1446.3"/>
<path d="M2607.2 3315.0 V3432.0"/>
<path d="M777.4 1359.0 V1476.0"/>
<path d="M1005.5 1449.6 V1566.0"/>
<path d="M1500.7 1318.0 V1434.0"/>
<path d="M1475.7 1760.6 V1878.4"/>
<path d="M722.3 2096.5 V2213.4"/>
<path d="M1162.5 2311.4 V2428.0"/>
<path d="M2259.3 2100.5 V2217.0"/>
<path d="M2292.3 2331.2 V2447.8"/>
<path d="M1546.4 2539.3 V2656.7"/>
<path d="M1770.8 2677.0 V2795.0"/>
<path d="M2792.4 2959.2 V3075.8"/>
<path d="M1315.2 3225.8 V3344.0"/>
<path d="M2206.2 3579.0 V3696.0"/>
<path d="M482.0 1402.5 H600.0"/>
<path d="M552.0 1909.2 H669.6"/>
<path d="M1585.5 1943.2 H1703.7"/>
<path d="M1191.6 2148.3 H1308.7"/>
<path d="M2031.6 2291.5 V2217 H2454.9 V2452 L2387.5 2489"/>
<path d="M2031.6 2339 V2598.5 H2198.3 L2331.5 2522.5"/>
<path d="M2077 2343 L1899.7 2240.7 V2573.6 L2134.7 2708 V3000"/>
<path d="M2146.5 2972 V2718.5 L2454.9 2895.4 V2558.3 L2307.4 2476"/>
<path d="M2158.6 2390.5 L2243 2438.7"/>
<path d="M1554.4 2682.7 L1643.8 2735.9"/>
<path d="M1875 2868.4 L2000.2 2940.3"/>
<path d="M2420 3086.4 L2717.4 2917.3"/>
<path d="M2834 2848 L3023.8 2740 L2897.8 2713.8"/>
<path d="M2227 3070 L2587.8 3279.5"/>
<path d="M2243.5 1380 L2291 1353"/>
<path d="M1759.8 1277 L1860.4 1219.6"/>
<path d="M1883.3 1428.5 L2191 1251"/>
<path d="M628.5 1460.6 V1524 L818 1632.5 V1680"/>
<path d="M784 1517.5 L903 1585.2"/>
<path d="M1040 1664 L1428.5 1887.5"/>
<path d="M1203.8 1709.4 L1506 1535"/>
<path d="M1119.2 1757.3 L1142.1 1745.8"/>
<path d="M1161.3 1880 V1810 L1555 2038 V1987"/>
<path d="M701.8 1893.3 V1826 L819 1894 V1859.5"/>
<path d="M480.4 2217.6 L365 2192.7 L930.5 1867.5"/>
<path d="M885.5 1970 L856.4 1954 V2139.5 L750.9 2080.3"/>
<path d="M1161.3 2035 V2131"/>
<path d="M1033 2057 L1097.5 2092 V2240.4 L1147.2 2268.5"/>
</g>
<g id="labels" class="t">
<text y="145.5" style="font-size:51.0px"><tspan class="m" x="2896.8" style="font-size:52.7px">E</tspan><tspan x="2926.9 2955.4 2983.9 3012.4">1391</tspan></text>
<text y="428.5"><tspan x="1221.2 1254.7 1288.2 1321.7 1355.2">49093</tspan></text>
<text y="593.0"><tspan x="2729.9 2763.4 2796.9 2830.4 2863.9">92022</tspan></text>
<text y="1058.0"><tspan x="2628.6 2662.1 2695.6 2729.1 2762.6">92022</tspan></text>
<text y="913.0"><tspan x="2892.2 2925.7 2959.2 2992.7 3026.2">92210</tspan></text>
<text y="836.0"><tspan x="1885.2 1918.7 1952.2 1985.7 2019.2">14092</tspan></text>
<text y="899.0"><tspan x="2187.4 2220.9 2254.4 2287.9 2321.4">92028</tspan></text>
<text y="1155.5"><tspan x="1636.8 1670.3 1703.8 1737.3 1770.8">92043</tspan></text>
<text y="1631.0"><tspan x="1773.7 1807.2 1840.7 1874.2 1907.7">92043</tspan></text>
<text y="1498.0"><tspan x="2333.5 2367.0 2400.5">130</tspan></text>
<text y="3485.0"><tspan x="2523.8 2557.3 2590.8 2624.3 2657.8">92019</tspan></text>
<text y="1348.5"><tspan x="678.4 711.9 745.4 778.9 812.4">49048</tspan><tspan class="m" x="843.9">C</tspan></text>
<text y="1423.0"><tspan x="279.8 313.3 346.8 380.3 413.8">49048</tspan><tspan class="m" x="445.3">C</tspan></text>
<text y="1439.0"><tspan x="922.6 956.1 989.6 1023.1 1056.6">49050</tspan></text>
<text y="1931.0"><tspan x="349.8 383.3 416.8 450.3 483.8">49048</tspan><tspan class="m" x="515.4">C</tspan></text>
<text y="1307.0"><tspan x="1417.5 1451.0 1484.5 1518.0 1551.5">92145</tspan></text>
<text y="1750.0"><tspan x="1325.3 1358.8 1392.3 1425.8 1459.3">49048</tspan><tspan class="m" x="1490.9 1524.4 1557.9 1591.4">/A~H</tspan></text>
<text y="1966.0"><tspan x="1705.6 1739.1 1772.6 1806.1 1839.6">49048</tspan><tspan class="m" x="1871.2">C</tspan></text>
<text y="2170.0"><tspan x="1312.1 1345.6 1379.1 1412.6 1446.1">49048</tspan><tspan class="m" x="1477.7">C</tspan></text>
<text y="2266.5"><tspan x="573.1 606.6 640.1 673.6 707.1">49048</tspan><tspan class="m" x="738.7 772.2 805.7 839.2">/A~H</tspan></text>
<text y="2482.0"><tspan x="1063.6 1097.1 1130.6 1164.1 1197.6">49048</tspan><tspan class="m" x="1229.2">C</tspan></text>
<text y="2088.0"><tspan x="2175.5 2209.0 2242.5 2276.0 2309.5">39152</tspan></text>
<text y="2319.0"><tspan x="2207.8 2241.3 2274.8 2308.3 2341.8">92139</tspan></text>
<text y="2527.0"><tspan x="1461.8 1495.3 1528.8 1562.3 1595.8">92019</tspan></text>
<text y="2666.0"><tspan x="1670.4 1703.9 1737.4 1770.9 1804.4">92043</tspan><tspan class="m" x="1836.0">A</tspan></text>
<text y="3128.0"><tspan x="2692.6 2726.1 2759.6 2793.1 2826.6">92028</tspan><tspan class="m" x="2858.2">A</tspan></text>
<text y="3215.0"><tspan x="1232.3 1265.8 1299.3 1332.8 1366.3">59302</tspan></text>
<text y="3745.0"><tspan x="2123.3 2156.8 2190.3 2223.8 2257.3">59301</tspan></text>
</g>
</svg>
</body>
</html>
